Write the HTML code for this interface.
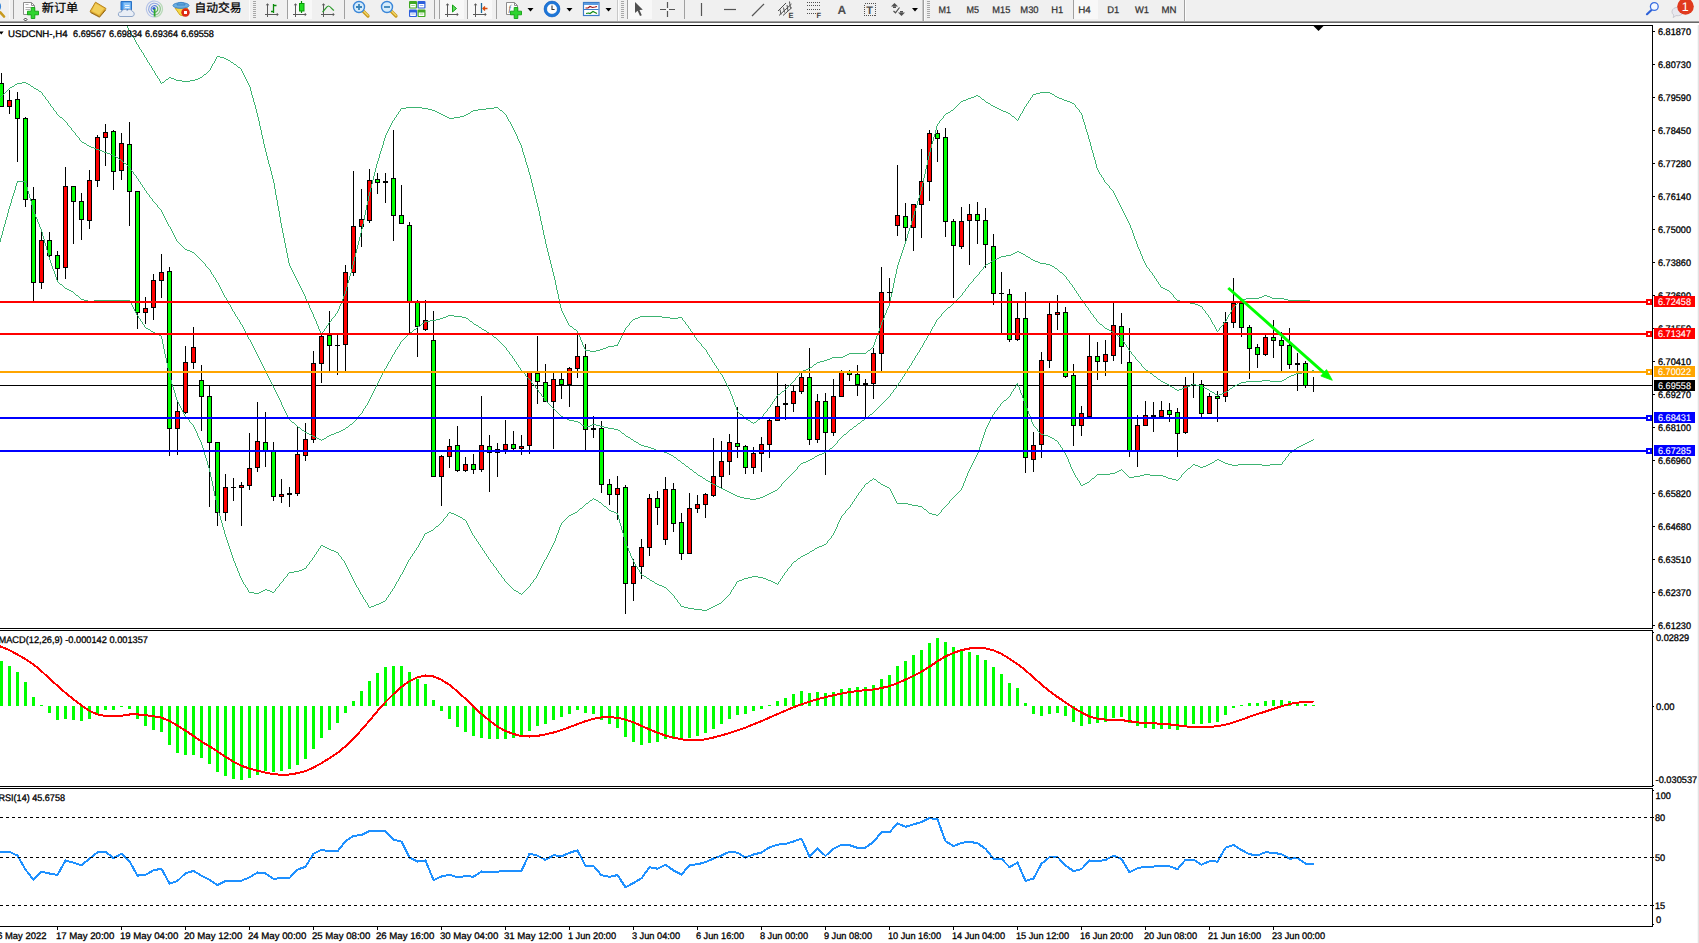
<!DOCTYPE html>
<html><head><meta charset="utf-8"><title>USDCNH-,H4</title>
<style>
html,body{margin:0;padding:0;background:#fff;overflow:hidden}
svg{display:block;font-family:"Liberation Sans","Noto Sans CJK SC",sans-serif;text-rendering:geometricPrecision}
</style></head>
<body>
<svg width="1699" height="943" viewBox="0 0 1699 943">
<rect x="0" y="0" width="1699" height="943" fill="#fff"/>
<g shape-rendering="crispEdges">
<rect x="0" y="25" width="1653" height="1" fill="#000"/>
<rect x="1652" y="25" width="1" height="604" fill="#000"/>
<rect x="0" y="628" width="1653" height="1" fill="#000"/>
<rect x="0" y="630" width="1653" height="1" fill="#000"/>
<rect x="1652" y="630" width="1" height="157" fill="#000"/>
<rect x="0" y="786" width="1653" height="1" fill="#000"/>
<rect x="0" y="788" width="1653" height="1" fill="#000"/>
<rect x="1652" y="788" width="1" height="139" fill="#000"/>
<rect x="0" y="926" width="1653" height="1" fill="#000"/>
<rect x="1653" y="31" width="2" height="1" fill="#000"/>
<rect x="1653" y="64" width="2" height="1" fill="#000"/>
<rect x="1653" y="97" width="2" height="1" fill="#000"/>
<rect x="1653" y="130" width="2" height="1" fill="#000"/>
<rect x="1653" y="163" width="2" height="1" fill="#000"/>
<rect x="1653" y="196" width="2" height="1" fill="#000"/>
<rect x="1653" y="229" width="2" height="1" fill="#000"/>
<rect x="1653" y="262" width="2" height="1" fill="#000"/>
<rect x="1653" y="295" width="2" height="1" fill="#000"/>
<rect x="1653" y="328" width="2" height="1" fill="#000"/>
<rect x="1653" y="361" width="2" height="1" fill="#000"/>
<rect x="1653" y="394" width="2" height="1" fill="#000"/>
<rect x="1653" y="427" width="2" height="1" fill="#000"/>
<rect x="1653" y="460" width="2" height="1" fill="#000"/>
<rect x="1653" y="493" width="2" height="1" fill="#000"/>
<rect x="1653" y="526" width="2" height="1" fill="#000"/>
<rect x="1653" y="559" width="2" height="1" fill="#000"/>
<rect x="1653" y="592" width="2" height="1" fill="#000"/>
<rect x="1653" y="625" width="2" height="1" fill="#000"/>
<rect x="1653" y="632" width="1" height="1" fill="#000"/>
<rect x="1653" y="706" width="1" height="1" fill="#000"/>
<rect x="1653" y="785" width="1" height="1" fill="#000"/>
<rect x="1653" y="790" width="1" height="1" fill="#000"/>
<rect x="1653" y="817" width="1" height="1" fill="#000"/>
<rect x="1653" y="857" width="1" height="1" fill="#000"/>
<rect x="1653" y="905" width="1" height="1" fill="#000"/>
<rect x="1653" y="924" width="1" height="1" fill="#000"/>
<rect x="57" y="927" width="1" height="3" fill="#000"/>
<rect x="121" y="927" width="1" height="3" fill="#000"/>
<rect x="185" y="927" width="1" height="3" fill="#000"/>
<rect x="249" y="927" width="1" height="3" fill="#000"/>
<rect x="313" y="927" width="1" height="3" fill="#000"/>
<rect x="377" y="927" width="1" height="3" fill="#000"/>
<rect x="441" y="927" width="1" height="3" fill="#000"/>
<rect x="505" y="927" width="1" height="3" fill="#000"/>
<rect x="569" y="927" width="1" height="3" fill="#000"/>
<rect x="633" y="927" width="1" height="3" fill="#000"/>
<rect x="697" y="927" width="1" height="3" fill="#000"/>
<rect x="761" y="927" width="1" height="3" fill="#000"/>
<rect x="825" y="927" width="1" height="3" fill="#000"/>
<rect x="889" y="927" width="1" height="3" fill="#000"/>
<rect x="953" y="927" width="1" height="3" fill="#000"/>
<rect x="1017" y="927" width="1" height="3" fill="#000"/>
<rect x="1081" y="927" width="1" height="3" fill="#000"/>
<rect x="1145" y="927" width="1" height="3" fill="#000"/>
<rect x="1209" y="927" width="1" height="3" fill="#000"/>
<rect x="1273" y="927" width="1" height="3" fill="#000"/>
<rect x="0" y="385" width="1652" height="1" fill="#000"/>
<rect x="1" y="73" width="1" height="34" fill="#000"/>
<rect x="-1" y="83" width="5" height="24" fill="#000"/>
<rect x="0" y="84" width="3" height="22" fill="#00ff00"/>
<rect x="9" y="90" width="1" height="24" fill="#000"/>
<rect x="7" y="100" width="5" height="7" fill="#000"/>
<rect x="8" y="101" width="3" height="5" fill="#ff0000"/>
<rect x="17" y="92" width="1" height="70" fill="#000"/>
<rect x="15" y="99" width="5" height="20" fill="#000"/>
<rect x="16" y="100" width="3" height="18" fill="#00ff00"/>
<rect x="25" y="117" width="1" height="90" fill="#000"/>
<rect x="23" y="118" width="5" height="82" fill="#000"/>
<rect x="24" y="119" width="3" height="80" fill="#00ff00"/>
<rect x="33" y="187" width="1" height="114" fill="#000"/>
<rect x="31" y="199" width="5" height="84" fill="#000"/>
<rect x="32" y="200" width="3" height="82" fill="#00ff00"/>
<rect x="41" y="229" width="1" height="60" fill="#000"/>
<rect x="39" y="240" width="5" height="43" fill="#000"/>
<rect x="40" y="241" width="3" height="41" fill="#ff0000"/>
<rect x="49" y="232" width="1" height="28" fill="#000"/>
<rect x="47" y="240" width="5" height="16" fill="#000"/>
<rect x="48" y="241" width="3" height="14" fill="#00ff00"/>
<rect x="57" y="251" width="1" height="29" fill="#000"/>
<rect x="55" y="255" width="5" height="14" fill="#000"/>
<rect x="56" y="256" width="3" height="12" fill="#00ff00"/>
<rect x="65" y="167" width="1" height="112" fill="#000"/>
<rect x="63" y="186" width="5" height="82" fill="#000"/>
<rect x="64" y="187" width="3" height="80" fill="#ff0000"/>
<rect x="73" y="186" width="1" height="58" fill="#000"/>
<rect x="71" y="186" width="5" height="16" fill="#000"/>
<rect x="72" y="187" width="3" height="14" fill="#00ff00"/>
<rect x="81" y="193" width="1" height="47" fill="#000"/>
<rect x="79" y="201" width="5" height="19" fill="#000"/>
<rect x="80" y="202" width="3" height="17" fill="#00ff00"/>
<rect x="89" y="170" width="1" height="59" fill="#000"/>
<rect x="87" y="180" width="5" height="41" fill="#000"/>
<rect x="88" y="181" width="3" height="39" fill="#ff0000"/>
<rect x="97" y="135" width="1" height="52" fill="#000"/>
<rect x="95" y="137" width="5" height="44" fill="#000"/>
<rect x="96" y="138" width="3" height="42" fill="#ff0000"/>
<rect x="105" y="124" width="1" height="42" fill="#000"/>
<rect x="103" y="132" width="5" height="6" fill="#000"/>
<rect x="104" y="133" width="3" height="4" fill="#ff0000"/>
<rect x="113" y="130" width="1" height="60" fill="#000"/>
<rect x="111" y="131" width="5" height="41" fill="#000"/>
<rect x="112" y="132" width="3" height="39" fill="#00ff00"/>
<rect x="121" y="133" width="1" height="47" fill="#000"/>
<rect x="119" y="143" width="5" height="28" fill="#000"/>
<rect x="120" y="144" width="3" height="26" fill="#ff0000"/>
<rect x="129" y="122" width="1" height="104" fill="#000"/>
<rect x="127" y="144" width="5" height="48" fill="#000"/>
<rect x="128" y="145" width="3" height="46" fill="#00ff00"/>
<rect x="137" y="191" width="1" height="138" fill="#000"/>
<rect x="135" y="191" width="5" height="122" fill="#000"/>
<rect x="136" y="192" width="3" height="120" fill="#00ff00"/>
<rect x="145" y="297" width="1" height="27" fill="#000"/>
<rect x="143" y="308" width="5" height="5" fill="#000"/>
<rect x="144" y="309" width="3" height="3" fill="#ff0000"/>
<rect x="153" y="274" width="1" height="46" fill="#000"/>
<rect x="151" y="280" width="5" height="28" fill="#000"/>
<rect x="152" y="281" width="3" height="26" fill="#ff0000"/>
<rect x="161" y="254" width="1" height="44" fill="#000"/>
<rect x="159" y="272" width="5" height="9" fill="#000"/>
<rect x="160" y="273" width="3" height="7" fill="#ff0000"/>
<rect x="169" y="267" width="1" height="189" fill="#000"/>
<rect x="167" y="271" width="5" height="158" fill="#000"/>
<rect x="168" y="272" width="3" height="156" fill="#00ff00"/>
<rect x="177" y="402" width="1" height="53" fill="#000"/>
<rect x="175" y="411" width="5" height="18" fill="#000"/>
<rect x="176" y="412" width="3" height="16" fill="#ff0000"/>
<rect x="185" y="346" width="1" height="68" fill="#000"/>
<rect x="183" y="362" width="5" height="51" fill="#000"/>
<rect x="184" y="363" width="3" height="49" fill="#ff0000"/>
<rect x="193" y="327" width="1" height="42" fill="#000"/>
<rect x="191" y="347" width="5" height="16" fill="#000"/>
<rect x="192" y="348" width="3" height="14" fill="#ff0000"/>
<rect x="201" y="365" width="1" height="66" fill="#000"/>
<rect x="199" y="380" width="5" height="17" fill="#000"/>
<rect x="200" y="381" width="3" height="15" fill="#00ff00"/>
<rect x="209" y="386" width="1" height="121" fill="#000"/>
<rect x="207" y="396" width="5" height="47" fill="#000"/>
<rect x="208" y="397" width="3" height="45" fill="#00ff00"/>
<rect x="217" y="442" width="1" height="84" fill="#000"/>
<rect x="215" y="442" width="5" height="71" fill="#000"/>
<rect x="216" y="443" width="3" height="69" fill="#00ff00"/>
<rect x="225" y="474" width="1" height="47" fill="#000"/>
<rect x="223" y="487" width="5" height="26" fill="#000"/>
<rect x="224" y="488" width="3" height="24" fill="#ff0000"/>
<rect x="233" y="478" width="1" height="23" fill="#000"/>
<rect x="231" y="487" width="5" height="1" fill="#000"/>
<rect x="241" y="482" width="1" height="44" fill="#000"/>
<rect x="239" y="485" width="5" height="3" fill="#000"/>
<rect x="240" y="486" width="3" height="1" fill="#ff0000"/>
<rect x="249" y="433" width="1" height="57" fill="#000"/>
<rect x="247" y="468" width="5" height="18" fill="#000"/>
<rect x="248" y="469" width="3" height="16" fill="#ff0000"/>
<rect x="257" y="402" width="1" height="70" fill="#000"/>
<rect x="255" y="441" width="5" height="27" fill="#000"/>
<rect x="256" y="442" width="3" height="25" fill="#ff0000"/>
<rect x="265" y="412" width="1" height="55" fill="#000"/>
<rect x="263" y="442" width="5" height="9" fill="#000"/>
<rect x="264" y="443" width="3" height="7" fill="#00ff00"/>
<rect x="273" y="442" width="1" height="59" fill="#000"/>
<rect x="271" y="450" width="5" height="47" fill="#000"/>
<rect x="272" y="451" width="3" height="45" fill="#00ff00"/>
<rect x="281" y="479" width="1" height="24" fill="#000"/>
<rect x="279" y="494" width="5" height="3" fill="#000"/>
<rect x="280" y="495" width="3" height="1" fill="#ff0000"/>
<rect x="289" y="487" width="1" height="20" fill="#000"/>
<rect x="287" y="493" width="5" height="2" fill="#000"/>
<rect x="297" y="427" width="1" height="69" fill="#000"/>
<rect x="295" y="454" width="5" height="40" fill="#000"/>
<rect x="296" y="455" width="3" height="38" fill="#ff0000"/>
<rect x="305" y="423" width="1" height="38" fill="#000"/>
<rect x="303" y="439" width="5" height="17" fill="#000"/>
<rect x="304" y="440" width="3" height="15" fill="#ff0000"/>
<rect x="313" y="351" width="1" height="92" fill="#000"/>
<rect x="311" y="363" width="5" height="77" fill="#000"/>
<rect x="312" y="364" width="3" height="75" fill="#ff0000"/>
<rect x="321" y="335" width="1" height="48" fill="#000"/>
<rect x="319" y="336" width="5" height="28" fill="#000"/>
<rect x="320" y="337" width="3" height="26" fill="#ff0000"/>
<rect x="329" y="311" width="1" height="60" fill="#000"/>
<rect x="327" y="335" width="5" height="11" fill="#000"/>
<rect x="328" y="336" width="3" height="9" fill="#00ff00"/>
<rect x="337" y="335" width="1" height="40" fill="#000"/>
<rect x="335" y="345" width="5" height="1" fill="#000"/>
<rect x="345" y="265" width="1" height="107" fill="#000"/>
<rect x="343" y="272" width="5" height="73" fill="#000"/>
<rect x="344" y="273" width="3" height="71" fill="#ff0000"/>
<rect x="353" y="171" width="1" height="105" fill="#000"/>
<rect x="351" y="226" width="5" height="47" fill="#000"/>
<rect x="352" y="227" width="3" height="45" fill="#ff0000"/>
<rect x="361" y="189" width="1" height="58" fill="#000"/>
<rect x="359" y="219" width="5" height="8" fill="#000"/>
<rect x="360" y="220" width="3" height="6" fill="#ff0000"/>
<rect x="369" y="169" width="1" height="54" fill="#000"/>
<rect x="367" y="180" width="5" height="41" fill="#000"/>
<rect x="368" y="181" width="3" height="39" fill="#ff0000"/>
<rect x="377" y="173" width="1" height="21" fill="#000"/>
<rect x="375" y="179" width="5" height="4" fill="#000"/>
<rect x="376" y="180" width="3" height="2" fill="#00ff00"/>
<rect x="385" y="173" width="1" height="30" fill="#000"/>
<rect x="383" y="181" width="5" height="2" fill="#000"/>
<rect x="393" y="130" width="1" height="111" fill="#000"/>
<rect x="391" y="178" width="5" height="38" fill="#000"/>
<rect x="392" y="179" width="3" height="36" fill="#00ff00"/>
<rect x="401" y="185" width="1" height="39" fill="#000"/>
<rect x="399" y="215" width="5" height="9" fill="#000"/>
<rect x="400" y="216" width="3" height="7" fill="#00ff00"/>
<rect x="409" y="222" width="1" height="111" fill="#000"/>
<rect x="407" y="225" width="5" height="77" fill="#000"/>
<rect x="408" y="226" width="3" height="75" fill="#00ff00"/>
<rect x="417" y="300" width="1" height="57" fill="#000"/>
<rect x="415" y="302" width="5" height="25" fill="#000"/>
<rect x="416" y="303" width="3" height="23" fill="#00ff00"/>
<rect x="425" y="300" width="1" height="31" fill="#000"/>
<rect x="423" y="320" width="5" height="10" fill="#000"/>
<rect x="424" y="321" width="3" height="8" fill="#ff0000"/>
<rect x="433" y="311" width="1" height="166" fill="#000"/>
<rect x="431" y="340" width="5" height="137" fill="#000"/>
<rect x="432" y="341" width="3" height="135" fill="#00ff00"/>
<rect x="441" y="455" width="1" height="51" fill="#000"/>
<rect x="439" y="456" width="5" height="21" fill="#000"/>
<rect x="440" y="457" width="3" height="19" fill="#ff0000"/>
<rect x="449" y="439" width="1" height="29" fill="#000"/>
<rect x="447" y="446" width="5" height="11" fill="#000"/>
<rect x="448" y="447" width="3" height="9" fill="#ff0000"/>
<rect x="457" y="426" width="1" height="46" fill="#000"/>
<rect x="455" y="445" width="5" height="26" fill="#000"/>
<rect x="456" y="446" width="3" height="24" fill="#00ff00"/>
<rect x="465" y="457" width="1" height="15" fill="#000"/>
<rect x="463" y="464" width="5" height="7" fill="#000"/>
<rect x="464" y="465" width="3" height="5" fill="#ff0000"/>
<rect x="473" y="454" width="1" height="20" fill="#000"/>
<rect x="471" y="464" width="5" height="6" fill="#000"/>
<rect x="472" y="465" width="3" height="4" fill="#00ff00"/>
<rect x="481" y="396" width="1" height="76" fill="#000"/>
<rect x="479" y="445" width="5" height="25" fill="#000"/>
<rect x="480" y="446" width="3" height="23" fill="#ff0000"/>
<rect x="489" y="435" width="1" height="57" fill="#000"/>
<rect x="487" y="446" width="5" height="7" fill="#000"/>
<rect x="488" y="447" width="3" height="5" fill="#00ff00"/>
<rect x="497" y="443" width="1" height="34" fill="#000"/>
<rect x="495" y="449" width="5" height="4" fill="#000"/>
<rect x="496" y="450" width="3" height="2" fill="#ff0000"/>
<rect x="505" y="420" width="1" height="34" fill="#000"/>
<rect x="503" y="444" width="5" height="6" fill="#000"/>
<rect x="504" y="445" width="3" height="4" fill="#ff0000"/>
<rect x="513" y="431" width="1" height="19" fill="#000"/>
<rect x="511" y="444" width="5" height="5" fill="#000"/>
<rect x="512" y="445" width="3" height="3" fill="#00ff00"/>
<rect x="521" y="435" width="1" height="20" fill="#000"/>
<rect x="519" y="446" width="5" height="3" fill="#000"/>
<rect x="520" y="447" width="3" height="1" fill="#ff0000"/>
<rect x="529" y="372" width="1" height="82" fill="#000"/>
<rect x="527" y="372" width="5" height="74" fill="#000"/>
<rect x="528" y="373" width="3" height="72" fill="#ff0000"/>
<rect x="537" y="336" width="1" height="68" fill="#000"/>
<rect x="535" y="373" width="5" height="9" fill="#000"/>
<rect x="536" y="374" width="3" height="7" fill="#00ff00"/>
<rect x="545" y="364" width="1" height="38" fill="#000"/>
<rect x="543" y="382" width="5" height="20" fill="#000"/>
<rect x="544" y="383" width="3" height="18" fill="#00ff00"/>
<rect x="553" y="373" width="1" height="76" fill="#000"/>
<rect x="551" y="379" width="5" height="23" fill="#000"/>
<rect x="552" y="380" width="3" height="21" fill="#ff0000"/>
<rect x="561" y="373" width="1" height="26" fill="#000"/>
<rect x="559" y="379" width="5" height="6" fill="#000"/>
<rect x="560" y="380" width="3" height="4" fill="#00ff00"/>
<rect x="569" y="367" width="1" height="40" fill="#000"/>
<rect x="567" y="368" width="5" height="17" fill="#000"/>
<rect x="568" y="369" width="3" height="15" fill="#ff0000"/>
<rect x="577" y="332" width="1" height="46" fill="#000"/>
<rect x="575" y="356" width="5" height="13" fill="#000"/>
<rect x="576" y="357" width="3" height="11" fill="#ff0000"/>
<rect x="585" y="344" width="1" height="106" fill="#000"/>
<rect x="583" y="356" width="5" height="74" fill="#000"/>
<rect x="584" y="357" width="3" height="72" fill="#00ff00"/>
<rect x="593" y="416" width="1" height="22" fill="#000"/>
<rect x="591" y="428" width="5" height="2" fill="#000"/>
<rect x="601" y="421" width="1" height="72" fill="#000"/>
<rect x="599" y="428" width="5" height="57" fill="#000"/>
<rect x="600" y="429" width="3" height="55" fill="#00ff00"/>
<rect x="609" y="479" width="1" height="26" fill="#000"/>
<rect x="607" y="484" width="5" height="11" fill="#000"/>
<rect x="608" y="485" width="3" height="9" fill="#00ff00"/>
<rect x="617" y="476" width="1" height="44" fill="#000"/>
<rect x="615" y="488" width="5" height="7" fill="#000"/>
<rect x="616" y="489" width="3" height="5" fill="#ff0000"/>
<rect x="625" y="485" width="1" height="129" fill="#000"/>
<rect x="623" y="487" width="5" height="97" fill="#000"/>
<rect x="624" y="488" width="3" height="95" fill="#00ff00"/>
<rect x="633" y="559" width="1" height="42" fill="#000"/>
<rect x="631" y="566" width="5" height="18" fill="#000"/>
<rect x="632" y="567" width="3" height="16" fill="#ff0000"/>
<rect x="641" y="539" width="1" height="40" fill="#000"/>
<rect x="639" y="547" width="5" height="20" fill="#000"/>
<rect x="640" y="548" width="3" height="18" fill="#ff0000"/>
<rect x="649" y="494" width="1" height="62" fill="#000"/>
<rect x="647" y="498" width="5" height="50" fill="#000"/>
<rect x="648" y="499" width="3" height="48" fill="#ff0000"/>
<rect x="657" y="491" width="1" height="34" fill="#000"/>
<rect x="655" y="498" width="5" height="10" fill="#000"/>
<rect x="656" y="499" width="3" height="8" fill="#00ff00"/>
<rect x="665" y="477" width="1" height="68" fill="#000"/>
<rect x="663" y="489" width="5" height="51" fill="#000"/>
<rect x="664" y="490" width="3" height="49" fill="#ff0000"/>
<rect x="673" y="483" width="1" height="49" fill="#000"/>
<rect x="671" y="489" width="5" height="35" fill="#000"/>
<rect x="672" y="490" width="3" height="33" fill="#00ff00"/>
<rect x="681" y="513" width="1" height="47" fill="#000"/>
<rect x="679" y="522" width="5" height="32" fill="#000"/>
<rect x="680" y="523" width="3" height="30" fill="#00ff00"/>
<rect x="689" y="493" width="1" height="61" fill="#000"/>
<rect x="687" y="508" width="5" height="46" fill="#000"/>
<rect x="688" y="509" width="3" height="44" fill="#ff0000"/>
<rect x="697" y="495" width="1" height="18" fill="#000"/>
<rect x="695" y="504" width="5" height="5" fill="#000"/>
<rect x="696" y="505" width="3" height="3" fill="#ff0000"/>
<rect x="705" y="493" width="1" height="25" fill="#000"/>
<rect x="703" y="494" width="5" height="11" fill="#000"/>
<rect x="704" y="495" width="3" height="9" fill="#ff0000"/>
<rect x="713" y="438" width="1" height="59" fill="#000"/>
<rect x="711" y="476" width="5" height="20" fill="#000"/>
<rect x="712" y="477" width="3" height="18" fill="#ff0000"/>
<rect x="721" y="441" width="1" height="47" fill="#000"/>
<rect x="719" y="461" width="5" height="16" fill="#000"/>
<rect x="720" y="462" width="3" height="14" fill="#ff0000"/>
<rect x="729" y="434" width="1" height="41" fill="#000"/>
<rect x="727" y="442" width="5" height="20" fill="#000"/>
<rect x="728" y="443" width="3" height="18" fill="#ff0000"/>
<rect x="737" y="407" width="1" height="51" fill="#000"/>
<rect x="735" y="443" width="5" height="4" fill="#000"/>
<rect x="736" y="444" width="3" height="2" fill="#00ff00"/>
<rect x="745" y="445" width="1" height="29" fill="#000"/>
<rect x="743" y="446" width="5" height="22" fill="#000"/>
<rect x="744" y="447" width="3" height="20" fill="#00ff00"/>
<rect x="753" y="447" width="1" height="27" fill="#000"/>
<rect x="751" y="453" width="5" height="15" fill="#000"/>
<rect x="752" y="454" width="3" height="13" fill="#ff0000"/>
<rect x="761" y="437" width="1" height="35" fill="#000"/>
<rect x="759" y="444" width="5" height="10" fill="#000"/>
<rect x="760" y="445" width="3" height="8" fill="#ff0000"/>
<rect x="769" y="419" width="1" height="39" fill="#000"/>
<rect x="767" y="420" width="5" height="25" fill="#000"/>
<rect x="768" y="421" width="3" height="23" fill="#ff0000"/>
<rect x="777" y="372" width="1" height="49" fill="#000"/>
<rect x="775" y="406" width="5" height="15" fill="#000"/>
<rect x="776" y="407" width="3" height="13" fill="#ff0000"/>
<rect x="785" y="384" width="1" height="36" fill="#000"/>
<rect x="783" y="403" width="5" height="2" fill="#000"/>
<rect x="793" y="385" width="1" height="27" fill="#000"/>
<rect x="791" y="391" width="5" height="13" fill="#000"/>
<rect x="792" y="392" width="3" height="11" fill="#ff0000"/>
<rect x="801" y="373" width="1" height="21" fill="#000"/>
<rect x="799" y="377" width="5" height="15" fill="#000"/>
<rect x="800" y="378" width="3" height="13" fill="#ff0000"/>
<rect x="809" y="348" width="1" height="97" fill="#000"/>
<rect x="807" y="377" width="5" height="63" fill="#000"/>
<rect x="808" y="378" width="3" height="61" fill="#00ff00"/>
<rect x="817" y="394" width="1" height="49" fill="#000"/>
<rect x="815" y="401" width="5" height="39" fill="#000"/>
<rect x="816" y="402" width="3" height="37" fill="#ff0000"/>
<rect x="825" y="393" width="1" height="82" fill="#000"/>
<rect x="823" y="401" width="5" height="32" fill="#000"/>
<rect x="824" y="402" width="3" height="30" fill="#00ff00"/>
<rect x="833" y="379" width="1" height="57" fill="#000"/>
<rect x="831" y="396" width="5" height="37" fill="#000"/>
<rect x="832" y="397" width="3" height="35" fill="#ff0000"/>
<rect x="841" y="370" width="1" height="27" fill="#000"/>
<rect x="839" y="372" width="5" height="25" fill="#000"/>
<rect x="840" y="373" width="3" height="23" fill="#ff0000"/>
<rect x="849" y="370" width="1" height="11" fill="#000"/>
<rect x="847" y="372" width="5" height="3" fill="#000"/>
<rect x="848" y="373" width="3" height="1" fill="#00ff00"/>
<rect x="857" y="365" width="1" height="31" fill="#000"/>
<rect x="855" y="374" width="5" height="11" fill="#000"/>
<rect x="856" y="375" width="3" height="9" fill="#00ff00"/>
<rect x="865" y="379" width="1" height="38" fill="#000"/>
<rect x="863" y="383" width="5" height="2" fill="#000"/>
<rect x="873" y="348" width="1" height="51" fill="#000"/>
<rect x="871" y="353" width="5" height="31" fill="#000"/>
<rect x="872" y="354" width="3" height="29" fill="#ff0000"/>
<rect x="881" y="267" width="1" height="104" fill="#000"/>
<rect x="879" y="292" width="5" height="62" fill="#000"/>
<rect x="880" y="293" width="3" height="60" fill="#ff0000"/>
<rect x="889" y="278" width="1" height="23" fill="#000"/>
<rect x="887" y="292" width="5" height="1" fill="#000"/>
<rect x="897" y="165" width="1" height="71" fill="#000"/>
<rect x="895" y="215" width="5" height="11" fill="#000"/>
<rect x="896" y="216" width="3" height="9" fill="#ff0000"/>
<rect x="905" y="203" width="1" height="39" fill="#000"/>
<rect x="903" y="216" width="5" height="12" fill="#000"/>
<rect x="904" y="217" width="3" height="10" fill="#00ff00"/>
<rect x="913" y="204" width="1" height="47" fill="#000"/>
<rect x="911" y="204" width="5" height="24" fill="#000"/>
<rect x="912" y="205" width="3" height="22" fill="#ff0000"/>
<rect x="921" y="149" width="1" height="89" fill="#000"/>
<rect x="919" y="181" width="5" height="24" fill="#000"/>
<rect x="920" y="182" width="3" height="22" fill="#ff0000"/>
<rect x="929" y="130" width="1" height="71" fill="#000"/>
<rect x="927" y="133" width="5" height="49" fill="#000"/>
<rect x="928" y="134" width="3" height="47" fill="#ff0000"/>
<rect x="937" y="130" width="1" height="32" fill="#000"/>
<rect x="935" y="133" width="5" height="6" fill="#000"/>
<rect x="936" y="134" width="3" height="4" fill="#00ff00"/>
<rect x="945" y="128" width="1" height="109" fill="#000"/>
<rect x="943" y="137" width="5" height="85" fill="#000"/>
<rect x="944" y="138" width="3" height="83" fill="#00ff00"/>
<rect x="953" y="219" width="1" height="79" fill="#000"/>
<rect x="951" y="221" width="5" height="25" fill="#000"/>
<rect x="952" y="222" width="3" height="23" fill="#00ff00"/>
<rect x="961" y="207" width="1" height="42" fill="#000"/>
<rect x="959" y="221" width="5" height="26" fill="#000"/>
<rect x="960" y="222" width="3" height="24" fill="#ff0000"/>
<rect x="969" y="204" width="1" height="61" fill="#000"/>
<rect x="967" y="214" width="5" height="7" fill="#000"/>
<rect x="968" y="215" width="3" height="5" fill="#ff0000"/>
<rect x="977" y="202" width="1" height="42" fill="#000"/>
<rect x="975" y="214" width="5" height="7" fill="#000"/>
<rect x="976" y="215" width="3" height="5" fill="#00ff00"/>
<rect x="985" y="208" width="1" height="60" fill="#000"/>
<rect x="983" y="220" width="5" height="25" fill="#000"/>
<rect x="984" y="221" width="3" height="23" fill="#00ff00"/>
<rect x="993" y="234" width="1" height="71" fill="#000"/>
<rect x="991" y="246" width="5" height="48" fill="#000"/>
<rect x="992" y="247" width="3" height="46" fill="#00ff00"/>
<rect x="1001" y="272" width="1" height="61" fill="#000"/>
<rect x="999" y="293" width="5" height="1" fill="#000"/>
<rect x="1009" y="289" width="1" height="53" fill="#000"/>
<rect x="1007" y="294" width="5" height="46" fill="#000"/>
<rect x="1008" y="295" width="3" height="44" fill="#00ff00"/>
<rect x="1017" y="303" width="1" height="38" fill="#000"/>
<rect x="1015" y="318" width="5" height="22" fill="#000"/>
<rect x="1016" y="319" width="3" height="20" fill="#ff0000"/>
<rect x="1025" y="292" width="1" height="181" fill="#000"/>
<rect x="1023" y="318" width="5" height="140" fill="#000"/>
<rect x="1024" y="319" width="3" height="138" fill="#00ff00"/>
<rect x="1033" y="432" width="1" height="40" fill="#000"/>
<rect x="1031" y="445" width="5" height="15" fill="#000"/>
<rect x="1032" y="446" width="3" height="13" fill="#ff0000"/>
<rect x="1041" y="352" width="1" height="106" fill="#000"/>
<rect x="1039" y="360" width="5" height="85" fill="#000"/>
<rect x="1040" y="361" width="3" height="83" fill="#ff0000"/>
<rect x="1049" y="303" width="1" height="65" fill="#000"/>
<rect x="1047" y="314" width="5" height="47" fill="#000"/>
<rect x="1048" y="315" width="3" height="45" fill="#ff0000"/>
<rect x="1057" y="295" width="1" height="35" fill="#000"/>
<rect x="1055" y="312" width="5" height="3" fill="#000"/>
<rect x="1056" y="313" width="3" height="1" fill="#ff0000"/>
<rect x="1065" y="307" width="1" height="71" fill="#000"/>
<rect x="1063" y="312" width="5" height="65" fill="#000"/>
<rect x="1064" y="313" width="3" height="63" fill="#00ff00"/>
<rect x="1073" y="364" width="1" height="82" fill="#000"/>
<rect x="1071" y="375" width="5" height="51" fill="#000"/>
<rect x="1072" y="376" width="3" height="49" fill="#00ff00"/>
<rect x="1081" y="406" width="1" height="30" fill="#000"/>
<rect x="1079" y="413" width="5" height="13" fill="#000"/>
<rect x="1080" y="414" width="3" height="11" fill="#ff0000"/>
<rect x="1089" y="335" width="1" height="82" fill="#000"/>
<rect x="1087" y="356" width="5" height="61" fill="#000"/>
<rect x="1088" y="357" width="3" height="59" fill="#ff0000"/>
<rect x="1097" y="342" width="1" height="38" fill="#000"/>
<rect x="1095" y="356" width="5" height="6" fill="#000"/>
<rect x="1096" y="357" width="3" height="4" fill="#00ff00"/>
<rect x="1105" y="340" width="1" height="36" fill="#000"/>
<rect x="1103" y="354" width="5" height="8" fill="#000"/>
<rect x="1104" y="355" width="3" height="6" fill="#ff0000"/>
<rect x="1113" y="303" width="1" height="58" fill="#000"/>
<rect x="1111" y="325" width="5" height="31" fill="#000"/>
<rect x="1112" y="326" width="3" height="29" fill="#ff0000"/>
<rect x="1121" y="313" width="1" height="51" fill="#000"/>
<rect x="1119" y="326" width="5" height="21" fill="#000"/>
<rect x="1120" y="327" width="3" height="19" fill="#00ff00"/>
<rect x="1129" y="328" width="1" height="129" fill="#000"/>
<rect x="1127" y="362" width="5" height="89" fill="#000"/>
<rect x="1128" y="363" width="3" height="87" fill="#00ff00"/>
<rect x="1137" y="415" width="1" height="52" fill="#000"/>
<rect x="1135" y="425" width="5" height="26" fill="#000"/>
<rect x="1136" y="426" width="3" height="24" fill="#ff0000"/>
<rect x="1145" y="401" width="1" height="25" fill="#000"/>
<rect x="1143" y="415" width="5" height="11" fill="#000"/>
<rect x="1144" y="416" width="3" height="9" fill="#ff0000"/>
<rect x="1153" y="402" width="1" height="30" fill="#000"/>
<rect x="1151" y="415" width="5" height="2" fill="#000"/>
<rect x="1161" y="401" width="1" height="16" fill="#000"/>
<rect x="1159" y="410" width="5" height="7" fill="#000"/>
<rect x="1160" y="411" width="3" height="5" fill="#ff0000"/>
<rect x="1169" y="403" width="1" height="19" fill="#000"/>
<rect x="1167" y="410" width="5" height="5" fill="#000"/>
<rect x="1168" y="411" width="3" height="3" fill="#00ff00"/>
<rect x="1177" y="408" width="1" height="49" fill="#000"/>
<rect x="1175" y="412" width="5" height="22" fill="#000"/>
<rect x="1176" y="413" width="3" height="20" fill="#00ff00"/>
<rect x="1185" y="377" width="1" height="57" fill="#000"/>
<rect x="1183" y="385" width="5" height="48" fill="#000"/>
<rect x="1184" y="386" width="3" height="46" fill="#ff0000"/>
<rect x="1193" y="373" width="1" height="25" fill="#000"/>
<rect x="1191" y="384" width="5" height="1" fill="#000"/>
<rect x="1201" y="380" width="1" height="37" fill="#000"/>
<rect x="1199" y="384" width="5" height="30" fill="#000"/>
<rect x="1200" y="385" width="3" height="28" fill="#00ff00"/>
<rect x="1209" y="393" width="1" height="21" fill="#000"/>
<rect x="1207" y="396" width="5" height="18" fill="#000"/>
<rect x="1208" y="397" width="3" height="16" fill="#ff0000"/>
<rect x="1217" y="391" width="1" height="31" fill="#000"/>
<rect x="1215" y="396" width="5" height="3" fill="#000"/>
<rect x="1216" y="397" width="3" height="1" fill="#00ff00"/>
<rect x="1225" y="312" width="1" height="90" fill="#000"/>
<rect x="1223" y="322" width="5" height="75" fill="#000"/>
<rect x="1224" y="323" width="3" height="73" fill="#ff0000"/>
<rect x="1233" y="278" width="1" height="50" fill="#000"/>
<rect x="1231" y="303" width="5" height="20" fill="#000"/>
<rect x="1232" y="304" width="3" height="18" fill="#ff0000"/>
<rect x="1241" y="300" width="1" height="37" fill="#000"/>
<rect x="1239" y="303" width="5" height="25" fill="#000"/>
<rect x="1240" y="304" width="3" height="23" fill="#00ff00"/>
<rect x="1249" y="325" width="1" height="54" fill="#000"/>
<rect x="1247" y="327" width="5" height="22" fill="#000"/>
<rect x="1248" y="328" width="3" height="20" fill="#00ff00"/>
<rect x="1257" y="344" width="1" height="24" fill="#000"/>
<rect x="1255" y="347" width="5" height="8" fill="#000"/>
<rect x="1256" y="348" width="3" height="6" fill="#00ff00"/>
<rect x="1265" y="335" width="1" height="21" fill="#000"/>
<rect x="1263" y="337" width="5" height="18" fill="#000"/>
<rect x="1264" y="338" width="3" height="16" fill="#ff0000"/>
<rect x="1273" y="320" width="1" height="38" fill="#000"/>
<rect x="1271" y="337" width="5" height="4" fill="#000"/>
<rect x="1272" y="338" width="3" height="2" fill="#00ff00"/>
<rect x="1281" y="332" width="1" height="39" fill="#000"/>
<rect x="1279" y="340" width="5" height="6" fill="#000"/>
<rect x="1280" y="341" width="3" height="4" fill="#00ff00"/>
<rect x="1289" y="328" width="1" height="41" fill="#000"/>
<rect x="1287" y="345" width="5" height="20" fill="#000"/>
<rect x="1288" y="346" width="3" height="18" fill="#00ff00"/>
<rect x="1297" y="353" width="1" height="38" fill="#000"/>
<rect x="1295" y="363" width="5" height="2" fill="#000"/>
<rect x="1305" y="361" width="1" height="27" fill="#000"/>
<rect x="1303" y="363" width="5" height="23" fill="#000"/>
<rect x="1304" y="364" width="3" height="21" fill="#00ff00"/>
<rect x="1313" y="377" width="1" height="15" fill="#000"/>
<rect x="1311" y="385" width="5" height="1" fill="#000"/>
</g>
<path d="M127 26h1v1h-1zM127 27h1v1h-1zM128 28h1v1h-1zM128 29h1v1h-1zM129 30h1v1h-1zM130 31h1v1h-1zM130 32h1v1h-1zM131 33h1v1h-1zM131 34h1v1h-1zM132 35h1v1h-1zM132 36h1v1h-1zM133 37h1v1h-1zM134 38h1v1h-1zM134 39h1v1h-1zM135 40h1v1h-1zM135 41h1v1h-1zM136 42h1v1h-1zM136 43h1v1h-1zM137 44h1v1h-1zM138 45h1v1h-1zM138 46h1v1h-1zM139 47h1v1h-1zM139 48h1v1h-1zM140 49h1v1h-1zM141 50h1v1h-1zM141 51h1v1h-1zM142 52h1v1h-1zM143 53h1v1h-1zM143 54h1v1h-1zM144 55h1v1h-1zM144 56h1v1h-1zM217 56h3v1h-3zM145 57h1v1h-1zM216 57h1v1h-1zM220 57h4v1h-4zM146 58h1v1h-1zM216 58h1v1h-1zM224 58h2v1h-2zM146 59h1v1h-1zM215 59h1v1h-1zM226 59h2v1h-2zM147 60h1v1h-1zM215 60h1v1h-1zM228 60h2v1h-2zM147 61h1v1h-1zM214 61h1v1h-1zM230 61h1v1h-1zM148 62h1v1h-1zM214 62h1v1h-1zM231 62h2v1h-2zM149 63h1v1h-1zM213 63h1v1h-1zM233 63h1v1h-1zM149 64h1v1h-1zM212 64h1v1h-1zM234 64h2v1h-2zM150 65h1v1h-1zM212 65h1v1h-1zM236 65h1v1h-1zM151 66h1v1h-1zM211 66h1v1h-1zM237 66h1v1h-1zM151 67h1v1h-1zM211 67h1v1h-1zM238 67h2v1h-2zM152 68h1v1h-1zM210 68h1v1h-1zM240 68h1v1h-1zM152 69h1v1h-1zM210 69h1v1h-1zM241 69h1v1h-1zM153 70h1v1h-1zM209 70h1v1h-1zM241 70h1v1h-1zM154 71h1v1h-1zM208 71h1v1h-1zM242 71h1v1h-1zM154 72h1v1h-1zM207 72h1v1h-1zM242 72h1v1h-1zM155 73h1v1h-1zM206 73h1v1h-1zM243 73h1v1h-1zM155 74h1v1h-1zM204 74h2v1h-2zM243 74h1v1h-1zM156 75h1v1h-1zM203 75h1v1h-1zM244 75h1v1h-1zM157 76h1v1h-1zM202 76h1v1h-1zM244 76h1v1h-1zM157 77h1v1h-1zM169 77h2v1h-2zM200 77h2v1h-2zM245 77h1v1h-1zM158 78h1v1h-1zM168 78h1v1h-1zM171 78h3v1h-3zM198 78h2v1h-2zM245 78h1v1h-1zM159 79h1v1h-1zM166 79h2v1h-2zM174 79h2v1h-2zM195 79h3v1h-3zM246 79h1v1h-1zM159 80h1v1h-1zM165 80h1v1h-1zM176 80h6v1h-6zM190 80h5v1h-5zM246 80h1v1h-1zM160 81h1v1h-1zM164 81h1v1h-1zM182 81h8v1h-8zM247 81h1v1h-1zM160 82h1v1h-1zM162 82h2v1h-2zM247 82h1v1h-1zM161 83h1v1h-1zM248 83h1v1h-1zM248 84h1v1h-1zM249 85h1v1h-1zM249 86h1v1h-1zM250 87h1v1h-1zM250 88h1v1h-1zM250 89h1v1h-1zM250 90h1v1h-1zM251 91h1v1h-1zM251 92h1v1h-1zM1040 92h10v1h-10zM251 93h1v1h-1zM1036 93h4v1h-4zM1050 93h2v1h-2zM251 94h1v1h-1zM1033 94h3v1h-3zM1052 94h2v1h-2zM252 95h1v1h-1zM976 95h2v1h-2zM1032 95h1v1h-1zM1054 95h1v1h-1zM252 96h1v1h-1zM974 96h2v1h-2zM978 96h2v1h-2zM1032 96h1v1h-1zM1055 96h2v1h-2zM252 97h1v1h-1zM971 97h3v1h-3zM980 97h1v1h-1zM1031 97h1v1h-1zM1057 97h2v1h-2zM253 98h1v1h-1zM968 98h3v1h-3zM981 98h1v1h-1zM1030 98h1v1h-1zM1059 98h3v1h-3zM253 99h1v1h-1zM966 99h2v1h-2zM982 99h2v1h-2zM1030 99h1v1h-1zM1062 99h2v1h-2zM253 100h1v1h-1zM963 100h3v1h-3zM984 100h1v1h-1zM1029 100h1v1h-1zM1064 100h3v1h-3zM253 101h1v1h-1zM961 101h2v1h-2zM985 101h1v1h-1zM1028 101h1v1h-1zM1067 101h3v1h-3zM254 102h1v1h-1zM960 102h1v1h-1zM986 102h2v1h-2zM1028 102h1v1h-1zM1070 102h2v1h-2zM254 103h1v1h-1zM959 103h1v1h-1zM988 103h2v1h-2zM1027 103h1v1h-1zM1072 103h2v1h-2zM254 104h1v1h-1zM958 104h1v1h-1zM990 104h1v1h-1zM1026 104h1v1h-1zM1074 104h1v1h-1zM255 105h1v1h-1zM957 105h1v1h-1zM991 105h2v1h-2zM1026 105h1v1h-1zM1075 105h1v1h-1zM255 106h1v1h-1zM956 106h1v1h-1zM993 106h2v1h-2zM1025 106h1v1h-1zM1075 106h1v1h-1zM255 107h1v1h-1zM406 107h16v1h-16zM494 107h4v1h-4zM955 107h1v1h-1zM995 107h2v1h-2zM1024 107h1v1h-1zM1076 107h1v1h-1zM255 108h1v1h-1zM401 108h5v1h-5zM422 108h6v1h-6zM486 108h8v1h-8zM498 108h1v1h-1zM954 108h1v1h-1zM997 108h2v1h-2zM1024 108h1v1h-1zM1077 108h1v1h-1zM256 109h1v1h-1zM400 109h1v1h-1zM428 109h4v1h-4zM478 109h8v1h-8zM499 109h1v1h-1zM953 109h1v1h-1zM999 109h2v1h-2zM1023 109h1v1h-1zM1078 109h1v1h-1zM256 110h1v1h-1zM400 110h1v1h-1zM432 110h3v1h-3zM473 110h5v1h-5zM500 110h2v1h-2zM951 110h2v1h-2zM1001 110h2v1h-2zM1023 110h1v1h-1zM1079 110h1v1h-1zM256 111h1v1h-1zM399 111h1v1h-1zM435 111h2v1h-2zM471 111h2v1h-2zM502 111h1v1h-1zM950 111h1v1h-1zM1003 111h3v1h-3zM1022 111h1v1h-1zM1079 111h1v1h-1zM256 112h1v1h-1zM398 112h1v1h-1zM437 112h2v1h-2zM470 112h1v1h-1zM503 112h1v1h-1zM948 112h2v1h-2zM1006 112h2v1h-2zM1022 112h1v1h-1zM1080 112h1v1h-1zM257 113h1v1h-1zM398 113h1v1h-1zM439 113h2v1h-2zM468 113h2v1h-2zM504 113h1v1h-1zM946 113h2v1h-2zM1008 113h2v1h-2zM1021 113h1v1h-1zM1081 113h1v1h-1zM257 114h1v1h-1zM397 114h1v1h-1zM441 114h2v1h-2zM466 114h2v1h-2zM505 114h1v1h-1zM945 114h1v1h-1zM1010 114h1v1h-1zM1020 114h1v1h-1zM1081 114h1v1h-1zM257 115h1v1h-1zM396 115h1v1h-1zM443 115h2v1h-2zM464 115h2v1h-2zM506 115h1v1h-1zM944 115h1v1h-1zM1011 115h1v1h-1zM1020 115h1v1h-1zM1082 115h1v1h-1zM257 116h1v1h-1zM396 116h1v1h-1zM445 116h2v1h-2zM460 116h4v1h-4zM506 116h1v1h-1zM943 116h1v1h-1zM1012 116h2v1h-2zM1019 116h1v1h-1zM1082 116h1v1h-1zM258 117h1v1h-1zM395 117h1v1h-1zM447 117h2v1h-2zM454 117h6v1h-6zM507 117h1v1h-1zM943 117h1v1h-1zM1014 117h1v1h-1zM1019 117h1v1h-1zM1082 117h1v1h-1zM258 118h1v1h-1zM394 118h1v1h-1zM449 118h5v1h-5zM507 118h1v1h-1zM942 118h1v1h-1zM1015 118h1v1h-1zM1018 118h1v1h-1zM1082 118h1v1h-1zM258 119h1v1h-1zM394 119h1v1h-1zM508 119h1v1h-1zM941 119h1v1h-1zM1016 119h1v1h-1zM1018 119h1v1h-1zM1083 119h1v1h-1zM258 120h1v1h-1zM393 120h1v1h-1zM508 120h1v1h-1zM940 120h1v1h-1zM1017 120h1v1h-1zM1083 120h1v1h-1zM259 121h1v1h-1zM392 121h1v1h-1zM509 121h1v1h-1zM939 121h1v1h-1zM1083 121h1v1h-1zM259 122h1v1h-1zM392 122h1v1h-1zM510 122h1v1h-1zM939 122h1v1h-1zM1084 122h1v1h-1zM259 123h1v1h-1zM391 123h1v1h-1zM510 123h1v1h-1zM938 123h1v1h-1zM1084 123h1v1h-1zM259 124h1v1h-1zM391 124h1v1h-1zM511 124h1v1h-1zM937 124h1v1h-1zM1084 124h1v1h-1zM259 125h1v1h-1zM390 125h1v1h-1zM511 125h1v1h-1zM937 125h1v1h-1zM1085 125h1v1h-1zM260 126h1v1h-1zM390 126h1v1h-1zM512 126h1v1h-1zM936 126h1v1h-1zM1085 126h1v1h-1zM260 127h1v1h-1zM389 127h1v1h-1zM512 127h1v1h-1zM936 127h1v1h-1zM1085 127h1v1h-1zM260 128h1v1h-1zM389 128h1v1h-1zM513 128h1v1h-1zM936 128h1v1h-1zM1085 128h1v1h-1zM260 129h1v1h-1zM388 129h1v1h-1zM513 129h1v1h-1zM936 129h1v1h-1zM1086 129h1v1h-1zM261 130h1v1h-1zM388 130h1v1h-1zM514 130h1v1h-1zM935 130h1v1h-1zM1086 130h1v1h-1zM261 131h1v1h-1zM387 131h1v1h-1zM514 131h1v1h-1zM935 131h1v1h-1zM1086 131h1v1h-1zM261 132h1v1h-1zM387 132h1v1h-1zM515 132h1v1h-1zM935 132h1v1h-1zM1087 132h1v1h-1zM261 133h1v1h-1zM386 133h1v1h-1zM515 133h1v1h-1zM935 133h1v1h-1zM1087 133h1v1h-1zM261 134h1v1h-1zM386 134h1v1h-1zM516 134h1v1h-1zM934 134h1v1h-1zM1087 134h1v1h-1zM262 135h1v1h-1zM385 135h1v1h-1zM516 135h1v1h-1zM934 135h1v1h-1zM1088 135h1v1h-1zM262 136h1v1h-1zM385 136h1v1h-1zM517 136h1v1h-1zM934 136h1v1h-1zM1088 136h1v1h-1zM262 137h1v1h-1zM385 137h1v1h-1zM517 137h1v1h-1zM933 137h1v1h-1zM1088 137h1v1h-1zM262 138h1v1h-1zM384 138h1v1h-1zM517 138h1v1h-1zM933 138h1v1h-1zM1088 138h1v1h-1zM263 139h1v1h-1zM384 139h1v1h-1zM518 139h1v1h-1zM933 139h1v1h-1zM1089 139h1v1h-1zM263 140h1v1h-1zM384 140h1v1h-1zM518 140h1v1h-1zM933 140h1v1h-1zM1089 140h1v1h-1zM263 141h1v1h-1zM383 141h1v1h-1zM519 141h1v1h-1zM932 141h1v1h-1zM1089 141h1v1h-1zM263 142h1v1h-1zM383 142h1v1h-1zM519 142h1v1h-1zM932 142h1v1h-1zM1090 142h1v1h-1zM263 143h1v1h-1zM383 143h1v1h-1zM520 143h1v1h-1zM932 143h1v1h-1zM1090 143h1v1h-1zM264 144h1v1h-1zM383 144h1v1h-1zM520 144h1v1h-1zM931 144h1v1h-1zM1090 144h1v1h-1zM264 145h1v1h-1zM382 145h1v1h-1zM521 145h1v1h-1zM931 145h1v1h-1zM1090 145h1v1h-1zM264 146h1v1h-1zM382 146h1v1h-1zM521 146h1v1h-1zM931 146h1v1h-1zM1091 146h1v1h-1zM264 147h1v1h-1zM382 147h1v1h-1zM521 147h1v1h-1zM931 147h1v1h-1zM1091 147h1v1h-1zM265 148h1v1h-1zM381 148h1v1h-1zM522 148h1v1h-1zM930 148h1v1h-1zM1091 148h1v1h-1zM265 149h1v1h-1zM381 149h1v1h-1zM522 149h1v1h-1zM930 149h1v1h-1zM1091 149h1v1h-1zM265 150h1v1h-1zM381 150h1v1h-1zM522 150h1v1h-1zM930 150h1v1h-1zM1092 150h1v1h-1zM265 151h1v1h-1zM380 151h1v1h-1zM522 151h1v1h-1zM930 151h1v1h-1zM1092 151h1v1h-1zM266 152h1v1h-1zM380 152h1v1h-1zM523 152h1v1h-1zM929 152h1v1h-1zM1092 152h1v1h-1zM266 153h1v1h-1zM380 153h1v1h-1zM523 153h1v1h-1zM929 153h1v1h-1zM1093 153h1v1h-1zM266 154h1v1h-1zM379 154h1v1h-1zM523 154h1v1h-1zM929 154h1v1h-1zM1093 154h1v1h-1zM266 155h1v1h-1zM379 155h1v1h-1zM524 155h1v1h-1zM929 155h1v1h-1zM1093 155h1v1h-1zM267 156h1v1h-1zM379 156h1v1h-1zM524 156h1v1h-1zM928 156h1v1h-1zM1093 156h1v1h-1zM267 157h1v1h-1zM379 157h1v1h-1zM524 157h1v1h-1zM928 157h1v1h-1zM1094 157h1v1h-1zM267 158h1v1h-1zM378 158h1v1h-1zM525 158h1v1h-1zM928 158h1v1h-1zM1094 158h1v1h-1zM267 159h1v1h-1zM378 159h1v1h-1zM525 159h1v1h-1zM928 159h1v1h-1zM1094 159h1v1h-1zM268 160h1v1h-1zM378 160h1v1h-1zM525 160h1v1h-1zM927 160h1v1h-1zM1095 160h1v1h-1zM268 161h1v1h-1zM377 161h1v1h-1zM525 161h1v1h-1zM927 161h1v1h-1zM1095 161h1v1h-1zM268 162h1v1h-1zM377 162h1v1h-1zM526 162h1v1h-1zM927 162h1v1h-1zM1095 162h1v1h-1zM268 163h1v1h-1zM377 163h1v1h-1zM526 163h1v1h-1zM927 163h1v1h-1zM1095 163h1v1h-1zM269 164h1v1h-1zM376 164h1v1h-1zM526 164h1v1h-1zM927 164h1v1h-1zM1096 164h1v1h-1zM269 165h1v1h-1zM376 165h1v1h-1zM527 165h1v1h-1zM926 165h1v1h-1zM1096 165h1v1h-1zM269 166h1v1h-1zM376 166h1v1h-1zM527 166h1v1h-1zM926 166h1v1h-1zM1096 166h1v1h-1zM270 167h1v1h-1zM376 167h1v1h-1zM527 167h1v1h-1zM926 167h1v1h-1zM1096 167h1v1h-1zM270 168h1v1h-1zM375 168h1v1h-1zM528 168h1v1h-1zM926 168h1v1h-1zM1097 168h1v1h-1zM270 169h1v1h-1zM375 169h1v1h-1zM528 169h1v1h-1zM925 169h1v1h-1zM1097 169h1v1h-1zM270 170h1v1h-1zM375 170h1v1h-1zM528 170h1v1h-1zM925 170h1v1h-1zM1098 170h1v1h-1zM271 171h1v1h-1zM375 171h1v1h-1zM528 171h1v1h-1zM925 171h1v1h-1zM1098 171h1v1h-1zM271 172h1v1h-1zM374 172h1v1h-1zM529 172h1v1h-1zM925 172h1v1h-1zM1099 172h1v1h-1zM271 173h1v1h-1zM374 173h1v1h-1zM529 173h1v1h-1zM925 173h1v1h-1zM1099 173h1v1h-1zM271 174h1v1h-1zM374 174h1v1h-1zM529 174h1v1h-1zM924 174h1v1h-1zM1100 174h1v1h-1zM272 175h1v1h-1zM374 175h1v1h-1zM530 175h1v1h-1zM924 175h1v1h-1zM1101 175h1v1h-1zM272 176h1v1h-1zM373 176h1v1h-1zM530 176h1v1h-1zM924 176h1v1h-1zM1101 176h1v1h-1zM272 177h1v1h-1zM373 177h1v1h-1zM530 177h1v1h-1zM924 177h1v1h-1zM1102 177h1v1h-1zM272 178h1v1h-1zM373 178h1v1h-1zM530 178h1v1h-1zM923 178h1v1h-1zM1103 178h1v1h-1zM273 179h1v1h-1zM373 179h1v1h-1zM531 179h1v1h-1zM923 179h1v1h-1zM1103 179h1v1h-1zM273 180h1v1h-1zM372 180h1v1h-1zM531 180h1v1h-1zM923 180h1v1h-1zM1104 180h1v1h-1zM273 181h1v1h-1zM372 181h1v1h-1zM531 181h1v1h-1zM923 181h1v1h-1zM1104 181h1v1h-1zM273 182h1v1h-1zM372 182h1v1h-1zM531 182h1v1h-1zM923 182h1v1h-1zM1105 182h1v1h-1zM274 183h1v1h-1zM372 183h1v1h-1zM532 183h1v1h-1zM922 183h1v1h-1zM1106 183h1v1h-1zM274 184h1v1h-1zM371 184h1v1h-1zM532 184h1v1h-1zM922 184h1v1h-1zM1107 184h1v1h-1zM274 185h1v1h-1zM371 185h1v1h-1zM532 185h1v1h-1zM922 185h1v1h-1zM1108 185h1v1h-1zM274 186h1v1h-1zM371 186h1v1h-1zM532 186h1v1h-1zM922 186h1v1h-1zM1109 186h1v1h-1zM274 187h1v1h-1zM371 187h1v1h-1zM533 187h1v1h-1zM921 187h1v1h-1zM1109 187h1v1h-1zM274 188h1v1h-1zM370 188h1v1h-1zM533 188h1v1h-1zM921 188h1v1h-1zM1110 188h1v1h-1zM275 189h1v1h-1zM370 189h1v1h-1zM533 189h1v1h-1zM921 189h1v1h-1zM1111 189h1v1h-1zM275 190h1v1h-1zM370 190h1v1h-1zM533 190h1v1h-1zM921 190h1v1h-1zM1112 190h1v1h-1zM275 191h1v1h-1zM370 191h1v1h-1zM534 191h1v1h-1zM920 191h1v1h-1zM1113 191h1v1h-1zM275 192h1v1h-1zM369 192h1v1h-1zM534 192h1v1h-1zM920 192h1v1h-1zM1113 192h1v1h-1zM275 193h1v1h-1zM369 193h1v1h-1zM534 193h1v1h-1zM920 193h1v1h-1zM1114 193h1v1h-1zM275 194h1v1h-1zM369 194h1v1h-1zM534 194h1v1h-1zM920 194h1v1h-1zM1114 194h1v1h-1zM276 195h1v1h-1zM369 195h1v1h-1zM535 195h1v1h-1zM919 195h1v1h-1zM1115 195h1v1h-1zM276 196h1v1h-1zM368 196h1v1h-1zM535 196h1v1h-1zM919 196h1v1h-1zM1115 196h1v1h-1zM276 197h1v1h-1zM368 197h1v1h-1zM535 197h1v1h-1zM919 197h1v1h-1zM1116 197h1v1h-1zM276 198h1v1h-1zM368 198h1v1h-1zM535 198h1v1h-1zM918 198h1v1h-1zM1116 198h1v1h-1zM276 199h1v1h-1zM368 199h1v1h-1zM536 199h1v1h-1zM918 199h1v1h-1zM1117 199h1v1h-1zM277 200h1v1h-1zM368 200h1v1h-1zM536 200h1v1h-1zM918 200h1v1h-1zM1117 200h1v1h-1zM277 201h1v1h-1zM367 201h1v1h-1zM536 201h1v1h-1zM917 201h1v1h-1zM1118 201h1v1h-1zM277 202h1v1h-1zM367 202h1v1h-1zM536 202h1v1h-1zM917 202h1v1h-1zM1118 202h1v1h-1zM277 203h1v1h-1zM367 203h1v1h-1zM537 203h1v1h-1zM917 203h1v1h-1zM1119 203h1v1h-1zM277 204h1v1h-1zM367 204h1v1h-1zM537 204h1v1h-1zM917 204h1v1h-1zM1119 204h1v1h-1zM277 205h1v1h-1zM366 205h1v1h-1zM537 205h1v1h-1zM916 205h1v1h-1zM1120 205h1v1h-1zM278 206h1v1h-1zM366 206h1v1h-1zM537 206h1v1h-1zM916 206h1v1h-1zM1120 206h1v1h-1zM278 207h1v1h-1zM366 207h1v1h-1zM538 207h1v1h-1zM916 207h1v1h-1zM1121 207h1v1h-1zM278 208h1v1h-1zM366 208h1v1h-1zM538 208h1v1h-1zM915 208h1v1h-1zM1121 208h1v1h-1zM278 209h1v1h-1zM366 209h1v1h-1zM538 209h1v1h-1zM915 209h1v1h-1zM1122 209h1v1h-1zM278 210h1v1h-1zM365 210h1v1h-1zM538 210h1v1h-1zM915 210h1v1h-1zM1122 210h1v1h-1zM279 211h1v1h-1zM365 211h1v1h-1zM539 211h1v1h-1zM914 211h1v1h-1zM1123 211h1v1h-1zM279 212h1v1h-1zM365 212h1v1h-1zM539 212h1v1h-1zM914 212h1v1h-1zM1123 212h1v1h-1zM279 213h1v1h-1zM365 213h1v1h-1zM539 213h1v1h-1zM914 213h1v1h-1zM1124 213h1v1h-1zM279 214h1v1h-1zM365 214h1v1h-1zM539 214h1v1h-1zM914 214h1v1h-1zM1124 214h1v1h-1zM279 215h1v1h-1zM364 215h1v1h-1zM539 215h1v1h-1zM913 215h1v1h-1zM1125 215h1v1h-1zM279 216h1v1h-1zM364 216h1v1h-1zM540 216h1v1h-1zM913 216h1v1h-1zM1125 216h1v1h-1zM280 217h1v1h-1zM364 217h1v1h-1zM540 217h1v1h-1zM913 217h1v1h-1zM1126 217h1v1h-1zM280 218h1v1h-1zM364 218h1v1h-1zM540 218h1v1h-1zM912 218h1v1h-1zM1126 218h1v1h-1zM280 219h1v1h-1zM364 219h1v1h-1zM540 219h1v1h-1zM912 219h1v1h-1zM1127 219h1v1h-1zM280 220h1v1h-1zM363 220h1v1h-1zM540 220h1v1h-1zM912 220h1v1h-1zM1127 220h1v1h-1zM280 221h1v1h-1zM363 221h1v1h-1zM541 221h1v1h-1zM911 221h1v1h-1zM1128 221h1v1h-1zM280 222h1v1h-1zM363 222h1v1h-1zM541 222h1v1h-1zM911 222h1v1h-1zM1128 222h1v1h-1zM281 223h1v1h-1zM363 223h1v1h-1zM541 223h1v1h-1zM911 223h1v1h-1zM1129 223h1v1h-1zM281 224h1v1h-1zM362 224h1v1h-1zM541 224h1v1h-1zM911 224h1v1h-1zM1129 224h1v1h-1zM281 225h1v1h-1zM362 225h1v1h-1zM542 225h1v1h-1zM910 225h1v1h-1zM1130 225h1v1h-1zM281 226h1v1h-1zM362 226h1v1h-1zM542 226h1v1h-1zM910 226h1v1h-1zM1130 226h1v1h-1zM281 227h1v1h-1zM362 227h1v1h-1zM542 227h1v1h-1zM910 227h1v1h-1zM1130 227h1v1h-1zM282 228h1v1h-1zM362 228h1v1h-1zM542 228h1v1h-1zM909 228h1v1h-1zM1131 228h1v1h-1zM282 229h1v1h-1zM361 229h1v1h-1zM542 229h1v1h-1zM909 229h1v1h-1zM1131 229h1v1h-1zM282 230h1v1h-1zM361 230h1v1h-1zM543 230h1v1h-1zM909 230h1v1h-1zM1132 230h1v1h-1zM282 231h1v1h-1zM361 231h1v1h-1zM543 231h1v1h-1zM908 231h1v1h-1zM1132 231h1v1h-1zM282 232h1v1h-1zM361 232h1v1h-1zM543 232h1v1h-1zM908 232h1v1h-1zM1132 232h1v1h-1zM283 233h1v1h-1zM360 233h1v1h-1zM543 233h1v1h-1zM908 233h1v1h-1zM1133 233h1v1h-1zM283 234h1v1h-1zM360 234h1v1h-1zM543 234h1v1h-1zM907 234h1v1h-1zM1133 234h1v1h-1zM283 235h1v1h-1zM360 235h1v1h-1zM544 235h1v1h-1zM907 235h1v1h-1zM1133 235h1v1h-1zM283 236h1v1h-1zM360 236h1v1h-1zM544 236h1v1h-1zM907 236h1v1h-1zM1134 236h1v1h-1zM283 237h1v1h-1zM359 237h1v1h-1zM544 237h1v1h-1zM907 237h1v1h-1zM1134 237h1v1h-1zM284 238h1v1h-1zM359 238h1v1h-1zM544 238h1v1h-1zM906 238h1v1h-1zM1134 238h1v1h-1zM284 239h1v1h-1zM359 239h1v1h-1zM545 239h1v1h-1zM906 239h1v1h-1zM1135 239h1v1h-1zM284 240h1v1h-1zM359 240h1v1h-1zM545 240h1v1h-1zM906 240h1v1h-1zM1135 240h1v1h-1zM284 241h1v1h-1zM358 241h1v1h-1zM545 241h1v1h-1zM905 241h1v1h-1zM1136 241h1v1h-1zM284 242h1v1h-1zM358 242h1v1h-1zM545 242h1v1h-1zM905 242h1v1h-1zM1136 242h1v1h-1zM285 243h1v1h-1zM358 243h1v1h-1zM545 243h1v1h-1zM905 243h1v1h-1zM1136 243h1v1h-1zM285 244h1v1h-1zM358 244h1v1h-1zM546 244h1v1h-1zM904 244h1v1h-1zM1137 244h1v1h-1zM285 245h1v1h-1zM357 245h1v1h-1zM546 245h1v1h-1zM904 245h1v1h-1zM1137 245h1v1h-1zM285 246h1v1h-1zM357 246h1v1h-1zM546 246h1v1h-1zM904 246h1v1h-1zM1137 246h1v1h-1zM285 247h1v1h-1zM357 247h1v1h-1zM546 247h1v1h-1zM903 247h1v1h-1zM1138 247h1v1h-1zM286 248h1v1h-1zM357 248h1v1h-1zM547 248h1v1h-1zM903 248h1v1h-1zM1138 248h1v1h-1zM286 249h1v1h-1zM356 249h1v1h-1zM547 249h1v1h-1zM903 249h1v1h-1zM1139 249h1v1h-1zM286 250h1v1h-1zM356 250h1v1h-1zM547 250h1v1h-1zM902 250h1v1h-1zM1139 250h1v1h-1zM286 251h1v1h-1zM356 251h1v1h-1zM547 251h1v1h-1zM902 251h1v1h-1zM1140 251h1v1h-1zM286 252h1v1h-1zM356 252h1v1h-1zM548 252h1v1h-1zM902 252h1v1h-1zM1140 252h1v1h-1zM287 253h1v1h-1zM355 253h1v1h-1zM548 253h1v1h-1zM901 253h1v1h-1zM1140 253h1v1h-1zM287 254h1v1h-1zM355 254h1v1h-1zM548 254h1v1h-1zM901 254h1v1h-1zM1141 254h1v1h-1zM287 255h1v1h-1zM355 255h1v1h-1zM548 255h1v1h-1zM901 255h1v1h-1zM1141 255h1v1h-1zM287 256h1v1h-1zM355 256h1v1h-1zM549 256h1v1h-1zM900 256h1v1h-1zM1142 256h1v1h-1zM287 257h1v1h-1zM354 257h1v1h-1zM549 257h1v1h-1zM900 257h1v1h-1zM1142 257h1v1h-1zM288 258h1v1h-1zM354 258h1v1h-1zM549 258h1v1h-1zM900 258h1v1h-1zM1142 258h1v1h-1zM288 259h1v1h-1zM354 259h1v1h-1zM549 259h1v1h-1zM899 259h1v1h-1zM1143 259h1v1h-1zM288 260h1v1h-1zM354 260h1v1h-1zM550 260h1v1h-1zM899 260h1v1h-1zM1143 260h1v1h-1zM288 261h1v1h-1zM353 261h1v1h-1zM550 261h1v1h-1zM899 261h1v1h-1zM1144 261h1v1h-1zM288 262h1v1h-1zM353 262h1v1h-1zM550 262h1v1h-1zM898 262h1v1h-1zM1144 262h1v1h-1zM289 263h1v1h-1zM353 263h1v1h-1zM550 263h1v1h-1zM898 263h1v1h-1zM1145 263h1v1h-1zM289 264h1v1h-1zM353 264h1v1h-1zM551 264h1v1h-1zM898 264h1v1h-1zM1145 264h1v1h-1zM289 265h1v1h-1zM352 265h1v1h-1zM551 265h1v1h-1zM897 265h1v1h-1zM1146 265h1v1h-1zM290 266h1v1h-1zM352 266h1v1h-1zM551 266h1v1h-1zM897 266h1v1h-1zM1146 266h1v1h-1zM290 267h1v1h-1zM352 267h1v1h-1zM551 267h1v1h-1zM897 267h1v1h-1zM1147 267h1v1h-1zM291 268h1v1h-1zM352 268h1v1h-1zM552 268h1v1h-1zM897 268h1v1h-1zM1148 268h1v1h-1zM291 269h1v1h-1zM351 269h1v1h-1zM552 269h1v1h-1zM896 269h1v1h-1zM1149 269h1v1h-1zM292 270h1v1h-1zM351 270h1v1h-1zM552 270h1v1h-1zM896 270h1v1h-1zM1149 270h1v1h-1zM292 271h1v1h-1zM351 271h1v1h-1zM552 271h1v1h-1zM896 271h1v1h-1zM1150 271h1v1h-1zM293 272h1v1h-1zM351 272h1v1h-1zM553 272h1v1h-1zM896 272h1v1h-1zM1151 272h1v1h-1zM293 273h1v1h-1zM350 273h1v1h-1zM553 273h1v1h-1zM896 273h1v1h-1zM1152 273h1v1h-1zM294 274h1v1h-1zM350 274h1v1h-1zM553 274h1v1h-1zM895 274h1v1h-1zM1152 274h1v1h-1zM294 275h1v1h-1zM350 275h1v1h-1zM553 275h1v1h-1zM895 275h1v1h-1zM1153 275h1v1h-1zM295 276h1v1h-1zM349 276h1v1h-1zM554 276h1v1h-1zM895 276h1v1h-1zM1154 276h1v1h-1zM295 277h1v1h-1zM349 277h1v1h-1zM554 277h1v1h-1zM895 277h1v1h-1zM1154 277h1v1h-1zM296 278h1v1h-1zM349 278h1v1h-1zM554 278h1v1h-1zM894 278h1v1h-1zM1155 278h1v1h-1zM296 279h1v1h-1zM349 279h1v1h-1zM554 279h1v1h-1zM894 279h1v1h-1zM1156 279h1v1h-1zM297 280h1v1h-1zM348 280h1v1h-1zM555 280h1v1h-1zM894 280h1v1h-1zM1156 280h1v1h-1zM297 281h1v1h-1zM348 281h1v1h-1zM555 281h1v1h-1zM894 281h1v1h-1zM1157 281h1v1h-1zM298 282h1v1h-1zM348 282h1v1h-1zM555 282h1v1h-1zM894 282h1v1h-1zM1158 282h1v1h-1zM298 283h1v1h-1zM347 283h1v1h-1zM555 283h1v1h-1zM893 283h1v1h-1zM1158 283h1v1h-1zM299 284h1v1h-1zM347 284h1v1h-1zM555 284h1v1h-1zM893 284h1v1h-1zM1159 284h1v1h-1zM299 285h1v1h-1zM347 285h1v1h-1zM556 285h1v1h-1zM893 285h1v1h-1zM1160 285h1v1h-1zM300 286h1v1h-1zM347 286h1v1h-1zM556 286h1v1h-1zM893 286h1v1h-1zM1160 286h1v1h-1zM300 287h1v1h-1zM346 287h1v1h-1zM556 287h1v1h-1zM893 287h1v1h-1zM1161 287h2v1h-2zM301 288h1v1h-1zM346 288h1v1h-1zM556 288h1v1h-1zM892 288h1v1h-1zM1163 288h2v1h-2zM301 289h1v1h-1zM346 289h1v1h-1zM556 289h1v1h-1zM892 289h1v1h-1zM1165 289h2v1h-2zM302 290h1v1h-1zM346 290h1v1h-1zM557 290h1v1h-1zM892 290h1v1h-1zM1167 290h2v1h-2zM302 291h1v1h-1zM345 291h1v1h-1zM557 291h1v1h-1zM892 291h1v1h-1zM1169 291h1v1h-1zM303 292h1v1h-1zM345 292h1v1h-1zM557 292h1v1h-1zM892 292h1v1h-1zM1170 292h1v1h-1zM303 293h1v1h-1zM345 293h1v1h-1zM557 293h1v1h-1zM891 293h1v1h-1zM1171 293h1v1h-1zM304 294h1v1h-1zM344 294h1v1h-1zM558 294h1v1h-1zM891 294h1v1h-1zM1172 294h1v1h-1zM304 295h1v1h-1zM344 295h1v1h-1zM558 295h1v1h-1zM891 295h1v1h-1zM1173 295h1v1h-1zM1264 295h3v1h-3zM305 296h1v1h-1zM343 296h1v1h-1zM558 296h1v1h-1zM891 296h1v1h-1zM1173 296h1v1h-1zM1262 296h2v1h-2zM1267 296h3v1h-3zM305 297h1v1h-1zM343 297h1v1h-1zM558 297h1v1h-1zM890 297h1v1h-1zM1174 297h1v1h-1zM1259 297h3v1h-3zM1270 297h2v1h-2zM305 298h1v1h-1zM343 298h1v1h-1zM558 298h1v1h-1zM890 298h1v1h-1zM1175 298h1v1h-1zM1246 298h13v1h-13zM1272 298h12v1h-12zM306 299h1v1h-1zM342 299h1v1h-1zM559 299h1v1h-1zM890 299h1v1h-1zM1176 299h1v1h-1zM1241 299h5v1h-5zM1284 299h4v1h-4zM306 300h1v1h-1zM342 300h1v1h-1zM559 300h1v1h-1zM890 300h1v1h-1zM1177 300h3v1h-3zM1240 300h1v1h-1zM1288 300h22v1h-22zM307 301h1v1h-1zM341 301h1v1h-1zM559 301h1v1h-1zM890 301h1v1h-1zM1180 301h4v1h-4zM1239 301h1v1h-1zM1310 301h4v1h-4zM307 302h1v1h-1zM341 302h1v1h-1zM559 302h1v1h-1zM889 302h1v1h-1zM1184 302h6v1h-6zM1238 302h1v1h-1zM308 303h1v1h-1zM341 303h1v1h-1zM559 303h1v1h-1zM889 303h1v1h-1zM1190 303h5v1h-5zM1237 303h1v1h-1zM308 304h1v1h-1zM340 304h1v1h-1zM560 304h1v1h-1zM889 304h1v1h-1zM1195 304h3v1h-3zM1236 304h1v1h-1zM309 305h1v1h-1zM340 305h1v1h-1zM560 305h1v1h-1zM889 305h1v1h-1zM1198 305h2v1h-2zM1235 305h1v1h-1zM309 306h1v1h-1zM339 306h1v1h-1zM560 306h1v1h-1zM888 306h1v1h-1zM1200 306h2v1h-2zM1234 306h1v1h-1zM309 307h1v1h-1zM339 307h1v1h-1zM560 307h1v1h-1zM888 307h1v1h-1zM1202 307h1v1h-1zM1233 307h1v1h-1zM310 308h1v1h-1zM339 308h1v1h-1zM561 308h1v1h-1zM887 308h1v1h-1zM1202 308h1v1h-1zM1232 308h1v1h-1zM310 309h1v1h-1zM338 309h1v1h-1zM561 309h1v1h-1zM887 309h1v1h-1zM1203 309h1v1h-1zM1232 309h1v1h-1zM311 310h1v1h-1zM338 310h1v1h-1zM561 310h1v1h-1zM886 310h1v1h-1zM1204 310h1v1h-1zM1231 310h1v1h-1zM311 311h1v1h-1zM337 311h1v1h-1zM562 311h1v1h-1zM886 311h1v1h-1zM1205 311h1v1h-1zM1231 311h1v1h-1zM312 312h1v1h-1zM337 312h1v1h-1zM562 312h1v1h-1zM886 312h1v1h-1zM1205 312h1v1h-1zM1230 312h1v1h-1zM312 313h1v1h-1zM336 313h1v1h-1zM563 313h1v1h-1zM885 313h1v1h-1zM1206 313h1v1h-1zM1230 313h1v1h-1zM313 314h1v1h-1zM335 314h1v1h-1zM563 314h1v1h-1zM885 314h1v1h-1zM1207 314h1v1h-1zM1229 314h1v1h-1zM313 315h1v1h-1zM335 315h1v1h-1zM564 315h1v1h-1zM884 315h1v1h-1zM1208 315h1v1h-1zM1228 315h1v1h-1zM313 316h1v1h-1zM334 316h1v1h-1zM564 316h1v1h-1zM640 316h22v1h-22zM884 316h1v1h-1zM1208 316h1v1h-1zM1228 316h1v1h-1zM314 317h1v1h-1zM333 317h1v1h-1zM565 317h1v1h-1zM638 317h2v1h-2zM662 317h8v1h-8zM678 317h4v1h-4zM884 317h1v1h-1zM1209 317h1v1h-1zM1227 317h1v1h-1zM314 318h1v1h-1zM332 318h1v1h-1zM565 318h1v1h-1zM635 318h3v1h-3zM670 318h8v1h-8zM682 318h1v1h-1zM883 318h1v1h-1zM1210 318h1v1h-1zM1227 318h1v1h-1zM315 319h1v1h-1zM331 319h1v1h-1zM566 319h1v1h-1zM633 319h2v1h-2zM682 319h1v1h-1zM883 319h1v1h-1zM1210 319h1v1h-1zM1226 319h1v1h-1zM315 320h1v1h-1zM331 320h1v1h-1zM566 320h1v1h-1zM632 320h1v1h-1zM683 320h1v1h-1zM882 320h1v1h-1zM1211 320h1v1h-1zM1226 320h1v1h-1zM316 321h1v1h-1zM330 321h1v1h-1zM567 321h1v1h-1zM631 321h1v1h-1zM684 321h1v1h-1zM882 321h1v1h-1zM1211 321h1v1h-1zM1225 321h1v1h-1zM316 322h1v1h-1zM329 322h1v1h-1zM567 322h1v1h-1zM630 322h1v1h-1zM685 322h1v1h-1zM881 322h1v1h-1zM1212 322h1v1h-1zM1224 322h1v1h-1zM316 323h1v1h-1zM328 323h1v1h-1zM568 323h1v1h-1zM629 323h1v1h-1zM685 323h1v1h-1zM881 323h1v1h-1zM1212 323h1v1h-1zM1223 323h1v1h-1zM317 324h1v1h-1zM328 324h1v1h-1zM568 324h1v1h-1zM629 324h1v1h-1zM686 324h1v1h-1zM881 324h1v1h-1zM1213 324h1v1h-1zM1223 324h1v1h-1zM317 325h1v1h-1zM327 325h1v1h-1zM569 325h1v1h-1zM628 325h1v1h-1zM687 325h1v1h-1zM880 325h1v1h-1zM1214 325h1v1h-1zM1222 325h1v1h-1zM318 326h1v1h-1zM326 326h1v1h-1zM570 326h2v1h-2zM627 326h1v1h-1zM688 326h1v1h-1zM880 326h1v1h-1zM1214 326h1v1h-1zM1221 326h1v1h-1zM318 327h1v1h-1zM326 327h1v1h-1zM572 327h1v1h-1zM626 327h1v1h-1zM688 327h1v1h-1zM880 327h1v1h-1zM1215 327h1v1h-1zM1220 327h1v1h-1zM318 328h1v1h-1zM325 328h1v1h-1zM573 328h1v1h-1zM625 328h1v1h-1zM689 328h1v1h-1zM879 328h1v1h-1zM1215 328h1v1h-1zM1219 328h1v1h-1zM319 329h1v1h-1zM324 329h1v1h-1zM574 329h2v1h-2zM625 329h1v1h-1zM690 329h1v1h-1zM879 329h1v1h-1zM1216 329h1v1h-1zM1219 329h1v1h-1zM319 330h1v1h-1zM324 330h1v1h-1zM576 330h1v1h-1zM624 330h1v1h-1zM690 330h1v1h-1zM879 330h1v1h-1zM1216 330h1v1h-1zM1218 330h1v1h-1zM320 331h1v1h-1zM323 331h1v1h-1zM577 331h1v1h-1zM624 331h1v1h-1zM691 331h1v1h-1zM878 331h1v1h-1zM1217 331h1v1h-1zM320 332h1v1h-1zM322 332h1v1h-1zM577 332h1v1h-1zM623 332h1v1h-1zM692 332h1v1h-1zM878 332h1v1h-1zM321 333h2v1h-2zM578 333h1v1h-1zM623 333h1v1h-1zM692 333h1v1h-1zM878 333h1v1h-1zM321 334h1v1h-1zM578 334h1v1h-1zM622 334h1v1h-1zM693 334h1v1h-1zM877 334h1v1h-1zM579 335h1v1h-1zM622 335h1v1h-1zM694 335h1v1h-1zM877 335h1v1h-1zM579 336h1v1h-1zM621 336h1v1h-1zM694 336h1v1h-1zM876 336h1v1h-1zM580 337h1v1h-1zM621 337h1v1h-1zM695 337h1v1h-1zM876 337h1v1h-1zM580 338h1v1h-1zM620 338h1v1h-1zM696 338h1v1h-1zM876 338h1v1h-1zM580 339h1v1h-1zM620 339h1v1h-1zM696 339h1v1h-1zM875 339h1v1h-1zM581 340h1v1h-1zM619 340h1v1h-1zM697 340h1v1h-1zM875 340h1v1h-1zM581 341h1v1h-1zM619 341h1v1h-1zM698 341h1v1h-1zM875 341h1v1h-1zM582 342h1v1h-1zM618 342h1v1h-1zM699 342h1v1h-1zM874 342h1v1h-1zM582 343h1v1h-1zM618 343h1v1h-1zM700 343h1v1h-1zM874 343h1v1h-1zM582 344h1v1h-1zM617 344h1v1h-1zM701 344h1v1h-1zM874 344h1v1h-1zM583 345h1v1h-1zM614 345h4v1h-4zM701 345h1v1h-1zM873 345h1v1h-1zM583 346h1v1h-1zM608 346h6v1h-6zM702 346h1v1h-1zM873 346h1v1h-1zM584 347h1v1h-1zM606 347h2v1h-2zM703 347h1v1h-1zM872 347h1v1h-1zM584 348h1v1h-1zM603 348h3v1h-3zM704 348h1v1h-1zM871 348h1v1h-1zM585 349h1v1h-1zM600 349h3v1h-3zM705 349h1v1h-1zM870 349h1v1h-1zM585 350h5v1h-5zM596 350h4v1h-4zM706 350h1v1h-1zM868 350h2v1h-2zM590 351h6v1h-6zM706 351h1v1h-1zM867 351h1v1h-1zM707 352h1v1h-1zM866 352h1v1h-1zM707 353h1v1h-1zM849 353h17v1h-17zM708 354h1v1h-1zM847 354h2v1h-2zM709 355h1v1h-1zM845 355h2v1h-2zM709 356h1v1h-1zM843 356h2v1h-2zM710 357h1v1h-1zM832 357h11v1h-11zM711 358h1v1h-1zM830 358h2v1h-2zM711 359h1v1h-1zM827 359h3v1h-3zM712 360h1v1h-1zM824 360h3v1h-3zM712 361h1v1h-1zM820 361h4v1h-4zM713 362h1v1h-1zM817 362h3v1h-3zM714 363h1v1h-1zM816 363h1v1h-1zM714 364h1v1h-1zM814 364h2v1h-2zM715 365h1v1h-1zM813 365h1v1h-1zM716 366h1v1h-1zM812 366h1v1h-1zM716 367h1v1h-1zM810 367h2v1h-2zM717 368h1v1h-1zM808 368h2v1h-2zM718 369h1v1h-1zM806 369h2v1h-2zM718 370h1v1h-1zM803 370h3v1h-3zM719 371h1v1h-1zM801 371h2v1h-2zM720 372h1v1h-1zM800 372h1v1h-1zM720 373h1v1h-1zM799 373h1v1h-1zM721 374h1v1h-1zM799 374h1v1h-1zM722 375h1v1h-1zM798 375h1v1h-1zM722 376h1v1h-1zM797 376h1v1h-1zM723 377h1v1h-1zM796 377h1v1h-1zM723 378h1v1h-1zM795 378h1v1h-1zM724 379h1v1h-1zM795 379h1v1h-1zM724 380h1v1h-1zM794 380h1v1h-1zM725 381h1v1h-1zM793 381h1v1h-1zM725 382h1v1h-1zM792 382h1v1h-1zM726 383h1v1h-1zM791 383h1v1h-1zM726 384h1v1h-1zM790 384h1v1h-1zM727 385h1v1h-1zM789 385h1v1h-1zM727 386h1v1h-1zM788 386h1v1h-1zM728 387h1v1h-1zM787 387h1v1h-1zM728 388h1v1h-1zM786 388h1v1h-1zM729 389h1v1h-1zM785 389h1v1h-1zM729 390h1v1h-1zM784 390h1v1h-1zM730 391h1v1h-1zM782 391h2v1h-2zM730 392h1v1h-1zM781 392h1v1h-1zM730 393h1v1h-1zM780 393h1v1h-1zM731 394h1v1h-1zM778 394h2v1h-2zM731 395h1v1h-1zM777 395h1v1h-1zM732 396h1v1h-1zM776 396h1v1h-1zM732 397h1v1h-1zM776 397h1v1h-1zM732 398h1v1h-1zM775 398h1v1h-1zM733 399h1v1h-1zM774 399h1v1h-1zM733 400h1v1h-1zM774 400h1v1h-1zM733 401h1v1h-1zM773 401h1v1h-1zM734 402h1v1h-1zM772 402h1v1h-1zM734 403h1v1h-1zM772 403h1v1h-1zM734 404h1v1h-1zM771 404h1v1h-1zM735 405h1v1h-1zM770 405h1v1h-1zM735 406h1v1h-1zM770 406h1v1h-1zM736 407h1v1h-1zM769 407h1v1h-1zM736 408h1v1h-1zM768 408h1v1h-1zM736 409h1v1h-1zM767 409h1v1h-1zM737 410h1v1h-1zM767 410h1v1h-1zM737 411h1v1h-1zM766 411h1v1h-1zM738 412h1v1h-1zM765 412h1v1h-1zM739 413h1v1h-1zM764 413h1v1h-1zM740 414h2v1h-2zM763 414h1v1h-1zM742 415h1v1h-1zM763 415h1v1h-1zM743 416h1v1h-1zM762 416h1v1h-1zM744 417h1v1h-1zM761 417h1v1h-1zM745 418h1v1h-1zM760 418h1v1h-1zM746 419h2v1h-2zM758 419h2v1h-2zM748 420h2v1h-2zM757 420h1v1h-1zM750 421h1v1h-1zM756 421h1v1h-1zM751 422h2v1h-2zM754 422h2v1h-2zM753 423h1v1h-1z" fill="#3cb371" shape-rendering="crispEdges"/>
<path d="M22 82h4v1h-4zM17 83h5v1h-5zM26 83h2v1h-2zM15 84h2v1h-2zM28 84h2v1h-2zM14 85h1v1h-1zM30 85h1v1h-1zM12 86h2v1h-2zM31 86h2v1h-2zM10 87h2v1h-2zM33 87h1v1h-1zM9 88h1v1h-1zM34 88h2v1h-2zM8 89h1v1h-1zM36 89h2v1h-2zM7 90h1v1h-1zM38 90h1v1h-1zM6 91h1v1h-1zM39 91h2v1h-2zM5 92h1v1h-1zM41 92h1v1h-1zM4 93h1v1h-1zM42 93h1v1h-1zM3 94h1v1h-1zM42 94h1v1h-1zM2 95h1v1h-1zM43 95h1v1h-1zM1 96h1v1h-1zM44 96h1v1h-1zM0 97h1v1h-1zM45 97h1v1h-1zM45 98h1v1h-1zM46 99h1v1h-1zM47 100h1v1h-1zM48 101h1v1h-1zM48 102h1v1h-1zM49 103h1v1h-1zM50 104h1v1h-1zM50 105h1v1h-1zM51 106h1v1h-1zM52 107h1v1h-1zM53 108h1v1h-1zM53 109h1v1h-1zM54 110h1v1h-1zM55 111h1v1h-1zM56 112h1v1h-1zM56 113h1v1h-1zM57 114h1v1h-1zM58 115h1v1h-1zM59 116h1v1h-1zM60 117h2v1h-2zM62 118h1v1h-1zM63 119h1v1h-1zM64 120h1v1h-1zM65 121h1v1h-1zM66 122h1v1h-1zM67 123h1v1h-1zM67 124h1v1h-1zM68 125h1v1h-1zM69 126h1v1h-1zM70 127h1v1h-1zM71 128h1v1h-1zM71 129h1v1h-1zM72 130h1v1h-1zM73 131h1v1h-1zM74 132h1v1h-1zM75 133h1v1h-1zM75 134h1v1h-1zM76 135h1v1h-1zM77 136h1v1h-1zM78 137h1v1h-1zM79 138h1v1h-1zM79 139h1v1h-1zM80 140h1v1h-1zM81 141h1v1h-1zM82 142h2v1h-2zM84 143h2v1h-2zM86 144h1v1h-1zM87 145h2v1h-2zM89 146h2v1h-2zM91 147h3v1h-3zM94 148h2v1h-2zM96 149h3v1h-3zM99 150h3v1h-3zM102 151h2v1h-2zM104 152h3v1h-3zM107 153h3v1h-3zM110 154h2v1h-2zM112 155h2v1h-2zM114 156h2v1h-2zM116 157h2v1h-2zM118 158h1v1h-1zM119 159h2v1h-2zM121 160h1v1h-1zM122 161h1v1h-1zM123 162h1v1h-1zM124 163h2v1h-2zM126 164h1v1h-1zM127 165h1v1h-1zM128 166h1v1h-1zM129 167h1v1h-1zM130 168h1v1h-1zM130 169h1v1h-1zM131 170h1v1h-1zM132 171h1v1h-1zM133 172h1v1h-1zM133 173h1v1h-1zM134 174h1v1h-1zM135 175h1v1h-1zM136 176h1v1h-1zM136 177h1v1h-1zM137 178h1v1h-1zM138 179h1v1h-1zM138 180h1v1h-1zM139 181h1v1h-1zM140 182h1v1h-1zM140 183h1v1h-1zM141 184h1v1h-1zM142 185h1v1h-1zM142 186h1v1h-1zM143 187h1v1h-1zM144 188h1v1h-1zM144 189h1v1h-1zM145 190h1v1h-1zM146 191h1v1h-1zM146 192h1v1h-1zM147 193h1v1h-1zM148 194h1v1h-1zM149 195h1v1h-1zM149 196h1v1h-1zM150 197h1v1h-1zM151 198h1v1h-1zM152 199h1v1h-1zM152 200h1v1h-1zM153 201h1v1h-1zM154 202h1v1h-1zM155 203h1v1h-1zM156 204h1v1h-1zM157 205h1v1h-1zM157 206h1v1h-1zM158 207h1v1h-1zM159 208h1v1h-1zM160 209h1v1h-1zM161 210h1v1h-1zM161 211h1v1h-1zM162 212h1v1h-1zM162 213h1v1h-1zM163 214h1v1h-1zM163 215h1v1h-1zM164 216h1v1h-1zM164 217h1v1h-1zM165 218h1v1h-1zM165 219h1v1h-1zM166 220h1v1h-1zM166 221h1v1h-1zM167 222h1v1h-1zM167 223h1v1h-1zM168 224h1v1h-1zM168 225h1v1h-1zM169 226h1v1h-1zM170 227h1v1h-1zM170 228h1v1h-1zM171 229h1v1h-1zM171 230h1v1h-1zM172 231h1v1h-1zM172 232h1v1h-1zM173 233h1v1h-1zM173 234h1v1h-1zM174 235h1v1h-1zM174 236h1v1h-1zM175 237h1v1h-1zM175 238h1v1h-1zM176 239h1v1h-1zM176 240h1v1h-1zM177 241h1v1h-1zM178 242h1v1h-1zM179 243h1v1h-1zM180 244h1v1h-1zM181 245h1v1h-1zM182 246h1v1h-1zM183 247h1v1h-1zM184 248h1v1h-1zM185 249h2v1h-2zM187 250h3v1h-3zM190 251h2v1h-2zM1017 251h2v1h-2zM192 252h2v1h-2zM1015 252h2v1h-2zM1019 252h2v1h-2zM194 253h1v1h-1zM1013 253h2v1h-2zM1021 253h2v1h-2zM195 254h1v1h-1zM1011 254h2v1h-2zM1023 254h2v1h-2zM196 255h1v1h-1zM1006 255h5v1h-5zM1025 255h1v1h-1zM197 256h1v1h-1zM1001 256h5v1h-5zM1026 256h2v1h-2zM198 257h1v1h-1zM999 257h2v1h-2zM1028 257h2v1h-2zM199 258h1v1h-1zM997 258h2v1h-2zM1030 258h1v1h-1zM200 259h1v1h-1zM995 259h2v1h-2zM1031 259h2v1h-2zM201 260h1v1h-1zM993 260h2v1h-2zM1033 260h2v1h-2zM202 261h1v1h-1zM991 261h2v1h-2zM1035 261h3v1h-3zM203 262h1v1h-1zM990 262h1v1h-1zM1038 262h2v1h-2zM204 263h1v1h-1zM988 263h2v1h-2zM1040 263h6v1h-6zM205 264h1v1h-1zM986 264h2v1h-2zM1046 264h4v1h-4zM205 265h1v1h-1zM985 265h1v1h-1zM1050 265h2v1h-2zM206 266h1v1h-1zM984 266h1v1h-1zM1052 266h2v1h-2zM207 267h1v1h-1zM983 267h1v1h-1zM1054 267h1v1h-1zM208 268h1v1h-1zM983 268h1v1h-1zM1055 268h2v1h-2zM209 269h1v1h-1zM982 269h1v1h-1zM1057 269h1v1h-1zM210 270h1v1h-1zM981 270h1v1h-1zM1058 270h1v1h-1zM210 271h1v1h-1zM980 271h1v1h-1zM1059 271h1v1h-1zM211 272h1v1h-1zM979 272h1v1h-1zM1060 272h2v1h-2zM211 273h1v1h-1zM979 273h1v1h-1zM1062 273h1v1h-1zM212 274h1v1h-1zM978 274h1v1h-1zM1063 274h1v1h-1zM213 275h1v1h-1zM977 275h1v1h-1zM1064 275h1v1h-1zM213 276h1v1h-1zM976 276h1v1h-1zM1065 276h1v1h-1zM214 277h1v1h-1zM975 277h1v1h-1zM1066 277h1v1h-1zM215 278h1v1h-1zM974 278h1v1h-1zM1066 278h1v1h-1zM215 279h1v1h-1zM973 279h1v1h-1zM1067 279h1v1h-1zM216 280h1v1h-1zM973 280h1v1h-1zM1068 280h1v1h-1zM216 281h1v1h-1zM972 281h1v1h-1zM1069 281h1v1h-1zM217 282h1v1h-1zM971 282h1v1h-1zM1069 282h1v1h-1zM218 283h1v1h-1zM970 283h1v1h-1zM1070 283h1v1h-1zM218 284h1v1h-1zM969 284h1v1h-1zM1071 284h1v1h-1zM219 285h1v1h-1zM968 285h1v1h-1zM1072 285h1v1h-1zM219 286h1v1h-1zM968 286h1v1h-1zM1072 286h1v1h-1zM220 287h1v1h-1zM967 287h1v1h-1zM1073 287h1v1h-1zM220 288h1v1h-1zM966 288h1v1h-1zM1074 288h1v1h-1zM221 289h1v1h-1zM965 289h1v1h-1zM1074 289h1v1h-1zM221 290h1v1h-1zM965 290h1v1h-1zM1075 290h1v1h-1zM222 291h1v1h-1zM964 291h1v1h-1zM1076 291h1v1h-1zM222 292h1v1h-1zM963 292h1v1h-1zM1076 292h1v1h-1zM223 293h1v1h-1zM962 293h1v1h-1zM1077 293h1v1h-1zM223 294h1v1h-1zM962 294h1v1h-1zM1078 294h1v1h-1zM224 295h1v1h-1zM961 295h1v1h-1zM1078 295h1v1h-1zM224 296h1v1h-1zM960 296h1v1h-1zM1079 296h1v1h-1zM225 297h1v1h-1zM959 297h1v1h-1zM1080 297h1v1h-1zM226 298h1v1h-1zM958 298h1v1h-1zM1080 298h1v1h-1zM226 299h1v1h-1zM957 299h1v1h-1zM1081 299h1v1h-1zM227 300h1v1h-1zM956 300h1v1h-1zM1082 300h1v1h-1zM227 301h1v1h-1zM955 301h1v1h-1zM1082 301h1v1h-1zM228 302h1v1h-1zM954 302h1v1h-1zM1083 302h1v1h-1zM228 303h1v1h-1zM953 303h1v1h-1zM1084 303h1v1h-1zM229 304h1v1h-1zM952 304h1v1h-1zM1085 304h1v1h-1zM230 305h1v1h-1zM951 305h1v1h-1zM1085 305h1v1h-1zM230 306h1v1h-1zM950 306h1v1h-1zM1086 306h1v1h-1zM231 307h1v1h-1zM948 307h2v1h-2zM1087 307h1v1h-1zM231 308h1v1h-1zM947 308h1v1h-1zM1088 308h1v1h-1zM232 309h1v1h-1zM946 309h1v1h-1zM1088 309h1v1h-1zM232 310h1v1h-1zM945 310h1v1h-1zM1089 310h1v1h-1zM233 311h1v1h-1zM944 311h1v1h-1zM1090 311h1v1h-1zM234 312h1v1h-1zM943 312h1v1h-1zM1090 312h1v1h-1zM234 313h1v1h-1zM942 313h1v1h-1zM1091 313h1v1h-1zM235 314h1v1h-1zM941 314h1v1h-1zM1092 314h1v1h-1zM235 315h1v1h-1zM448 315h6v1h-6zM941 315h1v1h-1zM1093 315h1v1h-1zM236 316h1v1h-1zM446 316h2v1h-2zM454 316h8v1h-8zM940 316h1v1h-1zM1093 316h1v1h-1zM237 317h1v1h-1zM443 317h3v1h-3zM462 317h4v1h-4zM939 317h1v1h-1zM1094 317h1v1h-1zM237 318h1v1h-1zM440 318h3v1h-3zM466 318h2v1h-2zM938 318h1v1h-1zM1095 318h1v1h-1zM238 319h1v1h-1zM436 319h4v1h-4zM468 319h1v1h-1zM937 319h1v1h-1zM1096 319h1v1h-1zM239 320h1v1h-1zM430 320h6v1h-6zM469 320h1v1h-1zM936 320h1v1h-1zM1096 320h1v1h-1zM239 321h1v1h-1zM425 321h5v1h-5zM470 321h2v1h-2zM936 321h1v1h-1zM1097 321h1v1h-1zM240 322h1v1h-1zM424 322h1v1h-1zM472 322h1v1h-1zM935 322h1v1h-1zM1098 322h1v1h-1zM240 323h1v1h-1zM422 323h2v1h-2zM473 323h1v1h-1zM935 323h1v1h-1zM1099 323h1v1h-1zM241 324h1v1h-1zM421 324h1v1h-1zM474 324h2v1h-2zM934 324h1v1h-1zM1100 324h2v1h-2zM242 325h1v1h-1zM420 325h1v1h-1zM476 325h2v1h-2zM934 325h1v1h-1zM1102 325h1v1h-1zM242 326h1v1h-1zM418 326h2v1h-2zM478 326h1v1h-1zM933 326h1v1h-1zM1103 326h1v1h-1zM243 327h1v1h-1zM417 327h1v1h-1zM479 327h2v1h-2zM932 327h1v1h-1zM1104 327h1v1h-1zM243 328h1v1h-1zM416 328h1v1h-1zM481 328h1v1h-1zM932 328h1v1h-1zM1105 328h2v1h-2zM244 329h1v1h-1zM414 329h2v1h-2zM482 329h2v1h-2zM931 329h1v1h-1zM1107 329h2v1h-2zM244 330h1v1h-1zM413 330h1v1h-1zM484 330h2v1h-2zM931 330h1v1h-1zM1109 330h2v1h-2zM245 331h1v1h-1zM412 331h1v1h-1zM486 331h1v1h-1zM930 331h1v1h-1zM1111 331h2v1h-2zM245 332h1v1h-1zM410 332h2v1h-2zM487 332h2v1h-2zM930 332h1v1h-1zM1113 332h1v1h-1zM246 333h1v1h-1zM409 333h1v1h-1zM489 333h1v1h-1zM929 333h1v1h-1zM1114 333h2v1h-2zM246 334h1v1h-1zM408 334h1v1h-1zM490 334h2v1h-2zM928 334h1v1h-1zM1116 334h1v1h-1zM247 335h1v1h-1zM407 335h1v1h-1zM492 335h1v1h-1zM928 335h1v1h-1zM1117 335h1v1h-1zM247 336h1v1h-1zM406 336h1v1h-1zM493 336h1v1h-1zM927 336h1v1h-1zM1118 336h2v1h-2zM248 337h1v1h-1zM405 337h1v1h-1zM494 337h2v1h-2zM927 337h1v1h-1zM1120 337h1v1h-1zM248 338h1v1h-1zM404 338h1v1h-1zM496 338h1v1h-1zM926 338h1v1h-1zM1121 338h1v1h-1zM249 339h1v1h-1zM403 339h1v1h-1zM497 339h1v1h-1zM926 339h1v1h-1zM1122 339h1v1h-1zM250 340h1v1h-1zM402 340h1v1h-1zM498 340h1v1h-1zM925 340h1v1h-1zM1122 340h1v1h-1zM250 341h1v1h-1zM401 341h1v1h-1zM499 341h1v1h-1zM924 341h1v1h-1zM1123 341h1v1h-1zM251 342h1v1h-1zM400 342h1v1h-1zM500 342h1v1h-1zM924 342h1v1h-1zM1124 342h1v1h-1zM251 343h1v1h-1zM400 343h1v1h-1zM501 343h1v1h-1zM923 343h1v1h-1zM1124 343h1v1h-1zM252 344h1v1h-1zM399 344h1v1h-1zM502 344h1v1h-1zM923 344h1v1h-1zM1125 344h1v1h-1zM252 345h1v1h-1zM399 345h1v1h-1zM503 345h1v1h-1zM922 345h1v1h-1zM1126 345h1v1h-1zM253 346h1v1h-1zM398 346h1v1h-1zM504 346h1v1h-1zM922 346h1v1h-1zM1126 346h1v1h-1zM253 347h1v1h-1zM397 347h1v1h-1zM505 347h1v1h-1zM921 347h1v1h-1zM1127 347h1v1h-1zM254 348h1v1h-1zM397 348h1v1h-1zM506 348h1v1h-1zM920 348h1v1h-1zM1128 348h1v1h-1zM254 349h1v1h-1zM396 349h1v1h-1zM506 349h1v1h-1zM920 349h1v1h-1zM1128 349h1v1h-1zM255 350h1v1h-1zM395 350h1v1h-1zM507 350h1v1h-1zM919 350h1v1h-1zM1129 350h1v1h-1zM255 351h1v1h-1zM395 351h1v1h-1zM508 351h1v1h-1zM919 351h1v1h-1zM1130 351h1v1h-1zM256 352h1v1h-1zM394 352h1v1h-1zM509 352h1v1h-1zM918 352h1v1h-1zM1131 352h1v1h-1zM256 353h1v1h-1zM394 353h1v1h-1zM509 353h1v1h-1zM917 353h1v1h-1zM1131 353h1v1h-1zM257 354h1v1h-1zM393 354h1v1h-1zM510 354h1v1h-1zM917 354h1v1h-1zM1132 354h1v1h-1zM257 355h1v1h-1zM392 355h1v1h-1zM511 355h1v1h-1zM916 355h1v1h-1zM1133 355h1v1h-1zM258 356h1v1h-1zM392 356h1v1h-1zM512 356h1v1h-1zM915 356h1v1h-1zM1134 356h1v1h-1zM258 357h1v1h-1zM391 357h1v1h-1zM512 357h1v1h-1zM915 357h1v1h-1zM1135 357h1v1h-1zM259 358h1v1h-1zM391 358h1v1h-1zM513 358h1v1h-1zM914 358h1v1h-1zM1135 358h1v1h-1zM259 359h1v1h-1zM390 359h1v1h-1zM514 359h1v1h-1zM914 359h1v1h-1zM1136 359h1v1h-1zM260 360h1v1h-1zM390 360h1v1h-1zM514 360h1v1h-1zM913 360h1v1h-1zM1137 360h1v1h-1zM260 361h1v1h-1zM389 361h1v1h-1zM515 361h1v1h-1zM912 361h1v1h-1zM1138 361h1v1h-1zM261 362h1v1h-1zM388 362h1v1h-1zM516 362h1v1h-1zM912 362h1v1h-1zM1139 362h1v1h-1zM261 363h1v1h-1zM388 363h1v1h-1zM516 363h1v1h-1zM911 363h1v1h-1zM1140 363h1v1h-1zM262 364h1v1h-1zM387 364h1v1h-1zM517 364h1v1h-1zM911 364h1v1h-1zM1141 364h1v1h-1zM262 365h1v1h-1zM387 365h1v1h-1zM518 365h1v1h-1zM910 365h1v1h-1zM1141 365h1v1h-1zM263 366h1v1h-1zM386 366h1v1h-1zM518 366h1v1h-1zM909 366h1v1h-1zM1142 366h1v1h-1zM263 367h1v1h-1zM386 367h1v1h-1zM519 367h1v1h-1zM909 367h1v1h-1zM1143 367h1v1h-1zM264 368h1v1h-1zM385 368h1v1h-1zM520 368h1v1h-1zM908 368h1v1h-1zM1144 368h1v1h-1zM264 369h1v1h-1zM384 369h1v1h-1zM520 369h1v1h-1zM907 369h1v1h-1zM1145 369h1v1h-1zM265 370h1v1h-1zM384 370h1v1h-1zM521 370h1v1h-1zM907 370h1v1h-1zM1146 370h2v1h-2zM1312 370h2v1h-2zM265 371h1v1h-1zM383 371h1v1h-1zM522 371h1v1h-1zM906 371h1v1h-1zM1148 371h1v1h-1zM1308 371h4v1h-4zM266 372h1v1h-1zM383 372h1v1h-1zM523 372h1v1h-1zM906 372h1v1h-1zM1149 372h1v1h-1zM1302 372h6v1h-6zM266 373h1v1h-1zM382 373h1v1h-1zM524 373h1v1h-1zM905 373h1v1h-1zM1150 373h2v1h-2zM1296 373h6v1h-6zM267 374h1v1h-1zM382 374h1v1h-1zM525 374h1v1h-1zM904 374h1v1h-1zM1152 374h1v1h-1zM1294 374h2v1h-2zM267 375h1v1h-1zM381 375h1v1h-1zM525 375h1v1h-1zM904 375h1v1h-1zM1153 375h1v1h-1zM1291 375h3v1h-3zM268 376h1v1h-1zM381 376h1v1h-1zM526 376h1v1h-1zM903 376h1v1h-1zM1154 376h2v1h-2zM1289 376h2v1h-2zM268 377h1v1h-1zM380 377h1v1h-1zM527 377h1v1h-1zM902 377h1v1h-1zM1156 377h1v1h-1zM1287 377h2v1h-2zM269 378h1v1h-1zM380 378h1v1h-1zM528 378h1v1h-1zM902 378h1v1h-1zM1157 378h1v1h-1zM1286 378h1v1h-1zM269 379h1v1h-1zM379 379h1v1h-1zM529 379h1v1h-1zM901 379h1v1h-1zM1158 379h2v1h-2zM1284 379h2v1h-2zM270 380h1v1h-1zM379 380h1v1h-1zM530 380h1v1h-1zM900 380h1v1h-1zM1160 380h1v1h-1zM1262 380h8v1h-8zM1282 380h2v1h-2zM270 381h1v1h-1zM378 381h1v1h-1zM531 381h1v1h-1zM900 381h1v1h-1zM1161 381h2v1h-2zM1246 381h16v1h-16zM1270 381h12v1h-12zM271 382h1v1h-1zM378 382h1v1h-1zM531 382h1v1h-1zM899 382h1v1h-1zM1163 382h2v1h-2zM1241 382h5v1h-5zM271 383h1v1h-1zM377 383h1v1h-1zM532 383h1v1h-1zM898 383h1v1h-1zM1165 383h2v1h-2zM1239 383h2v1h-2zM272 384h1v1h-1zM377 384h1v1h-1zM533 384h1v1h-1zM898 384h1v1h-1zM1167 384h2v1h-2zM1192 384h4v1h-4zM1237 384h2v1h-2zM272 385h1v1h-1zM376 385h1v1h-1zM534 385h1v1h-1zM897 385h1v1h-1zM1169 385h1v1h-1zM1190 385h2v1h-2zM1196 385h4v1h-4zM1235 385h2v1h-2zM273 386h1v1h-1zM376 386h1v1h-1zM535 386h1v1h-1zM896 386h1v1h-1zM1170 386h2v1h-2zM1187 386h3v1h-3zM1200 386h3v1h-3zM1233 386h2v1h-2zM273 387h1v1h-1zM375 387h1v1h-1zM535 387h1v1h-1zM896 387h1v1h-1zM1172 387h2v1h-2zM1184 387h3v1h-3zM1203 387h2v1h-2zM1232 387h1v1h-1zM274 388h1v1h-1zM375 388h1v1h-1zM536 388h1v1h-1zM895 388h1v1h-1zM1174 388h1v1h-1zM1182 388h2v1h-2zM1205 388h2v1h-2zM1230 388h2v1h-2zM274 389h1v1h-1zM374 389h1v1h-1zM537 389h1v1h-1zM894 389h1v1h-1zM1175 389h2v1h-2zM1179 389h3v1h-3zM1207 389h2v1h-2zM1229 389h1v1h-1zM275 390h1v1h-1zM374 390h1v1h-1zM538 390h1v1h-1zM893 390h1v1h-1zM1177 390h2v1h-2zM1209 390h1v1h-1zM1228 390h1v1h-1zM275 391h1v1h-1zM373 391h1v1h-1zM538 391h1v1h-1zM893 391h1v1h-1zM1210 391h2v1h-2zM1226 391h2v1h-2zM276 392h1v1h-1zM373 392h1v1h-1zM539 392h1v1h-1zM892 392h1v1h-1zM1212 392h2v1h-2zM1224 392h2v1h-2zM276 393h1v1h-1zM372 393h1v1h-1zM540 393h1v1h-1zM891 393h1v1h-1zM1214 393h1v1h-1zM1222 393h2v1h-2zM277 394h1v1h-1zM372 394h1v1h-1zM541 394h1v1h-1zM890 394h1v1h-1zM1215 394h2v1h-2zM1219 394h3v1h-3zM277 395h1v1h-1zM371 395h1v1h-1zM541 395h1v1h-1zM890 395h1v1h-1zM1217 395h2v1h-2zM278 396h1v1h-1zM371 396h1v1h-1zM542 396h1v1h-1zM889 396h1v1h-1zM278 397h1v1h-1zM370 397h1v1h-1zM543 397h1v1h-1zM888 397h1v1h-1zM279 398h1v1h-1zM370 398h1v1h-1zM544 398h1v1h-1zM887 398h1v1h-1zM279 399h1v1h-1zM369 399h1v1h-1zM544 399h1v1h-1zM886 399h1v1h-1zM280 400h1v1h-1zM369 400h1v1h-1zM545 400h1v1h-1zM885 400h1v1h-1zM280 401h1v1h-1zM368 401h1v1h-1zM546 401h1v1h-1zM884 401h1v1h-1zM281 402h1v1h-1zM368 402h1v1h-1zM547 402h1v1h-1zM883 402h1v1h-1zM281 403h1v1h-1zM367 403h1v1h-1zM548 403h1v1h-1zM882 403h1v1h-1zM281 404h1v1h-1zM367 404h1v1h-1zM549 404h1v1h-1zM881 404h1v1h-1zM282 405h1v1h-1zM366 405h1v1h-1zM550 405h1v1h-1zM880 405h1v1h-1zM282 406h1v1h-1zM365 406h1v1h-1zM551 406h1v1h-1zM879 406h1v1h-1zM283 407h1v1h-1zM365 407h1v1h-1zM552 407h1v1h-1zM878 407h1v1h-1zM283 408h1v1h-1zM364 408h1v1h-1zM553 408h1v1h-1zM877 408h1v1h-1zM284 409h1v1h-1zM363 409h1v1h-1zM554 409h1v1h-1zM876 409h1v1h-1zM284 410h1v1h-1zM363 410h1v1h-1zM555 410h1v1h-1zM875 410h1v1h-1zM285 411h1v1h-1zM362 411h1v1h-1zM556 411h1v1h-1zM874 411h1v1h-1zM285 412h1v1h-1zM362 412h1v1h-1zM557 412h1v1h-1zM873 412h1v1h-1zM286 413h1v1h-1zM361 413h1v1h-1zM558 413h1v1h-1zM872 413h1v1h-1zM286 414h1v1h-1zM360 414h1v1h-1zM559 414h1v1h-1zM870 414h2v1h-2zM287 415h1v1h-1zM359 415h1v1h-1zM560 415h1v1h-1zM869 415h1v1h-1zM287 416h1v1h-1zM358 416h1v1h-1zM561 416h2v1h-2zM868 416h1v1h-1zM288 417h1v1h-1zM357 417h1v1h-1zM563 417h2v1h-2zM866 417h2v1h-2zM288 418h1v1h-1zM357 418h1v1h-1zM565 418h2v1h-2zM865 418h1v1h-1zM289 419h1v1h-1zM356 419h1v1h-1zM567 419h2v1h-2zM864 419h1v1h-1zM290 420h1v1h-1zM355 420h1v1h-1zM569 420h5v1h-5zM862 420h2v1h-2zM291 421h1v1h-1zM354 421h1v1h-1zM574 421h4v1h-4zM861 421h1v1h-1zM292 422h2v1h-2zM353 422h1v1h-1zM578 422h2v1h-2zM860 422h1v1h-1zM294 423h1v1h-1zM352 423h1v1h-1zM580 423h1v1h-1zM858 423h2v1h-2zM295 424h1v1h-1zM350 424h2v1h-2zM581 424h1v1h-1zM592 424h4v1h-4zM857 424h1v1h-1zM296 425h1v1h-1zM349 425h1v1h-1zM582 425h2v1h-2zM590 425h2v1h-2zM596 425h4v1h-4zM856 425h1v1h-1zM297 426h1v1h-1zM348 426h1v1h-1zM584 426h1v1h-1zM587 426h3v1h-3zM600 426h4v1h-4zM854 426h2v1h-2zM298 427h2v1h-2zM346 427h2v1h-2zM585 427h2v1h-2zM604 427h4v1h-4zM853 427h1v1h-1zM300 428h1v1h-1zM345 428h1v1h-1zM608 428h6v1h-6zM852 428h1v1h-1zM301 429h1v1h-1zM343 429h2v1h-2zM614 429h4v1h-4zM850 429h2v1h-2zM302 430h2v1h-2zM341 430h2v1h-2zM618 430h2v1h-2zM849 430h1v1h-1zM304 431h1v1h-1zM339 431h2v1h-2zM620 431h1v1h-1zM848 431h1v1h-1zM305 432h2v1h-2zM336 432h3v1h-3zM621 432h1v1h-1zM847 432h1v1h-1zM307 433h2v1h-2zM334 433h2v1h-2zM622 433h2v1h-2zM846 433h1v1h-1zM309 434h2v1h-2zM331 434h3v1h-3zM624 434h1v1h-1zM844 434h2v1h-2zM311 435h2v1h-2zM329 435h2v1h-2zM625 435h1v1h-1zM843 435h1v1h-1zM313 436h2v1h-2zM327 436h2v1h-2zM626 436h2v1h-2zM842 436h1v1h-1zM315 437h2v1h-2zM326 437h1v1h-1zM628 437h2v1h-2zM841 437h1v1h-1zM317 438h2v1h-2zM324 438h2v1h-2zM630 438h1v1h-1zM840 438h1v1h-1zM319 439h2v1h-2zM322 439h2v1h-2zM631 439h2v1h-2zM839 439h1v1h-1zM321 440h1v1h-1zM633 440h1v1h-1zM838 440h1v1h-1zM634 441h2v1h-2zM837 441h1v1h-1zM636 442h2v1h-2zM837 442h1v1h-1zM638 443h1v1h-1zM836 443h1v1h-1zM639 444h2v1h-2zM835 444h1v1h-1zM641 445h3v1h-3zM834 445h1v1h-1zM644 446h4v1h-4zM833 446h1v1h-1zM648 447h3v1h-3zM832 447h1v1h-1zM651 448h3v1h-3zM830 448h2v1h-2zM654 449h2v1h-2zM829 449h1v1h-1zM656 450h4v1h-4zM828 450h1v1h-1zM660 451h4v1h-4zM826 451h2v1h-2zM664 452h3v1h-3zM824 452h2v1h-2zM667 453h2v1h-2zM822 453h2v1h-2zM669 454h2v1h-2zM819 454h3v1h-3zM671 455h2v1h-2zM817 455h2v1h-2zM673 456h1v1h-1zM815 456h2v1h-2zM674 457h2v1h-2zM814 457h1v1h-1zM676 458h1v1h-1zM812 458h2v1h-2zM677 459h1v1h-1zM810 459h2v1h-2zM678 460h2v1h-2zM808 460h2v1h-2zM680 461h1v1h-1zM806 461h2v1h-2zM681 462h1v1h-1zM803 462h3v1h-3zM682 463h2v1h-2zM801 463h2v1h-2zM684 464h1v1h-1zM800 464h1v1h-1zM685 465h1v1h-1zM799 465h1v1h-1zM686 466h2v1h-2zM798 466h1v1h-1zM688 467h1v1h-1zM797 467h1v1h-1zM689 468h1v1h-1zM797 468h1v1h-1zM690 469h2v1h-2zM796 469h1v1h-1zM692 470h1v1h-1zM795 470h1v1h-1zM693 471h1v1h-1zM794 471h1v1h-1zM694 472h2v1h-2zM793 472h1v1h-1zM696 473h1v1h-1zM792 473h1v1h-1zM697 474h1v1h-1zM791 474h1v1h-1zM698 475h2v1h-2zM790 475h1v1h-1zM700 476h2v1h-2zM789 476h1v1h-1zM702 477h1v1h-1zM788 477h1v1h-1zM703 478h2v1h-2zM787 478h1v1h-1zM705 479h1v1h-1zM786 479h1v1h-1zM706 480h2v1h-2zM785 480h1v1h-1zM708 481h2v1h-2zM784 481h1v1h-1zM710 482h1v1h-1zM783 482h1v1h-1zM711 483h2v1h-2zM782 483h1v1h-1zM713 484h2v1h-2zM781 484h1v1h-1zM715 485h2v1h-2zM781 485h1v1h-1zM717 486h2v1h-2zM780 486h1v1h-1zM719 487h2v1h-2zM779 487h1v1h-1zM721 488h2v1h-2zM778 488h1v1h-1zM723 489h2v1h-2zM777 489h1v1h-1zM725 490h2v1h-2zM775 490h2v1h-2zM727 491h2v1h-2zM773 491h2v1h-2zM729 492h2v1h-2zM771 492h2v1h-2zM731 493h2v1h-2zM769 493h2v1h-2zM733 494h2v1h-2zM767 494h2v1h-2zM735 495h2v1h-2zM765 495h2v1h-2zM737 496h3v1h-3zM763 496h2v1h-2zM740 497h4v1h-4zM760 497h3v1h-3zM744 498h6v1h-6zM756 498h4v1h-4zM750 499h6v1h-6z" fill="#3cb371" shape-rendering="crispEdges"/>
<path d="M17 181h9v1h-9zM17 182h1v1h-1zM25 182h1v1h-1zM16 183h1v1h-1zM26 183h1v1h-1zM16 184h1v1h-1zM26 184h1v1h-1zM16 185h1v1h-1zM26 185h1v1h-1zM15 186h1v1h-1zM26 186h1v1h-1zM15 187h1v1h-1zM27 187h1v1h-1zM15 188h1v1h-1zM27 188h1v1h-1zM15 189h1v1h-1zM27 189h1v1h-1zM14 190h1v1h-1zM27 190h1v1h-1zM14 191h1v1h-1zM28 191h1v1h-1zM14 192h1v1h-1zM28 192h1v1h-1zM13 193h1v1h-1zM28 193h1v1h-1zM13 194h1v1h-1zM29 194h1v1h-1zM13 195h1v1h-1zM29 195h1v1h-1zM12 196h1v1h-1zM29 196h1v1h-1zM12 197h1v1h-1zM29 197h1v1h-1zM12 198h1v1h-1zM30 198h1v1h-1zM11 199h1v1h-1zM30 199h1v1h-1zM11 200h1v1h-1zM30 200h1v1h-1zM11 201h1v1h-1zM31 201h1v1h-1zM11 202h1v1h-1zM31 202h1v1h-1zM10 203h1v1h-1zM31 203h1v1h-1zM10 204h1v1h-1zM31 204h1v1h-1zM10 205h1v1h-1zM32 205h1v1h-1zM9 206h1v1h-1zM32 206h1v1h-1zM9 207h1v1h-1zM32 207h1v1h-1zM9 208h1v1h-1zM32 208h1v1h-1zM8 209h1v1h-1zM33 209h1v1h-1zM8 210h1v1h-1zM33 210h1v1h-1zM8 211h1v1h-1zM33 211h1v1h-1zM8 212h1v1h-1zM34 212h1v1h-1zM7 213h1v1h-1zM34 213h1v1h-1zM7 214h1v1h-1zM35 214h1v1h-1zM7 215h1v1h-1zM35 215h1v1h-1zM7 216h1v1h-1zM35 216h1v1h-1zM6 217h1v1h-1zM36 217h1v1h-1zM6 218h1v1h-1zM36 218h1v1h-1zM6 219h1v1h-1zM37 219h1v1h-1zM5 220h1v1h-1zM37 220h1v1h-1zM5 221h1v1h-1zM37 221h1v1h-1zM5 222h1v1h-1zM38 222h1v1h-1zM5 223h1v1h-1zM38 223h1v1h-1zM4 224h1v1h-1zM39 224h1v1h-1zM4 225h1v1h-1zM39 225h1v1h-1zM4 226h1v1h-1zM39 226h1v1h-1zM3 227h1v1h-1zM40 227h1v1h-1zM3 228h1v1h-1zM40 228h1v1h-1zM3 229h1v1h-1zM41 229h1v1h-1zM3 230h1v1h-1zM41 230h1v1h-1zM2 231h1v1h-1zM41 231h1v1h-1zM2 232h1v1h-1zM42 232h1v1h-1zM2 233h1v1h-1zM42 233h1v1h-1zM2 234h1v1h-1zM42 234h1v1h-1zM1 235h1v1h-1zM42 235h1v1h-1zM1 236h1v1h-1zM43 236h1v1h-1zM1 237h1v1h-1zM43 237h1v1h-1zM0 238h1v1h-1zM43 238h1v1h-1zM0 239h1v1h-1zM44 239h1v1h-1zM0 240h1v1h-1zM44 240h1v1h-1zM0 241h1v1h-1zM44 241h1v1h-1zM44 242h1v1h-1zM45 243h1v1h-1zM45 244h1v1h-1zM45 245h1v1h-1zM46 246h1v1h-1zM46 247h1v1h-1zM46 248h1v1h-1zM46 249h1v1h-1zM47 250h1v1h-1zM47 251h1v1h-1zM47 252h1v1h-1zM48 253h1v1h-1zM48 254h1v1h-1zM48 255h1v1h-1zM48 256h1v1h-1zM49 257h1v1h-1zM49 258h1v1h-1zM49 259h1v1h-1zM50 260h1v1h-1zM50 261h1v1h-1zM50 262h1v1h-1zM51 263h1v1h-1zM51 264h1v1h-1zM51 265h1v1h-1zM52 266h1v1h-1zM52 267h1v1h-1zM52 268h1v1h-1zM53 269h1v1h-1zM53 270h1v1h-1zM54 271h1v1h-1zM54 272h1v1h-1zM54 273h1v1h-1zM55 274h1v1h-1zM55 275h1v1h-1zM55 276h1v1h-1zM56 277h1v1h-1zM56 278h1v1h-1zM56 279h1v1h-1zM57 280h1v1h-1zM57 281h1v1h-1zM58 282h1v1h-1zM59 283h1v1h-1zM60 284h2v1h-2zM62 285h1v1h-1zM63 286h1v1h-1zM64 287h1v1h-1zM65 288h2v1h-2zM67 289h2v1h-2zM69 290h2v1h-2zM71 291h2v1h-2zM73 292h1v1h-1zM74 293h1v1h-1zM75 294h1v1h-1zM76 295h2v1h-2zM78 296h1v1h-1zM79 297h1v1h-1zM80 298h1v1h-1zM81 299h3v1h-3zM84 300h4v1h-4zM94 300h36v1h-36zM88 301h6v1h-6zM130 301h1v1h-1zM130 302h1v1h-1zM131 303h1v1h-1zM131 304h1v1h-1zM132 305h1v1h-1zM132 306h1v1h-1zM133 307h1v1h-1zM133 308h1v1h-1zM134 309h1v1h-1zM134 310h1v1h-1zM135 311h1v1h-1zM135 312h1v1h-1zM136 313h1v1h-1zM136 314h1v1h-1zM137 315h1v1h-1zM138 316h1v1h-1zM138 317h1v1h-1zM139 318h1v1h-1zM140 319h1v1h-1zM140 320h1v1h-1zM141 321h1v1h-1zM142 322h1v1h-1zM142 323h1v1h-1zM143 324h1v1h-1zM144 325h1v1h-1zM144 326h1v1h-1zM145 327h1v1h-1zM146 328h2v1h-2zM148 329h2v1h-2zM150 330h1v1h-1zM151 331h2v1h-2zM153 332h2v1h-2zM155 333h2v1h-2zM157 334h2v1h-2zM159 335h2v1h-2zM161 336h1v1h-1zM161 337h1v1h-1zM161 338h1v1h-1zM162 339h1v1h-1zM162 340h1v1h-1zM162 341h1v1h-1zM162 342h1v1h-1zM162 343h1v1h-1zM163 344h1v1h-1zM163 345h1v1h-1zM163 346h1v1h-1zM163 347h1v1h-1zM163 348h1v1h-1zM164 349h1v1h-1zM164 350h1v1h-1zM164 351h1v1h-1zM164 352h1v1h-1zM164 353h1v1h-1zM165 354h1v1h-1zM165 355h1v1h-1zM165 356h1v1h-1zM165 357h1v1h-1zM166 358h1v1h-1zM166 359h1v1h-1zM166 360h1v1h-1zM166 361h1v1h-1zM166 362h1v1h-1zM167 363h1v1h-1zM167 364h1v1h-1zM167 365h1v1h-1zM167 366h1v1h-1zM167 367h1v1h-1zM168 368h1v1h-1zM168 369h1v1h-1zM168 370h1v1h-1zM168 371h1v1h-1zM168 372h1v1h-1zM169 373h1v1h-1zM169 374h1v1h-1zM169 375h1v1h-1zM169 376h1v1h-1zM170 377h1v1h-1zM170 378h1v1h-1zM170 379h1v1h-1zM171 380h1v1h-1zM171 381h1v1h-1zM171 382h1v1h-1zM171 383h1v1h-1zM1017 383h1v1h-1zM172 384h1v1h-1zM1016 384h2v1h-2zM172 385h1v1h-1zM1016 385h1v1h-1zM1018 385h1v1h-1zM172 386h1v1h-1zM1015 386h1v1h-1zM1018 386h1v1h-1zM173 387h1v1h-1zM1015 387h1v1h-1zM1019 387h1v1h-1zM173 388h1v1h-1zM1014 388h1v1h-1zM1019 388h1v1h-1zM173 389h1v1h-1zM1013 389h1v1h-1zM1019 389h1v1h-1zM174 390h1v1h-1zM1013 390h1v1h-1zM1020 390h1v1h-1zM174 391h1v1h-1zM1012 391h1v1h-1zM1020 391h1v1h-1zM174 392h1v1h-1zM1011 392h1v1h-1zM1020 392h1v1h-1zM175 393h1v1h-1zM1011 393h1v1h-1zM1021 393h1v1h-1zM175 394h1v1h-1zM1010 394h1v1h-1zM1021 394h1v1h-1zM175 395h1v1h-1zM1010 395h1v1h-1zM1022 395h1v1h-1zM175 396h1v1h-1zM1009 396h1v1h-1zM1022 396h1v1h-1zM176 397h1v1h-1zM1008 397h1v1h-1zM1022 397h1v1h-1zM176 398h1v1h-1zM1007 398h1v1h-1zM1023 398h1v1h-1zM176 399h1v1h-1zM1006 399h1v1h-1zM1023 399h1v1h-1zM177 400h1v1h-1zM1004 400h2v1h-2zM1023 400h1v1h-1zM177 401h1v1h-1zM1003 401h1v1h-1zM1024 401h1v1h-1zM178 402h1v1h-1zM1002 402h1v1h-1zM1024 402h1v1h-1zM178 403h1v1h-1zM1001 403h1v1h-1zM1025 403h1v1h-1zM179 404h1v1h-1zM1000 404h1v1h-1zM1025 404h1v1h-1zM179 405h1v1h-1zM1000 405h1v1h-1zM1025 405h1v1h-1zM180 406h1v1h-1zM999 406h1v1h-1zM1026 406h1v1h-1zM180 407h1v1h-1zM998 407h1v1h-1zM1026 407h1v1h-1zM181 408h1v1h-1zM997 408h1v1h-1zM1027 408h1v1h-1zM181 409h1v1h-1zM997 409h1v1h-1zM1027 409h1v1h-1zM182 410h1v1h-1zM996 410h1v1h-1zM1027 410h1v1h-1zM182 411h1v1h-1zM995 411h1v1h-1zM1028 411h1v1h-1zM183 412h1v1h-1zM994 412h1v1h-1zM1028 412h1v1h-1zM183 413h1v1h-1zM994 413h1v1h-1zM1028 413h1v1h-1zM184 414h1v1h-1zM993 414h1v1h-1zM1029 414h1v1h-1zM184 415h1v1h-1zM992 415h1v1h-1zM1029 415h1v1h-1zM185 416h1v1h-1zM992 416h1v1h-1zM1030 416h1v1h-1zM186 417h1v1h-1zM991 417h1v1h-1zM1030 417h1v1h-1zM187 418h1v1h-1zM991 418h1v1h-1zM1030 418h1v1h-1zM188 419h1v1h-1zM990 419h1v1h-1zM1031 419h1v1h-1zM189 420h1v1h-1zM990 420h1v1h-1zM1031 420h1v1h-1zM189 421h1v1h-1zM989 421h1v1h-1zM1031 421h1v1h-1zM190 422h1v1h-1zM989 422h1v1h-1zM1032 422h1v1h-1zM191 423h1v1h-1zM988 423h1v1h-1zM1032 423h1v1h-1zM192 424h1v1h-1zM988 424h1v1h-1zM1033 424h1v1h-1zM193 425h1v1h-1zM987 425h1v1h-1zM1033 425h1v1h-1zM193 426h1v1h-1zM987 426h1v1h-1zM1034 426h1v1h-1zM194 427h1v1h-1zM986 427h1v1h-1zM1035 427h1v1h-1zM194 428h1v1h-1zM986 428h1v1h-1zM1036 428h1v1h-1zM195 429h1v1h-1zM985 429h1v1h-1zM1037 429h1v1h-1zM195 430h1v1h-1zM985 430h1v1h-1zM1037 430h1v1h-1zM196 431h1v1h-1zM985 431h1v1h-1zM1038 431h1v1h-1zM196 432h1v1h-1zM984 432h1v1h-1zM1039 432h1v1h-1zM197 433h1v1h-1zM984 433h1v1h-1zM1040 433h1v1h-1zM197 434h1v1h-1zM984 434h1v1h-1zM1041 434h3v1h-3zM197 435h1v1h-1zM983 435h1v1h-1zM1044 435h4v1h-4zM198 436h1v1h-1zM983 436h1v1h-1zM1048 436h2v1h-2zM198 437h1v1h-1zM983 437h1v1h-1zM1050 437h2v1h-2zM199 438h1v1h-1zM982 438h1v1h-1zM1052 438h2v1h-2zM199 439h1v1h-1zM982 439h1v1h-1zM1054 439h1v1h-1zM1313 439h1v1h-1zM200 440h1v1h-1zM982 440h1v1h-1zM1055 440h2v1h-2zM1311 440h2v1h-2zM200 441h1v1h-1zM981 441h1v1h-1zM1057 441h1v1h-1zM1309 441h2v1h-2zM201 442h1v1h-1zM981 442h1v1h-1zM1058 442h1v1h-1zM1307 442h2v1h-2zM201 443h1v1h-1zM981 443h1v1h-1zM1058 443h1v1h-1zM1305 443h2v1h-2zM201 444h1v1h-1zM980 444h1v1h-1zM1059 444h1v1h-1zM1303 444h2v1h-2zM202 445h1v1h-1zM980 445h1v1h-1zM1060 445h1v1h-1zM1301 445h2v1h-2zM202 446h1v1h-1zM980 446h1v1h-1zM1060 446h1v1h-1zM1299 446h2v1h-2zM202 447h1v1h-1zM979 447h1v1h-1zM1061 447h1v1h-1zM1297 447h2v1h-2zM203 448h1v1h-1zM979 448h1v1h-1zM1062 448h1v1h-1zM1296 448h1v1h-1zM203 449h1v1h-1zM979 449h1v1h-1zM1062 449h1v1h-1zM1294 449h2v1h-2zM203 450h1v1h-1zM978 450h1v1h-1zM1063 450h1v1h-1zM1293 450h1v1h-1zM203 451h1v1h-1zM978 451h1v1h-1zM1064 451h1v1h-1zM1292 451h1v1h-1zM204 452h1v1h-1zM978 452h1v1h-1zM1064 452h1v1h-1zM1290 452h2v1h-2zM204 453h1v1h-1zM977 453h1v1h-1zM1065 453h1v1h-1zM1289 453h1v1h-1zM204 454h1v1h-1zM977 454h1v1h-1zM1065 454h1v1h-1zM1288 454h1v1h-1zM205 455h1v1h-1zM976 455h1v1h-1zM1066 455h1v1h-1zM1288 455h1v1h-1zM205 456h1v1h-1zM976 456h1v1h-1zM1066 456h1v1h-1zM1287 456h1v1h-1zM205 457h1v1h-1zM975 457h1v1h-1zM1067 457h1v1h-1zM1286 457h1v1h-1zM206 458h1v1h-1zM975 458h1v1h-1zM1067 458h1v1h-1zM1285 458h1v1h-1zM206 459h1v1h-1zM974 459h1v1h-1zM1068 459h1v1h-1zM1217 459h2v1h-2zM1285 459h1v1h-1zM206 460h1v1h-1zM974 460h1v1h-1zM1068 460h1v1h-1zM1215 460h2v1h-2zM1219 460h2v1h-2zM1284 460h1v1h-1zM207 461h1v1h-1zM973 461h1v1h-1zM1068 461h1v1h-1zM1214 461h1v1h-1zM1221 461h2v1h-2zM1283 461h1v1h-1zM207 462h1v1h-1zM973 462h1v1h-1zM1069 462h1v1h-1zM1212 462h2v1h-2zM1223 462h2v1h-2zM1282 462h1v1h-1zM207 463h1v1h-1zM972 463h1v1h-1zM1069 463h1v1h-1zM1210 463h2v1h-2zM1225 463h3v1h-3zM1282 463h1v1h-1zM207 464h1v1h-1zM972 464h1v1h-1zM1070 464h1v1h-1zM1193 464h2v1h-2zM1208 464h2v1h-2zM1228 464h4v1h-4zM1238 464h24v1h-24zM1270 464h12v1h-12zM208 465h1v1h-1zM971 465h1v1h-1zM1070 465h1v1h-1zM1192 465h1v1h-1zM1195 465h3v1h-3zM1206 465h2v1h-2zM1232 465h6v1h-6zM1262 465h8v1h-8zM208 466h1v1h-1zM971 466h1v1h-1zM1070 466h1v1h-1zM1191 466h1v1h-1zM1198 466h2v1h-2zM1203 466h3v1h-3zM208 467h1v1h-1zM970 467h1v1h-1zM1071 467h1v1h-1zM1190 467h1v1h-1zM1200 467h3v1h-3zM209 468h1v1h-1zM970 468h1v1h-1zM1071 468h1v1h-1zM1188 468h2v1h-2zM209 469h1v1h-1zM969 469h1v1h-1zM1072 469h1v1h-1zM1121 469h1v1h-1zM1187 469h1v1h-1zM209 470h1v1h-1zM969 470h1v1h-1zM1072 470h1v1h-1zM1119 470h2v1h-2zM1122 470h1v1h-1zM1186 470h1v1h-1zM209 471h1v1h-1zM968 471h1v1h-1zM1073 471h1v1h-1zM1117 471h2v1h-2zM1123 471h1v1h-1zM1185 471h1v1h-1zM210 472h1v1h-1zM968 472h1v1h-1zM1073 472h1v1h-1zM1115 472h2v1h-2zM1124 472h1v1h-1zM1184 472h1v1h-1zM210 473h1v1h-1zM967 473h1v1h-1zM1074 473h1v1h-1zM1110 473h5v1h-5zM1125 473h1v1h-1zM1183 473h1v1h-1zM210 474h1v1h-1zM967 474h1v1h-1zM1074 474h1v1h-1zM1097 474h13v1h-13zM1126 474h1v1h-1zM1144 474h6v1h-6zM1182 474h1v1h-1zM210 475h1v1h-1zM967 475h1v1h-1zM1075 475h1v1h-1zM1096 475h1v1h-1zM1127 475h1v1h-1zM1140 475h4v1h-4zM1150 475h13v1h-13zM1181 475h1v1h-1zM210 476h1v1h-1zM966 476h1v1h-1zM1075 476h1v1h-1zM1095 476h1v1h-1zM1128 476h1v1h-1zM1134 476h6v1h-6zM1163 476h3v1h-3zM1181 476h1v1h-1zM211 477h1v1h-1zM966 477h1v1h-1zM1076 477h1v1h-1zM1094 477h1v1h-1zM1129 477h5v1h-5zM1166 477h2v1h-2zM1180 477h1v1h-1zM211 478h1v1h-1zM873 478h1v1h-1zM965 478h1v1h-1zM1077 478h1v1h-1zM1092 478h2v1h-2zM1168 478h4v1h-4zM1179 478h1v1h-1zM211 479h1v1h-1zM872 479h1v1h-1zM874 479h2v1h-2zM965 479h1v1h-1zM1077 479h1v1h-1zM1091 479h1v1h-1zM1172 479h4v1h-4zM1178 479h1v1h-1zM211 480h1v1h-1zM870 480h2v1h-2zM876 480h1v1h-1zM965 480h1v1h-1zM1078 480h1v1h-1zM1090 480h1v1h-1zM1176 480h2v1h-2zM212 481h1v1h-1zM869 481h1v1h-1zM877 481h1v1h-1zM964 481h1v1h-1zM1079 481h1v1h-1zM1089 481h1v1h-1zM212 482h1v1h-1zM868 482h1v1h-1zM878 482h2v1h-2zM964 482h1v1h-1zM1079 482h1v1h-1zM1087 482h2v1h-2zM212 483h1v1h-1zM866 483h2v1h-2zM880 483h1v1h-1zM963 483h1v1h-1zM1080 483h1v1h-1zM1085 483h2v1h-2zM212 484h1v1h-1zM865 484h1v1h-1zM881 484h2v1h-2zM963 484h1v1h-1zM1080 484h1v1h-1zM1083 484h2v1h-2zM212 485h1v1h-1zM864 485h1v1h-1zM883 485h2v1h-2zM963 485h1v1h-1zM1081 485h2v1h-2zM213 486h1v1h-1zM864 486h1v1h-1zM885 486h2v1h-2zM962 486h1v1h-1zM213 487h1v1h-1zM863 487h1v1h-1zM887 487h2v1h-2zM962 487h1v1h-1zM213 488h1v1h-1zM862 488h1v1h-1zM889 488h1v1h-1zM961 488h1v1h-1zM213 489h1v1h-1zM861 489h1v1h-1zM890 489h1v1h-1zM961 489h1v1h-1zM213 490h1v1h-1zM861 490h1v1h-1zM890 490h1v1h-1zM960 490h1v1h-1zM214 491h1v1h-1zM860 491h1v1h-1zM891 491h1v1h-1zM959 491h1v1h-1zM214 492h1v1h-1zM859 492h1v1h-1zM891 492h1v1h-1zM958 492h1v1h-1zM214 493h1v1h-1zM858 493h1v1h-1zM892 493h1v1h-1zM957 493h1v1h-1zM214 494h1v1h-1zM858 494h1v1h-1zM892 494h1v1h-1zM956 494h1v1h-1zM214 495h1v1h-1zM857 495h1v1h-1zM893 495h1v1h-1zM955 495h1v1h-1zM215 496h1v1h-1zM856 496h1v1h-1zM893 496h1v1h-1zM954 496h1v1h-1zM215 497h1v1h-1zM856 497h1v1h-1zM894 497h1v1h-1zM953 497h1v1h-1zM215 498h1v1h-1zM593 498h1v1h-1zM855 498h1v1h-1zM894 498h1v1h-1zM952 498h1v1h-1zM215 499h1v1h-1zM592 499h1v1h-1zM594 499h2v1h-2zM854 499h1v1h-1zM895 499h1v1h-1zM951 499h1v1h-1zM216 500h1v1h-1zM590 500h2v1h-2zM596 500h2v1h-2zM854 500h1v1h-1zM895 500h1v1h-1zM950 500h1v1h-1zM216 501h1v1h-1zM589 501h1v1h-1zM598 501h1v1h-1zM853 501h1v1h-1zM896 501h1v1h-1zM949 501h1v1h-1zM216 502h1v1h-1zM588 502h1v1h-1zM599 502h2v1h-2zM852 502h1v1h-1zM896 502h1v1h-1zM949 502h1v1h-1zM216 503h1v1h-1zM586 503h2v1h-2zM601 503h1v1h-1zM852 503h1v1h-1zM897 503h11v1h-11zM948 503h1v1h-1zM216 504h1v1h-1zM585 504h1v1h-1zM602 504h1v1h-1zM851 504h1v1h-1zM908 504h4v1h-4zM947 504h1v1h-1zM217 505h1v1h-1zM584 505h1v1h-1zM603 505h1v1h-1zM850 505h1v1h-1zM912 505h6v1h-6zM946 505h1v1h-1zM217 506h1v1h-1zM583 506h1v1h-1zM604 506h2v1h-2zM850 506h1v1h-1zM918 506h4v1h-4zM945 506h1v1h-1zM217 507h1v1h-1zM582 507h1v1h-1zM606 507h1v1h-1zM849 507h1v1h-1zM922 507h1v1h-1zM944 507h1v1h-1zM217 508h1v1h-1zM580 508h2v1h-2zM607 508h1v1h-1zM848 508h1v1h-1zM923 508h1v1h-1zM943 508h1v1h-1zM218 509h1v1h-1zM579 509h1v1h-1zM608 509h1v1h-1zM847 509h1v1h-1zM924 509h2v1h-2zM942 509h1v1h-1zM218 510h1v1h-1zM578 510h1v1h-1zM609 510h2v1h-2zM846 510h1v1h-1zM926 510h1v1h-1zM941 510h1v1h-1zM218 511h1v1h-1zM577 511h1v1h-1zM611 511h3v1h-3zM845 511h1v1h-1zM927 511h1v1h-1zM941 511h1v1h-1zM218 512h1v1h-1zM449 512h2v1h-2zM575 512h2v1h-2zM614 512h2v1h-2zM845 512h1v1h-1zM928 512h1v1h-1zM940 512h1v1h-1zM219 513h1v1h-1zM448 513h1v1h-1zM451 513h3v1h-3zM573 513h2v1h-2zM616 513h2v1h-2zM844 513h1v1h-1zM929 513h3v1h-3zM939 513h1v1h-1zM219 514h1v1h-1zM447 514h1v1h-1zM454 514h2v1h-2zM571 514h2v1h-2zM617 514h1v1h-1zM843 514h1v1h-1zM932 514h4v1h-4zM938 514h1v1h-1zM219 515h1v1h-1zM447 515h1v1h-1zM456 515h2v1h-2zM569 515h2v1h-2zM618 515h1v1h-1zM842 515h1v1h-1zM936 515h2v1h-2zM220 516h1v1h-1zM446 516h1v1h-1zM458 516h2v1h-2zM568 516h1v1h-1zM618 516h1v1h-1zM841 516h1v1h-1zM220 517h1v1h-1zM445 517h1v1h-1zM460 517h2v1h-2zM567 517h1v1h-1zM618 517h1v1h-1zM841 517h1v1h-1zM220 518h1v1h-1zM444 518h1v1h-1zM462 518h1v1h-1zM566 518h1v1h-1zM618 518h1v1h-1zM840 518h1v1h-1zM220 519h1v1h-1zM443 519h1v1h-1zM463 519h2v1h-2zM565 519h1v1h-1zM619 519h1v1h-1zM840 519h1v1h-1zM221 520h1v1h-1zM443 520h1v1h-1zM465 520h1v1h-1zM564 520h1v1h-1zM619 520h1v1h-1zM839 520h1v1h-1zM221 521h1v1h-1zM442 521h1v1h-1zM466 521h1v1h-1zM563 521h1v1h-1zM619 521h1v1h-1zM839 521h1v1h-1zM221 522h1v1h-1zM441 522h1v1h-1zM466 522h1v1h-1zM562 522h1v1h-1zM619 522h1v1h-1zM838 522h1v1h-1zM222 523h1v1h-1zM440 523h1v1h-1zM467 523h1v1h-1zM561 523h1v1h-1zM620 523h1v1h-1zM838 523h1v1h-1zM222 524h1v1h-1zM439 524h1v1h-1zM467 524h1v1h-1zM561 524h1v1h-1zM620 524h1v1h-1zM837 524h1v1h-1zM222 525h1v1h-1zM438 525h1v1h-1zM468 525h1v1h-1zM560 525h1v1h-1zM620 525h1v1h-1zM837 525h1v1h-1zM222 526h1v1h-1zM436 526h2v1h-2zM468 526h1v1h-1zM560 526h1v1h-1zM621 526h1v1h-1zM837 526h1v1h-1zM223 527h1v1h-1zM435 527h1v1h-1zM469 527h1v1h-1zM559 527h1v1h-1zM621 527h1v1h-1zM836 527h1v1h-1zM223 528h1v1h-1zM434 528h1v1h-1zM469 528h1v1h-1zM559 528h1v1h-1zM621 528h1v1h-1zM836 528h1v1h-1zM223 529h1v1h-1zM433 529h1v1h-1zM470 529h1v1h-1zM559 529h1v1h-1zM621 529h1v1h-1zM835 529h1v1h-1zM224 530h1v1h-1zM431 530h2v1h-2zM470 530h1v1h-1zM558 530h1v1h-1zM622 530h1v1h-1zM835 530h1v1h-1zM224 531h1v1h-1zM429 531h2v1h-2zM471 531h1v1h-1zM558 531h1v1h-1zM622 531h1v1h-1zM834 531h1v1h-1zM224 532h1v1h-1zM427 532h2v1h-2zM471 532h1v1h-1zM558 532h1v1h-1zM622 532h1v1h-1zM834 532h1v1h-1zM224 533h1v1h-1zM425 533h2v1h-2zM472 533h1v1h-1zM557 533h1v1h-1zM623 533h1v1h-1zM833 533h1v1h-1zM225 534h1v1h-1zM424 534h1v1h-1zM472 534h1v1h-1zM557 534h1v1h-1zM623 534h1v1h-1zM833 534h1v1h-1zM225 535h1v1h-1zM424 535h1v1h-1zM473 535h1v1h-1zM556 535h1v1h-1zM623 535h1v1h-1zM832 535h1v1h-1zM225 536h1v1h-1zM423 536h1v1h-1zM474 536h1v1h-1zM556 536h1v1h-1zM623 536h1v1h-1zM831 536h1v1h-1zM226 537h1v1h-1zM423 537h1v1h-1zM474 537h1v1h-1zM556 537h1v1h-1zM624 537h1v1h-1zM831 537h1v1h-1zM226 538h1v1h-1zM422 538h1v1h-1zM475 538h1v1h-1zM555 538h1v1h-1zM624 538h1v1h-1zM830 538h1v1h-1zM226 539h1v1h-1zM422 539h1v1h-1zM476 539h1v1h-1zM555 539h1v1h-1zM624 539h1v1h-1zM829 539h1v1h-1zM227 540h1v1h-1zM421 540h1v1h-1zM476 540h1v1h-1zM555 540h1v1h-1zM624 540h1v1h-1zM828 540h1v1h-1zM227 541h1v1h-1zM420 541h1v1h-1zM477 541h1v1h-1zM554 541h1v1h-1zM625 541h1v1h-1zM827 541h1v1h-1zM227 542h1v1h-1zM420 542h1v1h-1zM478 542h1v1h-1zM554 542h1v1h-1zM625 542h1v1h-1zM827 542h1v1h-1zM228 543h1v1h-1zM419 543h1v1h-1zM478 543h1v1h-1zM553 543h1v1h-1zM625 543h1v1h-1zM826 543h1v1h-1zM228 544h1v1h-1zM419 544h1v1h-1zM479 544h1v1h-1zM553 544h1v1h-1zM626 544h1v1h-1zM824 544h2v1h-2zM228 545h1v1h-1zM321 545h2v1h-2zM418 545h1v1h-1zM480 545h1v1h-1zM552 545h1v1h-1zM626 545h1v1h-1zM822 545h2v1h-2zM229 546h1v1h-1zM320 546h1v1h-1zM323 546h2v1h-2zM418 546h1v1h-1zM480 546h1v1h-1zM552 546h1v1h-1zM627 546h1v1h-1zM819 546h3v1h-3zM229 547h1v1h-1zM320 547h1v1h-1zM325 547h2v1h-2zM417 547h1v1h-1zM481 547h1v1h-1zM551 547h1v1h-1zM627 547h1v1h-1zM817 547h2v1h-2zM229 548h1v1h-1zM319 548h1v1h-1zM327 548h2v1h-2zM416 548h1v1h-1zM482 548h1v1h-1zM551 548h1v1h-1zM628 548h1v1h-1zM815 548h2v1h-2zM230 549h1v1h-1zM318 549h1v1h-1zM329 549h2v1h-2zM416 549h1v1h-1zM482 549h1v1h-1zM550 549h1v1h-1zM628 549h1v1h-1zM814 549h1v1h-1zM230 550h1v1h-1zM318 550h1v1h-1zM331 550h3v1h-3zM415 550h1v1h-1zM483 550h1v1h-1zM550 550h1v1h-1zM628 550h1v1h-1zM812 550h2v1h-2zM230 551h1v1h-1zM317 551h1v1h-1zM334 551h2v1h-2zM414 551h1v1h-1zM484 551h1v1h-1zM549 551h1v1h-1zM629 551h1v1h-1zM810 551h2v1h-2zM231 552h1v1h-1zM316 552h1v1h-1zM336 552h2v1h-2zM414 552h1v1h-1zM484 552h1v1h-1zM549 552h1v1h-1zM629 552h1v1h-1zM809 552h1v1h-1zM231 553h1v1h-1zM316 553h1v1h-1zM338 553h1v1h-1zM413 553h1v1h-1zM485 553h1v1h-1zM548 553h1v1h-1zM630 553h1v1h-1zM807 553h2v1h-2zM231 554h1v1h-1zM315 554h1v1h-1zM338 554h1v1h-1zM412 554h1v1h-1zM486 554h1v1h-1zM548 554h1v1h-1zM630 554h1v1h-1zM805 554h2v1h-2zM232 555h1v1h-1zM314 555h1v1h-1zM339 555h1v1h-1zM412 555h1v1h-1zM486 555h1v1h-1zM547 555h1v1h-1zM630 555h1v1h-1zM803 555h2v1h-2zM232 556h1v1h-1zM314 556h1v1h-1zM340 556h1v1h-1zM411 556h1v1h-1zM487 556h1v1h-1zM547 556h1v1h-1zM631 556h1v1h-1zM801 556h2v1h-2zM232 557h1v1h-1zM313 557h1v1h-1zM341 557h1v1h-1zM410 557h1v1h-1zM488 557h1v1h-1zM546 557h1v1h-1zM631 557h1v1h-1zM800 557h1v1h-1zM233 558h1v1h-1zM312 558h1v1h-1zM341 558h1v1h-1zM410 558h1v1h-1zM488 558h1v1h-1zM546 558h1v1h-1zM632 558h1v1h-1zM798 558h2v1h-2zM233 559h1v1h-1zM312 559h1v1h-1zM342 559h1v1h-1zM409 559h1v1h-1zM489 559h1v1h-1zM545 559h1v1h-1zM632 559h1v1h-1zM797 559h1v1h-1zM233 560h1v1h-1zM311 560h1v1h-1zM343 560h1v1h-1zM408 560h1v1h-1zM490 560h1v1h-1zM544 560h1v1h-1zM633 560h1v1h-1zM796 560h1v1h-1zM234 561h1v1h-1zM310 561h1v1h-1zM344 561h1v1h-1zM408 561h1v1h-1zM490 561h1v1h-1zM544 561h1v1h-1zM633 561h1v1h-1zM794 561h2v1h-2zM234 562h1v1h-1zM309 562h1v1h-1zM344 562h1v1h-1zM407 562h1v1h-1zM491 562h1v1h-1zM543 562h1v1h-1zM634 562h1v1h-1zM793 562h1v1h-1zM235 563h1v1h-1zM309 563h1v1h-1zM345 563h1v1h-1zM407 563h1v1h-1zM492 563h1v1h-1zM543 563h1v1h-1zM634 563h1v1h-1zM792 563h1v1h-1zM235 564h1v1h-1zM308 564h1v1h-1zM345 564h1v1h-1zM406 564h1v1h-1zM493 564h1v1h-1zM542 564h1v1h-1zM635 564h1v1h-1zM791 564h1v1h-1zM235 565h1v1h-1zM307 565h1v1h-1zM346 565h1v1h-1zM406 565h1v1h-1zM493 565h1v1h-1zM542 565h1v1h-1zM635 565h1v1h-1zM791 565h1v1h-1zM236 566h1v1h-1zM306 566h1v1h-1zM346 566h1v1h-1zM405 566h1v1h-1zM494 566h1v1h-1zM541 566h1v1h-1zM636 566h1v1h-1zM790 566h1v1h-1zM236 567h1v1h-1zM306 567h1v1h-1zM347 567h1v1h-1zM405 567h1v1h-1zM495 567h1v1h-1zM541 567h1v1h-1zM637 567h1v1h-1zM789 567h1v1h-1zM237 568h1v1h-1zM304 568h2v1h-2zM347 568h1v1h-1zM404 568h1v1h-1zM496 568h1v1h-1zM540 568h1v1h-1zM637 568h1v1h-1zM788 568h1v1h-1zM237 569h1v1h-1zM302 569h2v1h-2zM348 569h1v1h-1zM404 569h1v1h-1zM496 569h1v1h-1zM540 569h1v1h-1zM638 569h1v1h-1zM787 569h1v1h-1zM237 570h1v1h-1zM299 570h3v1h-3zM348 570h1v1h-1zM403 570h1v1h-1zM497 570h1v1h-1zM539 570h1v1h-1zM639 570h1v1h-1zM787 570h1v1h-1zM238 571h1v1h-1zM294 571h5v1h-5zM349 571h1v1h-1zM403 571h1v1h-1zM498 571h1v1h-1zM539 571h1v1h-1zM639 571h1v1h-1zM786 571h1v1h-1zM238 572h1v1h-1zM289 572h5v1h-5zM349 572h1v1h-1zM402 572h1v1h-1zM498 572h1v1h-1zM538 572h1v1h-1zM640 572h1v1h-1zM785 572h1v1h-1zM239 573h1v1h-1zM288 573h1v1h-1zM350 573h1v1h-1zM402 573h1v1h-1zM499 573h1v1h-1zM538 573h1v1h-1zM640 573h1v1h-1zM784 573h1v1h-1zM239 574h1v1h-1zM287 574h1v1h-1zM350 574h1v1h-1zM401 574h1v1h-1zM500 574h1v1h-1zM537 574h1v1h-1zM641 574h1v1h-1zM784 574h1v1h-1zM239 575h1v1h-1zM287 575h1v1h-1zM351 575h1v1h-1zM400 575h1v1h-1zM501 575h1v1h-1zM537 575h1v1h-1zM642 575h2v1h-2zM783 575h1v1h-1zM240 576h1v1h-1zM286 576h1v1h-1zM351 576h1v1h-1zM400 576h1v1h-1zM501 576h1v1h-1zM536 576h1v1h-1zM644 576h2v1h-2zM752 576h6v1h-6zM782 576h1v1h-1zM240 577h1v1h-1zM285 577h1v1h-1zM352 577h1v1h-1zM399 577h1v1h-1zM502 577h1v1h-1zM536 577h1v1h-1zM646 577h1v1h-1zM748 577h4v1h-4zM758 577h5v1h-5zM782 577h1v1h-1zM241 578h1v1h-1zM284 578h1v1h-1zM352 578h1v1h-1zM399 578h1v1h-1zM503 578h1v1h-1zM535 578h1v1h-1zM647 578h2v1h-2zM744 578h4v1h-4zM763 578h3v1h-3zM781 578h1v1h-1zM241 579h1v1h-1zM283 579h1v1h-1zM353 579h1v1h-1zM398 579h1v1h-1zM504 579h1v1h-1zM534 579h1v1h-1zM649 579h1v1h-1zM742 579h2v1h-2zM766 579h2v1h-2zM780 579h1v1h-1zM242 580h1v1h-1zM283 580h1v1h-1zM353 580h1v1h-1zM398 580h1v1h-1zM504 580h1v1h-1zM533 580h1v1h-1zM650 580h2v1h-2zM739 580h3v1h-3zM768 580h3v1h-3zM780 580h1v1h-1zM242 581h1v1h-1zM282 581h1v1h-1zM354 581h1v1h-1zM397 581h1v1h-1zM505 581h1v1h-1zM533 581h1v1h-1zM652 581h2v1h-2zM737 581h2v1h-2zM771 581h2v1h-2zM779 581h1v1h-1zM243 582h1v1h-1zM281 582h1v1h-1zM354 582h1v1h-1zM396 582h1v1h-1zM506 582h1v1h-1zM532 582h1v1h-1zM654 582h1v1h-1zM736 582h1v1h-1zM773 582h2v1h-2zM778 582h1v1h-1zM243 583h1v1h-1zM280 583h1v1h-1zM355 583h1v1h-1zM396 583h1v1h-1zM507 583h1v1h-1zM531 583h1v1h-1zM655 583h2v1h-2zM736 583h1v1h-1zM775 583h2v1h-2zM778 583h1v1h-1zM244 584h1v1h-1zM279 584h1v1h-1zM355 584h1v1h-1zM395 584h1v1h-1zM508 584h1v1h-1zM530 584h1v1h-1zM657 584h2v1h-2zM735 584h1v1h-1zM777 584h1v1h-1zM245 585h1v1h-1zM279 585h1v1h-1zM356 585h1v1h-1zM395 585h1v1h-1zM509 585h1v1h-1zM530 585h1v1h-1zM659 585h3v1h-3zM735 585h1v1h-1zM245 586h1v1h-1zM278 586h1v1h-1zM356 586h1v1h-1zM394 586h1v1h-1zM510 586h1v1h-1zM529 586h1v1h-1zM662 586h2v1h-2zM734 586h1v1h-1zM246 587h1v1h-1zM277 587h1v1h-1zM357 587h1v1h-1zM394 587h1v1h-1zM511 587h1v1h-1zM528 587h1v1h-1zM664 587h2v1h-2zM733 587h1v1h-1zM247 588h1v1h-1zM276 588h1v1h-1zM358 588h1v1h-1zM393 588h1v1h-1zM512 588h1v1h-1zM527 588h1v1h-1zM666 588h1v1h-1zM733 588h1v1h-1zM247 589h1v1h-1zM265 589h2v1h-2zM275 589h1v1h-1zM358 589h1v1h-1zM392 589h1v1h-1zM513 589h1v1h-1zM526 589h1v1h-1zM667 589h1v1h-1zM732 589h1v1h-1zM248 590h1v1h-1zM263 590h2v1h-2zM267 590h3v1h-3zM275 590h1v1h-1zM359 590h1v1h-1zM392 590h1v1h-1zM514 590h2v1h-2zM525 590h1v1h-1zM668 590h1v1h-1zM731 590h1v1h-1zM248 591h1v1h-1zM261 591h2v1h-2zM270 591h2v1h-2zM274 591h1v1h-1zM359 591h1v1h-1zM391 591h1v1h-1zM516 591h2v1h-2zM524 591h1v1h-1zM669 591h1v1h-1zM731 591h1v1h-1zM249 592h5v1h-5zM259 592h2v1h-2zM272 592h2v1h-2zM360 592h1v1h-1zM390 592h1v1h-1zM518 592h1v1h-1zM523 592h1v1h-1zM670 592h1v1h-1zM730 592h1v1h-1zM254 593h5v1h-5zM360 593h1v1h-1zM390 593h1v1h-1zM519 593h2v1h-2zM522 593h1v1h-1zM671 593h1v1h-1zM730 593h1v1h-1zM361 594h1v1h-1zM389 594h1v1h-1zM521 594h1v1h-1zM672 594h1v1h-1zM729 594h1v1h-1zM362 595h1v1h-1zM388 595h1v1h-1zM673 595h1v1h-1zM728 595h1v1h-1zM362 596h1v1h-1zM388 596h1v1h-1zM674 596h1v1h-1zM727 596h1v1h-1zM363 597h1v1h-1zM387 597h1v1h-1zM674 597h1v1h-1zM726 597h1v1h-1zM363 598h1v1h-1zM386 598h1v1h-1zM675 598h1v1h-1zM725 598h1v1h-1zM364 599h1v1h-1zM386 599h1v1h-1zM676 599h1v1h-1zM724 599h1v1h-1zM365 600h1v1h-1zM385 600h1v1h-1zM677 600h1v1h-1zM723 600h1v1h-1zM365 601h1v1h-1zM383 601h2v1h-2zM677 601h1v1h-1zM722 601h1v1h-1zM366 602h1v1h-1zM381 602h2v1h-2zM678 602h1v1h-1zM721 602h1v1h-1zM367 603h1v1h-1zM379 603h2v1h-2zM679 603h1v1h-1zM719 603h2v1h-2zM367 604h1v1h-1zM376 604h3v1h-3zM680 604h1v1h-1zM717 604h2v1h-2zM368 605h1v1h-1zM374 605h2v1h-2zM680 605h1v1h-1zM715 605h2v1h-2zM368 606h1v1h-1zM371 606h3v1h-3zM681 606h3v1h-3zM713 606h2v1h-2zM369 607h2v1h-2zM684 607h4v1h-4zM711 607h2v1h-2zM688 608h6v1h-6zM709 608h2v1h-2zM694 609h8v1h-8zM707 609h2v1h-2zM702 610h5v1h-5z" fill="#3cb371" shape-rendering="crispEdges"/>
<g shape-rendering="crispEdges">
<rect x="0" y="301" width="1652" height="2" fill="#ff0000"/>
<rect x="1646" y="299" width="6" height="6" fill="#ff0000"/>
<rect x="1648" y="301" width="2" height="2" fill="#fff"/>
<rect x="1654" y="296" width="41" height="11" fill="#ff0000"/>
<rect x="0" y="333" width="1652" height="2" fill="#ff0000"/>
<rect x="1646" y="331" width="6" height="6" fill="#ff0000"/>
<rect x="1648" y="333" width="2" height="2" fill="#fff"/>
<rect x="1654" y="328" width="41" height="11" fill="#ff0000"/>
<rect x="0" y="371" width="1652" height="2" fill="#ffa500"/>
<rect x="1646" y="369" width="6" height="6" fill="#ffa500"/>
<rect x="1648" y="371" width="2" height="2" fill="#fff"/>
<rect x="1654" y="366" width="41" height="11" fill="#ffa500"/>
<rect x="0" y="417" width="1652" height="2" fill="#0000ff"/>
<rect x="1646" y="415" width="6" height="6" fill="#0000ff"/>
<rect x="1648" y="417" width="2" height="2" fill="#fff"/>
<rect x="1654" y="412" width="41" height="11" fill="#0000ff"/>
<rect x="0" y="450" width="1652" height="2" fill="#0000ff"/>
<rect x="1646" y="448" width="6" height="6" fill="#0000ff"/>
<rect x="1648" y="450" width="2" height="2" fill="#fff"/>
<rect x="1654" y="445" width="41" height="11" fill="#0000ff"/>
<rect x="1654" y="380" width="41" height="11" fill="#000"/>
</g>
<line x1="1228.3" y1="288" x2="1326" y2="374.7" stroke="#00ff00" stroke-width="2.9"/>
<polygon points="1332.3,380.3 1320.8,376 1326.5,369.6" fill="#00ff00" stroke="#00ff00" stroke-width="0.8" stroke-linejoin="round"/>
<polygon points="1313.5,26 1323.5,26 1318.5,31" fill="#000"/>
<g shape-rendering="crispEdges">
<rect x="0" y="661" width="3" height="45" fill="#00ff00"/>
<rect x="8" y="666" width="3" height="40" fill="#00ff00"/>
<rect x="16" y="672" width="3" height="34" fill="#00ff00"/>
<rect x="24" y="682" width="3" height="24" fill="#00ff00"/>
<rect x="32" y="697" width="3" height="9" fill="#00ff00"/>
<rect x="40" y="705" width="3" height="1" fill="#00ff00"/>
<rect x="48" y="706" width="3" height="7" fill="#00ff00"/>
<rect x="56" y="706" width="3" height="14" fill="#00ff00"/>
<rect x="64" y="706" width="3" height="13" fill="#00ff00"/>
<rect x="72" y="706" width="3" height="14" fill="#00ff00"/>
<rect x="80" y="706" width="3" height="15" fill="#00ff00"/>
<rect x="88" y="706" width="3" height="13" fill="#00ff00"/>
<rect x="96" y="706" width="3" height="9" fill="#00ff00"/>
<rect x="104" y="706" width="3" height="4" fill="#00ff00"/>
<rect x="112" y="706" width="3" height="4" fill="#00ff00"/>
<rect x="120" y="706" width="3" height="1" fill="#00ff00"/>
<rect x="128" y="706" width="3" height="3" fill="#00ff00"/>
<rect x="136" y="706" width="3" height="13" fill="#00ff00"/>
<rect x="144" y="706" width="3" height="20" fill="#00ff00"/>
<rect x="152" y="706" width="3" height="24" fill="#00ff00"/>
<rect x="160" y="706" width="3" height="26" fill="#00ff00"/>
<rect x="168" y="706" width="3" height="39" fill="#00ff00"/>
<rect x="176" y="706" width="3" height="47" fill="#00ff00"/>
<rect x="184" y="706" width="3" height="49" fill="#00ff00"/>
<rect x="192" y="706" width="3" height="49" fill="#00ff00"/>
<rect x="200" y="706" width="3" height="52" fill="#00ff00"/>
<rect x="208" y="706" width="3" height="58" fill="#00ff00"/>
<rect x="216" y="706" width="3" height="66" fill="#00ff00"/>
<rect x="224" y="706" width="3" height="70" fill="#00ff00"/>
<rect x="232" y="706" width="3" height="73" fill="#00ff00"/>
<rect x="240" y="706" width="3" height="74" fill="#00ff00"/>
<rect x="248" y="706" width="3" height="72" fill="#00ff00"/>
<rect x="256" y="706" width="3" height="69" fill="#00ff00"/>
<rect x="264" y="706" width="3" height="65" fill="#00ff00"/>
<rect x="272" y="706" width="3" height="66" fill="#00ff00"/>
<rect x="280" y="706" width="3" height="65" fill="#00ff00"/>
<rect x="288" y="706" width="3" height="63" fill="#00ff00"/>
<rect x="296" y="706" width="3" height="59" fill="#00ff00"/>
<rect x="304" y="706" width="3" height="53" fill="#00ff00"/>
<rect x="312" y="706" width="3" height="43" fill="#00ff00"/>
<rect x="320" y="706" width="3" height="32" fill="#00ff00"/>
<rect x="328" y="706" width="3" height="24" fill="#00ff00"/>
<rect x="336" y="706" width="3" height="17" fill="#00ff00"/>
<rect x="344" y="706" width="3" height="7" fill="#00ff00"/>
<rect x="352" y="701" width="3" height="5" fill="#00ff00"/>
<rect x="360" y="691" width="3" height="15" fill="#00ff00"/>
<rect x="368" y="681" width="3" height="25" fill="#00ff00"/>
<rect x="376" y="673" width="3" height="33" fill="#00ff00"/>
<rect x="384" y="667" width="3" height="39" fill="#00ff00"/>
<rect x="392" y="666" width="3" height="40" fill="#00ff00"/>
<rect x="400" y="666" width="3" height="40" fill="#00ff00"/>
<rect x="408" y="672" width="3" height="34" fill="#00ff00"/>
<rect x="416" y="679" width="3" height="27" fill="#00ff00"/>
<rect x="424" y="684" width="3" height="22" fill="#00ff00"/>
<rect x="432" y="700" width="3" height="6" fill="#00ff00"/>
<rect x="440" y="706" width="3" height="5" fill="#00ff00"/>
<rect x="448" y="706" width="3" height="13" fill="#00ff00"/>
<rect x="456" y="706" width="3" height="21" fill="#00ff00"/>
<rect x="464" y="706" width="3" height="26" fill="#00ff00"/>
<rect x="472" y="706" width="3" height="30" fill="#00ff00"/>
<rect x="480" y="706" width="3" height="32" fill="#00ff00"/>
<rect x="488" y="706" width="3" height="33" fill="#00ff00"/>
<rect x="496" y="706" width="3" height="33" fill="#00ff00"/>
<rect x="504" y="706" width="3" height="33" fill="#00ff00"/>
<rect x="512" y="706" width="3" height="32" fill="#00ff00"/>
<rect x="520" y="706" width="3" height="31" fill="#00ff00"/>
<rect x="528" y="706" width="3" height="25" fill="#00ff00"/>
<rect x="536" y="706" width="3" height="20" fill="#00ff00"/>
<rect x="544" y="706" width="3" height="18" fill="#00ff00"/>
<rect x="552" y="706" width="3" height="14" fill="#00ff00"/>
<rect x="560" y="706" width="3" height="11" fill="#00ff00"/>
<rect x="568" y="706" width="3" height="8" fill="#00ff00"/>
<rect x="576" y="706" width="3" height="4" fill="#00ff00"/>
<rect x="584" y="706" width="3" height="7" fill="#00ff00"/>
<rect x="592" y="706" width="3" height="8" fill="#00ff00"/>
<rect x="600" y="706" width="3" height="14" fill="#00ff00"/>
<rect x="608" y="706" width="3" height="18" fill="#00ff00"/>
<rect x="616" y="706" width="3" height="22" fill="#00ff00"/>
<rect x="624" y="706" width="3" height="31" fill="#00ff00"/>
<rect x="632" y="706" width="3" height="36" fill="#00ff00"/>
<rect x="640" y="706" width="3" height="39" fill="#00ff00"/>
<rect x="648" y="706" width="3" height="37" fill="#00ff00"/>
<rect x="656" y="706" width="3" height="36" fill="#00ff00"/>
<rect x="664" y="706" width="3" height="33" fill="#00ff00"/>
<rect x="672" y="706" width="3" height="33" fill="#00ff00"/>
<rect x="680" y="706" width="3" height="34" fill="#00ff00"/>
<rect x="688" y="706" width="3" height="32" fill="#00ff00"/>
<rect x="696" y="706" width="3" height="30" fill="#00ff00"/>
<rect x="704" y="706" width="3" height="27" fill="#00ff00"/>
<rect x="712" y="706" width="3" height="23" fill="#00ff00"/>
<rect x="720" y="706" width="3" height="18" fill="#00ff00"/>
<rect x="728" y="706" width="3" height="13" fill="#00ff00"/>
<rect x="736" y="706" width="3" height="9" fill="#00ff00"/>
<rect x="744" y="706" width="3" height="8" fill="#00ff00"/>
<rect x="752" y="706" width="3" height="5" fill="#00ff00"/>
<rect x="760" y="706" width="3" height="3" fill="#00ff00"/>
<rect x="768" y="705" width="3" height="1" fill="#00ff00"/>
<rect x="776" y="701" width="3" height="5" fill="#00ff00"/>
<rect x="784" y="698" width="3" height="8" fill="#00ff00"/>
<rect x="792" y="694" width="3" height="12" fill="#00ff00"/>
<rect x="800" y="691" width="3" height="15" fill="#00ff00"/>
<rect x="808" y="693" width="3" height="13" fill="#00ff00"/>
<rect x="816" y="692" width="3" height="14" fill="#00ff00"/>
<rect x="824" y="693" width="3" height="13" fill="#00ff00"/>
<rect x="832" y="692" width="3" height="14" fill="#00ff00"/>
<rect x="840" y="689" width="3" height="17" fill="#00ff00"/>
<rect x="848" y="688" width="3" height="18" fill="#00ff00"/>
<rect x="856" y="687" width="3" height="19" fill="#00ff00"/>
<rect x="864" y="687" width="3" height="19" fill="#00ff00"/>
<rect x="872" y="685" width="3" height="21" fill="#00ff00"/>
<rect x="880" y="679" width="3" height="27" fill="#00ff00"/>
<rect x="888" y="675" width="3" height="31" fill="#00ff00"/>
<rect x="896" y="666" width="3" height="40" fill="#00ff00"/>
<rect x="904" y="661" width="3" height="45" fill="#00ff00"/>
<rect x="912" y="655" width="3" height="51" fill="#00ff00"/>
<rect x="920" y="650" width="3" height="56" fill="#00ff00"/>
<rect x="928" y="643" width="3" height="63" fill="#00ff00"/>
<rect x="936" y="638" width="3" height="68" fill="#00ff00"/>
<rect x="944" y="642" width="3" height="64" fill="#00ff00"/>
<rect x="952" y="647" width="3" height="59" fill="#00ff00"/>
<rect x="960" y="650" width="3" height="56" fill="#00ff00"/>
<rect x="968" y="652" width="3" height="54" fill="#00ff00"/>
<rect x="976" y="655" width="3" height="51" fill="#00ff00"/>
<rect x="984" y="660" width="3" height="46" fill="#00ff00"/>
<rect x="992" y="667" width="3" height="39" fill="#00ff00"/>
<rect x="1000" y="674" width="3" height="32" fill="#00ff00"/>
<rect x="1008" y="683" width="3" height="23" fill="#00ff00"/>
<rect x="1016" y="688" width="3" height="18" fill="#00ff00"/>
<rect x="1024" y="703" width="3" height="3" fill="#00ff00"/>
<rect x="1032" y="706" width="3" height="8" fill="#00ff00"/>
<rect x="1040" y="706" width="3" height="10" fill="#00ff00"/>
<rect x="1048" y="706" width="3" height="8" fill="#00ff00"/>
<rect x="1056" y="706" width="3" height="7" fill="#00ff00"/>
<rect x="1064" y="706" width="3" height="10" fill="#00ff00"/>
<rect x="1072" y="706" width="3" height="16" fill="#00ff00"/>
<rect x="1080" y="706" width="3" height="20" fill="#00ff00"/>
<rect x="1088" y="706" width="3" height="18" fill="#00ff00"/>
<rect x="1096" y="706" width="3" height="17" fill="#00ff00"/>
<rect x="1104" y="706" width="3" height="16" fill="#00ff00"/>
<rect x="1112" y="706" width="3" height="12" fill="#00ff00"/>
<rect x="1120" y="706" width="3" height="11" fill="#00ff00"/>
<rect x="1128" y="706" width="3" height="17" fill="#00ff00"/>
<rect x="1136" y="706" width="3" height="20" fill="#00ff00"/>
<rect x="1144" y="706" width="3" height="22" fill="#00ff00"/>
<rect x="1152" y="706" width="3" height="23" fill="#00ff00"/>
<rect x="1160" y="706" width="3" height="23" fill="#00ff00"/>
<rect x="1168" y="706" width="3" height="23" fill="#00ff00"/>
<rect x="1176" y="706" width="3" height="24" fill="#00ff00"/>
<rect x="1184" y="706" width="3" height="21" fill="#00ff00"/>
<rect x="1192" y="706" width="3" height="18" fill="#00ff00"/>
<rect x="1200" y="706" width="3" height="18" fill="#00ff00"/>
<rect x="1208" y="706" width="3" height="17" fill="#00ff00"/>
<rect x="1216" y="706" width="3" height="16" fill="#00ff00"/>
<rect x="1224" y="706" width="3" height="9" fill="#00ff00"/>
<rect x="1232" y="706" width="3" height="2" fill="#00ff00"/>
<rect x="1240" y="705" width="3" height="1" fill="#00ff00"/>
<rect x="1248" y="703" width="3" height="3" fill="#00ff00"/>
<rect x="1256" y="703" width="3" height="3" fill="#00ff00"/>
<rect x="1264" y="701" width="3" height="5" fill="#00ff00"/>
<rect x="1272" y="700" width="3" height="6" fill="#00ff00"/>
<rect x="1280" y="700" width="3" height="6" fill="#00ff00"/>
<rect x="1288" y="701" width="3" height="5" fill="#00ff00"/>
<rect x="1296" y="702" width="3" height="4" fill="#00ff00"/>
<rect x="1304" y="704" width="3" height="2" fill="#00ff00"/>
<rect x="1312" y="705" width="3" height="1" fill="#00ff00"/>
</g>
<polyline points="-6.5,643.6 1.5,646.9 9.5,650.2 17.5,654.6 25.5,659.1 33.5,664.4 41.5,671.2 49.5,678.6 57.5,685.8 65.5,692.9 73.5,699.4 81.5,705.5 89.5,710.8 97.5,714.4 105.5,715.9 113.5,716.4 121.5,715.7 129.5,714.5 137.5,714.4 145.5,715.2 153.5,716.2 161.5,717.6 169.5,720.9 177.5,725.6 185.5,730.6 193.5,736.0 201.5,741.5 209.5,746.4 217.5,751.5 225.5,756.7 233.5,761.9 241.5,765.8 249.5,768.6 257.5,770.8 265.5,772.6 273.5,774.1 281.5,774.9 289.5,774.5 297.5,773.2 305.5,771.1 313.5,767.6 321.5,763.1 329.5,758.2 337.5,752.9 345.5,746.3 353.5,738.6 361.5,729.9 369.5,720.6 377.5,711.0 385.5,702.0 393.5,694.0 401.5,686.8 409.5,681.1 417.5,677.3 425.5,675.5 433.5,676.5 441.5,679.8 449.5,684.9 457.5,691.5 465.5,698.8 473.5,706.7 481.5,714.0 489.5,720.6 497.5,726.7 505.5,731.0 513.5,734.0 521.5,736.1 529.5,736.5 537.5,735.9 545.5,734.4 553.5,732.5 561.5,730.1 569.5,727.2 577.5,724.1 585.5,721.2 593.5,718.7 601.5,717.4 609.5,717.3 617.5,717.7 625.5,719.6 633.5,722.4 641.5,725.9 649.5,729.5 657.5,732.7 665.5,735.5 673.5,737.6 681.5,739.3 689.5,740.5 697.5,740.4 705.5,739.3 713.5,737.5 721.5,735.4 729.5,733.0 737.5,730.4 745.5,727.6 753.5,724.3 761.5,721.1 769.5,717.6 777.5,714.1 785.5,710.7 793.5,707.3 801.5,704.2 809.5,701.7 817.5,699.2 825.5,697.2 833.5,695.3 841.5,693.6 849.5,692.1 857.5,691.0 865.5,690.1 873.5,689.5 881.5,688.0 889.5,686.1 897.5,683.1 905.5,679.6 913.5,675.8 921.5,671.6 929.5,666.7 937.5,661.3 945.5,656.4 953.5,652.9 961.5,650.1 969.5,648.5 977.5,647.9 985.5,648.4 993.5,650.3 1001.5,653.8 1009.5,658.8 1017.5,664.0 1025.5,670.3 1033.5,677.4 1041.5,684.6 1049.5,691.2 1057.5,697.0 1065.5,702.4 1073.5,707.8 1081.5,712.5 1089.5,716.5 1097.5,718.7 1105.5,719.6 1113.5,719.8 1121.5,720.1 1129.5,721.2 1137.5,722.4 1145.5,723.0 1153.5,723.3 1161.5,723.8 1169.5,724.4 1177.5,725.3 1185.5,726.3 1193.5,727.2 1201.5,727.3 1209.5,726.9 1217.5,726.2 1225.5,724.7 1233.5,722.4 1241.5,719.8 1249.5,716.8 1257.5,714.1 1265.5,711.5 1273.5,708.8 1281.5,706.3 1289.5,704.0 1297.5,702.6 1305.5,702.2 1313.5,702.4" fill="none" stroke="#ff0000" stroke-width="2" shape-rendering="crispEdges"/>
<polyline points="-6.5,851.9 1.5,851.9 9.5,851.8 17.5,855.6 25.5,869.6 33.5,879.7 41.5,871.7 49.5,873.5 57.5,875.0 65.5,860.5 73.5,862.7 81.5,865.2 89.5,858.7 97.5,852.4 105.5,851.7 113.5,858.1 121.5,853.8 129.5,861.3 137.5,875.6 145.5,874.9 153.5,870.2 161.5,868.8 169.5,883.6 177.5,880.9 185.5,873.2 193.5,870.9 201.5,875.7 209.5,879.7 217.5,885.1 225.5,881.0 233.5,881.0 241.5,880.6 249.5,877.4 257.5,872.5 265.5,873.5 273.5,878.7 281.5,878.3 289.5,878.0 297.5,869.7 305.5,866.7 313.5,853.7 321.5,849.8 329.5,851.4 337.5,851.4 345.5,841.1 353.5,835.8 361.5,835.1 369.5,831.0 377.5,831.5 385.5,831.4 393.5,839.7 401.5,841.6 409.5,857.4 417.5,861.5 425.5,860.4 433.5,880.1 441.5,876.5 449.5,874.6 457.5,877.3 465.5,876.1 473.5,876.7 481.5,871.5 489.5,872.5 497.5,871.8 505.5,870.6 513.5,871.3 521.5,870.8 529.5,853.7 537.5,855.6 545.5,859.9 553.5,855.2 561.5,856.3 569.5,852.8 577.5,850.3 585.5,866.1 593.5,865.9 601.5,875.3 609.5,876.8 617.5,875.1 625.5,887.3 633.5,883.0 641.5,878.3 649.5,867.3 657.5,868.7 665.5,864.9 673.5,870.4 681.5,874.7 689.5,865.1 697.5,864.3 705.5,862.2 713.5,858.5 721.5,855.5 729.5,851.7 737.5,852.7 745.5,857.6 753.5,854.5 761.5,852.5 769.5,847.4 777.5,844.6 785.5,844.0 793.5,841.5 801.5,838.7 809.5,856.6 817.5,848.6 825.5,855.9 833.5,848.9 841.5,844.7 849.5,845.2 857.5,847.9 865.5,847.7 873.5,841.8 881.5,832.3 889.5,832.3 897.5,823.3 905.5,826.8 913.5,824.4 921.5,822.1 929.5,817.9 937.5,819.5 945.5,841.1 953.5,846.2 961.5,842.8 969.5,841.8 977.5,843.2 985.5,848.8 993.5,858.8 1001.5,858.8 1009.5,867.1 1017.5,862.6 1025.5,880.9 1033.5,878.5 1041.5,863.7 1049.5,857.2 1057.5,856.9 1065.5,865.5 1073.5,871.1 1081.5,869.1 1089.5,860.5 1097.5,861.1 1105.5,860.0 1113.5,855.6 1121.5,858.9 1129.5,872.3 1137.5,868.2 1145.5,866.6 1153.5,866.6 1161.5,865.7 1169.5,866.3 1177.5,869.2 1185.5,859.8 1193.5,859.6 1201.5,864.7 1209.5,861.2 1217.5,861.6 1225.5,847.8 1233.5,845.0 1241.5,850.0 1249.5,854.2 1257.5,855.4 1265.5,852.2 1273.5,852.9 1281.5,854.1 1289.5,858.6 1297.5,858.3 1305.5,863.5 1313.5,863.5" fill="none" stroke="#1e90ff" stroke-width="2" shape-rendering="crispEdges"/>
<line x1="0" y1="817.5" x2="1652" y2="817.5" stroke="#000" stroke-width="1" stroke-dasharray="3,3" shape-rendering="crispEdges"/>
<line x1="0" y1="857.5" x2="1652" y2="857.5" stroke="#000" stroke-width="1" stroke-dasharray="3,3" shape-rendering="crispEdges"/>
<line x1="0" y1="905.5" x2="1652" y2="905.5" stroke="#000" stroke-width="1" stroke-dasharray="3,3" shape-rendering="crispEdges"/>
<text x="1658" y="34.8" font-size="9.6" fill="#000" text-anchor="start" textLength="33" lengthAdjust="spacingAndGlyphs" stroke="#000" stroke-width="0.3">6.81870</text>
<text x="1658" y="67.8" font-size="9.6" fill="#000" text-anchor="start" textLength="33" lengthAdjust="spacingAndGlyphs" stroke="#000" stroke-width="0.3">6.80730</text>
<text x="1658" y="100.8" font-size="9.6" fill="#000" text-anchor="start" textLength="33" lengthAdjust="spacingAndGlyphs" stroke="#000" stroke-width="0.3">6.79590</text>
<text x="1658" y="133.8" font-size="9.6" fill="#000" text-anchor="start" textLength="33" lengthAdjust="spacingAndGlyphs" stroke="#000" stroke-width="0.3">6.78450</text>
<text x="1658" y="166.8" font-size="9.6" fill="#000" text-anchor="start" textLength="33" lengthAdjust="spacingAndGlyphs" stroke="#000" stroke-width="0.3">6.77280</text>
<text x="1658" y="199.8" font-size="9.6" fill="#000" text-anchor="start" textLength="33" lengthAdjust="spacingAndGlyphs" stroke="#000" stroke-width="0.3">6.76140</text>
<text x="1658" y="232.8" font-size="9.6" fill="#000" text-anchor="start" textLength="33" lengthAdjust="spacingAndGlyphs" stroke="#000" stroke-width="0.3">6.75000</text>
<text x="1658" y="265.8" font-size="9.6" fill="#000" text-anchor="start" textLength="33" lengthAdjust="spacingAndGlyphs" stroke="#000" stroke-width="0.3">6.73860</text>
<text x="1658" y="298.8" font-size="9.6" fill="#000" text-anchor="start" textLength="33" lengthAdjust="spacingAndGlyphs" stroke="#000" stroke-width="0.3">6.72690</text>
<text x="1658" y="331.8" font-size="9.6" fill="#000" text-anchor="start" textLength="33" lengthAdjust="spacingAndGlyphs" stroke="#000" stroke-width="0.3">6.71550</text>
<text x="1658" y="364.8" font-size="9.6" fill="#000" text-anchor="start" textLength="33" lengthAdjust="spacingAndGlyphs" stroke="#000" stroke-width="0.3">6.70410</text>
<text x="1658" y="397.8" font-size="9.6" fill="#000" text-anchor="start" textLength="33" lengthAdjust="spacingAndGlyphs" stroke="#000" stroke-width="0.3">6.69270</text>
<text x="1658" y="430.8" font-size="9.6" fill="#000" text-anchor="start" textLength="33" lengthAdjust="spacingAndGlyphs" stroke="#000" stroke-width="0.3">6.68100</text>
<text x="1658" y="463.8" font-size="9.6" fill="#000" text-anchor="start" textLength="33" lengthAdjust="spacingAndGlyphs" stroke="#000" stroke-width="0.3">6.66960</text>
<text x="1658" y="496.8" font-size="9.6" fill="#000" text-anchor="start" textLength="33" lengthAdjust="spacingAndGlyphs" stroke="#000" stroke-width="0.3">6.65820</text>
<text x="1658" y="529.8" font-size="9.6" fill="#000" text-anchor="start" textLength="33" lengthAdjust="spacingAndGlyphs" stroke="#000" stroke-width="0.3">6.64680</text>
<text x="1658" y="562.8" font-size="9.6" fill="#000" text-anchor="start" textLength="33" lengthAdjust="spacingAndGlyphs" stroke="#000" stroke-width="0.3">6.63510</text>
<text x="1658" y="595.8" font-size="9.6" fill="#000" text-anchor="start" textLength="33" lengthAdjust="spacingAndGlyphs" stroke="#000" stroke-width="0.3">6.62370</text>
<text x="1658" y="628.8" font-size="9.6" fill="#000" text-anchor="start" textLength="33" lengthAdjust="spacingAndGlyphs" stroke="#000" stroke-width="0.3">6.61230</text>
<g shape-rendering="crispEdges">
<rect x="1654" y="296" width="41" height="11" fill="#ff0000"/>
<rect x="1654" y="328" width="41" height="11" fill="#ff0000"/>
<rect x="1654" y="366" width="41" height="11" fill="#ffa500"/>
<rect x="1654" y="412" width="41" height="11" fill="#0000ff"/>
<rect x="1654" y="445" width="41" height="11" fill="#0000ff"/>
<rect x="1654" y="380" width="41" height="11" fill="#000"/>
</g>
<text x="1658" y="304.8" font-size="9.6" fill="#fff" text-anchor="start" textLength="33" lengthAdjust="spacingAndGlyphs" stroke="#fff" stroke-width="0.12">6.72458</text>
<text x="1658" y="336.8" font-size="9.6" fill="#fff" text-anchor="start" textLength="33" lengthAdjust="spacingAndGlyphs" stroke="#fff" stroke-width="0.12">6.71347</text>
<text x="1658" y="374.8" font-size="9.6" fill="#fff" text-anchor="start" textLength="33" lengthAdjust="spacingAndGlyphs" stroke="#fff" stroke-width="0.12">6.70022</text>
<text x="1658" y="420.8" font-size="9.6" fill="#fff" text-anchor="start" textLength="33" lengthAdjust="spacingAndGlyphs" stroke="#fff" stroke-width="0.12">6.68431</text>
<text x="1658" y="453.8" font-size="9.6" fill="#fff" text-anchor="start" textLength="33" lengthAdjust="spacingAndGlyphs" stroke="#fff" stroke-width="0.12">6.67285</text>
<text x="1658" y="388.8" font-size="9.6" fill="#fff" text-anchor="start" textLength="33" lengthAdjust="spacingAndGlyphs" stroke="#fff" stroke-width="0.12">6.69558</text>
<text x="1656" y="640.8" font-size="9.6" fill="#000" text-anchor="start" textLength="33.2" lengthAdjust="spacingAndGlyphs" stroke="#000" stroke-width="0.3">0.02829</text>
<text x="1656" y="709.8" font-size="9.6" fill="#000" text-anchor="start" textLength="18.4" lengthAdjust="spacingAndGlyphs" stroke="#000" stroke-width="0.3">0.00</text>
<text x="1655.6" y="782.8" font-size="9.6" fill="#000" text-anchor="start" textLength="41.6" lengthAdjust="spacingAndGlyphs" stroke="#000" stroke-width="0.3">-0.030537</text>
<text x="1655.6" y="798.8" font-size="9.6" fill="#000" text-anchor="start" textLength="15.2" lengthAdjust="spacingAndGlyphs" stroke="#000" stroke-width="0.3">100</text>
<text x="1655" y="820.8" font-size="9.6" fill="#000" text-anchor="start" textLength="10.2" lengthAdjust="spacingAndGlyphs" stroke="#000" stroke-width="0.3">80</text>
<text x="1655" y="860.8" font-size="9.6" fill="#000" text-anchor="start" textLength="10.2" lengthAdjust="spacingAndGlyphs" stroke="#000" stroke-width="0.3">50</text>
<text x="1655" y="908.8" font-size="9.6" fill="#000" text-anchor="start" textLength="10.2" lengthAdjust="spacingAndGlyphs" stroke="#000" stroke-width="0.3">15</text>
<text x="1656" y="922.8" font-size="9.6" fill="#000" text-anchor="start" textLength="5.2" lengthAdjust="spacingAndGlyphs" stroke="#000" stroke-width="0.3">0</text>
<text x="-8.1" y="939" font-size="9.6" fill="#000" text-anchor="start" textLength="54.5" lengthAdjust="spacingAndGlyphs" stroke="#000" stroke-width="0.3">16 May 2022</text>
<text x="55.9" y="939" font-size="9.6" fill="#000" text-anchor="start" textLength="58.4" lengthAdjust="spacingAndGlyphs" stroke="#000" stroke-width="0.3">17 May 20:00</text>
<text x="119.9" y="939" font-size="9.6" fill="#000" text-anchor="start" textLength="58.4" lengthAdjust="spacingAndGlyphs" stroke="#000" stroke-width="0.3">19 May 04:00</text>
<text x="183.9" y="939" font-size="9.6" fill="#000" text-anchor="start" textLength="58.4" lengthAdjust="spacingAndGlyphs" stroke="#000" stroke-width="0.3">20 May 12:00</text>
<text x="247.9" y="939" font-size="9.6" fill="#000" text-anchor="start" textLength="58.4" lengthAdjust="spacingAndGlyphs" stroke="#000" stroke-width="0.3">24 May 00:00</text>
<text x="311.9" y="939" font-size="9.6" fill="#000" text-anchor="start" textLength="58.4" lengthAdjust="spacingAndGlyphs" stroke="#000" stroke-width="0.3">25 May 08:00</text>
<text x="375.9" y="939" font-size="9.6" fill="#000" text-anchor="start" textLength="58.4" lengthAdjust="spacingAndGlyphs" stroke="#000" stroke-width="0.3">26 May 16:00</text>
<text x="439.9" y="939" font-size="9.6" fill="#000" text-anchor="start" textLength="58.4" lengthAdjust="spacingAndGlyphs" stroke="#000" stroke-width="0.3">30 May 04:00</text>
<text x="503.9" y="939" font-size="9.6" fill="#000" text-anchor="start" textLength="58.4" lengthAdjust="spacingAndGlyphs" stroke="#000" stroke-width="0.3">31 May 12:00</text>
<text x="567.9" y="939" font-size="9.6" fill="#000" text-anchor="start" textLength="48.2" lengthAdjust="spacingAndGlyphs" stroke="#000" stroke-width="0.3">1 Jun 20:00</text>
<text x="631.9" y="939" font-size="9.6" fill="#000" text-anchor="start" textLength="48.2" lengthAdjust="spacingAndGlyphs" stroke="#000" stroke-width="0.3">3 Jun 04:00</text>
<text x="695.9" y="939" font-size="9.6" fill="#000" text-anchor="start" textLength="48.2" lengthAdjust="spacingAndGlyphs" stroke="#000" stroke-width="0.3">6 Jun 16:00</text>
<text x="759.9" y="939" font-size="9.6" fill="#000" text-anchor="start" textLength="48.2" lengthAdjust="spacingAndGlyphs" stroke="#000" stroke-width="0.3">8 Jun 00:00</text>
<text x="823.9" y="939" font-size="9.6" fill="#000" text-anchor="start" textLength="48.2" lengthAdjust="spacingAndGlyphs" stroke="#000" stroke-width="0.3">9 Jun 08:00</text>
<text x="887.9" y="939" font-size="9.6" fill="#000" text-anchor="start" textLength="53.2" lengthAdjust="spacingAndGlyphs" stroke="#000" stroke-width="0.3">10 Jun 16:00</text>
<text x="951.9" y="939" font-size="9.6" fill="#000" text-anchor="start" textLength="53.2" lengthAdjust="spacingAndGlyphs" stroke="#000" stroke-width="0.3">14 Jun 04:00</text>
<text x="1015.9" y="939" font-size="9.6" fill="#000" text-anchor="start" textLength="53.2" lengthAdjust="spacingAndGlyphs" stroke="#000" stroke-width="0.3">15 Jun 12:00</text>
<text x="1079.9" y="939" font-size="9.6" fill="#000" text-anchor="start" textLength="53.2" lengthAdjust="spacingAndGlyphs" stroke="#000" stroke-width="0.3">16 Jun 20:00</text>
<text x="1143.9" y="939" font-size="9.6" fill="#000" text-anchor="start" textLength="53.2" lengthAdjust="spacingAndGlyphs" stroke="#000" stroke-width="0.3">20 Jun 08:00</text>
<text x="1207.9" y="939" font-size="9.6" fill="#000" text-anchor="start" textLength="53.2" lengthAdjust="spacingAndGlyphs" stroke="#000" stroke-width="0.3">21 Jun 16:00</text>
<text x="1271.9" y="939" font-size="9.6" fill="#000" text-anchor="start" textLength="53.2" lengthAdjust="spacingAndGlyphs" stroke="#000" stroke-width="0.3">23 Jun 00:00</text>
<text x="8" y="36.6" font-size="9.6" fill="#000" text-anchor="start" textLength="59.6" lengthAdjust="spacingAndGlyphs" stroke="#000" stroke-width="0.3">USDCNH-,H4</text>
<text x="73.1" y="36.6" font-size="9.6" fill="#000" text-anchor="start" textLength="33" lengthAdjust="spacingAndGlyphs" stroke="#000" stroke-width="0.3">6.69567</text>
<text x="109.05" y="36.6" font-size="9.6" fill="#000" text-anchor="start" textLength="33" lengthAdjust="spacingAndGlyphs" stroke="#000" stroke-width="0.3">6.69834</text>
<text x="145.0" y="36.6" font-size="9.6" fill="#000" text-anchor="start" textLength="33" lengthAdjust="spacingAndGlyphs" stroke="#000" stroke-width="0.3">6.69364</text>
<text x="180.95" y="36.6" font-size="9.6" fill="#000" text-anchor="start" textLength="33" lengthAdjust="spacingAndGlyphs" stroke="#000" stroke-width="0.3">6.69558</text>
<polygon points="-1,31.6 3.6,31.6 1.3,34.6" fill="#000"/>
<text x="-1.5" y="642.6" font-size="9.6" fill="#000" text-anchor="start" textLength="149.5" lengthAdjust="spacingAndGlyphs" stroke="#000" stroke-width="0.3">MACD(12,26,9) -0.000142 0.001357</text>
<text x="-1.5" y="800.6" font-size="9.6" fill="#000" text-anchor="start" textLength="66.5" lengthAdjust="spacingAndGlyphs" stroke="#000" stroke-width="0.3">RSI(14) 45.6758</text>
<g shape-rendering="crispEdges">
<rect x="1697" y="23" width="1" height="920" fill="#f7f7f7"/>
<rect x="1698" y="23" width="1" height="920" fill="#e2e2e2"/>
</g>
<g id="toolbar">
<g shape-rendering="crispEdges">
<rect x="0" y="0" width="1699" height="21" fill="#f0f0f0"/>
<rect x="0" y="21" width="1699" height="1" fill="#a0a0a0"/>
<rect x="0" y="22" width="1699" height="1" fill="#696969"/>
<rect x="0" y="23" width="1699" height="2" fill="#ffffff"/>
</g>
<circle cx="-4.6" cy="6.5" r="5" fill="#cfe6fa" stroke="#3a86d8" stroke-width="1.4"/>
<line x1="0.5" y1="12.5" x2="4" y2="16.5" stroke="#c89a1e" stroke-width="2.6" stroke-linecap="round"/>
<rect x="9" y="0" width="1" height="19" fill="#fafafa" shape-rendering="crispEdges"/>
<rect x="13" y="0" width="1" height="19" fill="#a0a0a0" shape-rendering="crispEdges"/>
<path d="M23.5 2.5H31.5L34.5 5.5V14.5H23.5Z" fill="#fdfdfd" stroke="#8c8c8c" stroke-width="1"/>
<path d="M31.5 2.5V5.5H34.5" fill="none" stroke="#8c8c8c" stroke-width="1"/>
<path d="M25.5 4.5H28.5M25.5 7.5H31M25.5 9.5H30" stroke="#b0b0b0" stroke-width="1"/>
<path d="M31.2 7.5H34.8V11.2H38.5V14.8H34.8V18.5H31.2V14.8H27.5V11.2H31.2Z" fill="#2fd52f" stroke="#12a012" stroke-width="0.9"/>
<polygon points="25.5,18 27,19.5 25.5,21 24,19.5" fill="#fff" stroke="#000" stroke-width="0.8"/>
<text x="41.8" y="11.8" font-size="12" fill="#000" stroke="#000" stroke-width="0.25" textLength="36.4" lengthAdjust="spacingAndGlyphs">新订单</text>
<path d="M95.5 2.2L106 8.5L99.5 16.5L90 11.5Z" fill="#e8b83a" stroke="#b8841a" stroke-width="1" stroke-linejoin="round"/>
<path d="M95.5 3.5L104 8.5L99 14.5L92 11Z" fill="#f6d766" opacity="0.7"/>
<path d="M90.5 12.5L99.5 17.2L105.8 9.8" fill="none" stroke="#9a6a10" stroke-width="1"/>
<path d="M121 1.5H131.5V10H121Z" fill="#3f93ea" stroke="#2a72c4" stroke-width="1"/>
<path d="M123.5 2.5H130.5V9H123.5Z" fill="#8cc4f6"/>
<path d="M125 5.5H129.5M125 7.5H129.5" stroke="#e8f4ff" stroke-width="1"/>
<path d="M120 16.5H132a2.6 2.6 0 0 0 0.3-5.1a3 3 0 0 0-5-1a3.6 3.6 0 0 0-6 1.6a2.3 2.3 0 0 0-1.3 4.5Z" fill="#e9eef6" stroke="#8fa6c8" stroke-width="1"/>
<path d="M154.5 17A8 8 0 1 1 160.1 3.4" fill="none" stroke="#4a74d8" stroke-width="1.1" opacity="0.35"/>
<path d="M160.1 3.4A8 8 0 0 1 154.5 17" fill="none" stroke="#4cae4c" stroke-width="1.3" opacity="0.35"/>
<path d="M154.5 14.8A5.8 5.8 0 1 1 158.6 4.9" fill="none" stroke="#4a74d8" stroke-width="1.1" opacity="0.6"/>
<path d="M158.6 4.9A5.8 5.8 0 0 1 154.5 14.8" fill="none" stroke="#4cae4c" stroke-width="1.3" opacity="0.6"/>
<path d="M154.5 12.4A3.4 3.4 0 1 1 156.9 6.6" fill="none" stroke="#4a74d8" stroke-width="1.1" opacity="0.9"/>
<path d="M156.9 6.6A3.4 3.4 0 0 1 154.5 12.4" fill="none" stroke="#4cae4c" stroke-width="1.3" opacity="0.9"/>
<circle cx="154" cy="8.5" r="1.6" fill="#2d5fd0"/>
<path d="M154.6 9V16.6" stroke="#2fa82f" stroke-width="1.8" fill="none"/>
<path d="M175 8L187.5 8L184 16L180 15Z" fill="#f5d848" stroke="#d0a820" stroke-width="1" stroke-linejoin="round"/>
<ellipse cx="181" cy="5.5" rx="8" ry="2.8" fill="#6aaee0" stroke="#3f86c8" stroke-width="1"/>
<path d="M177 5C177 1.5 185 1.5 185 5Z" fill="#5aa4dc" stroke="#3f86c8" stroke-width="1"/>
<circle cx="185.5" cy="12.5" r="4.2" fill="#dc2a14"/>
<rect x="184" y="11" width="3" height="3" fill="#fff"/>
<text x="194.4" y="11.8" font-size="12" fill="#000" stroke="#000" stroke-width="0.25" textLength="47" lengthAdjust="spacingAndGlyphs">自动交易</text>
<rect x="249" y="0" width="1" height="21" fill="#fbfbfb" shape-rendering="crispEdges"/>
<rect x="253" y="1" width="3" height="1" fill="#a8a8a8" shape-rendering="crispEdges"/>
<rect x="253" y="3" width="3" height="1" fill="#a8a8a8" shape-rendering="crispEdges"/>
<rect x="253" y="5" width="3" height="1" fill="#a8a8a8" shape-rendering="crispEdges"/>
<rect x="253" y="7" width="3" height="1" fill="#a8a8a8" shape-rendering="crispEdges"/>
<rect x="253" y="9" width="3" height="1" fill="#a8a8a8" shape-rendering="crispEdges"/>
<rect x="253" y="11" width="3" height="1" fill="#a8a8a8" shape-rendering="crispEdges"/>
<rect x="253" y="13" width="3" height="1" fill="#a8a8a8" shape-rendering="crispEdges"/>
<rect x="253" y="15" width="3" height="1" fill="#a8a8a8" shape-rendering="crispEdges"/>
<rect x="253" y="17" width="3" height="1" fill="#a8a8a8" shape-rendering="crispEdges"/>
<path d="M267.5 4V17 M265.0 14.5H277.5" stroke="#5a5a5a" stroke-width="1" fill="none" shape-rendering="crispEdges"/>
<path d="M265.7 5.2L267.5 3.2L269.3 5.2Z M276.8 12.8L278.7 14.5L276.8 16.2Z" fill="#5a5a5a"/>
<path d="M273.5 4V13M273.5 5.5H276.5M271 11.5H273.5" stroke="#0a8a0a" stroke-width="1.3" fill="none"/>
<rect x="287" y="0" width="1" height="19" fill="#a0a0a0" shape-rendering="crispEdges"/>
<rect x="288" y="0" width="24" height="19" fill="#f8f8f8" shape-rendering="crispEdges"/>
<path d="M295.5 4V17 M293.0 14.5H305.5" stroke="#5a5a5a" stroke-width="1" fill="none" shape-rendering="crispEdges"/>
<path d="M293.7 5.2L295.5 3.2L297.3 5.2Z M304.8 12.8L306.7 14.5L304.8 16.2Z" fill="#5a5a5a"/>
<path d="M301.5 1V13" stroke="#0a8a0a" stroke-width="1.2"/>
<rect x="299.5" y="3.5" width="4.5" height="7.5" fill="#22dd22" stroke="#0a9a0a" stroke-width="1"/>
<path d="M323.5 4V17 M321.0 14.5H333.5" stroke="#5a5a5a" stroke-width="1" fill="none" shape-rendering="crispEdges"/>
<path d="M321.7 5.2L323.5 3.2L325.3 5.2Z M332.8 12.8L334.7 14.5L332.8 16.2Z" fill="#5a5a5a"/>
<path d="M322.5 12C325 10 326.5 6 328.5 6C330.5 6 332 9.5 334 10.5" stroke="#2a9a2a" stroke-width="1.2" fill="none"/>
<rect x="344" y="0" width="1" height="19" fill="#a0a0a0" shape-rendering="crispEdges"/>
<line x1="363" y1="11" x2="368" y2="16" stroke="#c89a1e" stroke-width="3.2" stroke-linecap="round"/>
<line x1="363.5" y1="11" x2="368" y2="15.5" stroke="#f3d76a" stroke-width="1.2" stroke-linecap="round"/>
<circle cx="359" cy="7" r="5.5" fill="#d6ecfb" stroke="#3a86d8" stroke-width="1.4"/>
<path d="M356 7H362M359 4V10" stroke="#3b84b8" stroke-width="1.8"/>
<line x1="391" y1="11" x2="396" y2="16" stroke="#c89a1e" stroke-width="3.2" stroke-linecap="round"/>
<line x1="391.5" y1="11" x2="396" y2="15.5" stroke="#f3d76a" stroke-width="1.2" stroke-linecap="round"/>
<circle cx="387" cy="7" r="5.5" fill="#d6ecfb" stroke="#3a86d8" stroke-width="1.4"/>
<path d="M384 7H390" stroke="#3b84b8" stroke-width="1.8"/>
<rect x="409" y="1" width="8" height="7.5" rx="1" fill="#3fa822"/>
<rect x="410.2" y="4" width="5.6" height="3.5" fill="#fff"/>
<rect x="411.2" y="5" width="3.6" height="1" fill="#3fa822" opacity="0.5"/>
<rect x="417.5" y="1" width="8" height="7.5" rx="1" fill="#2c5fdc"/>
<rect x="418.7" y="4" width="5.6" height="3.5" fill="#fff"/>
<rect x="419.7" y="5" width="3.6" height="1" fill="#2c5fdc" opacity="0.5"/>
<rect x="409" y="9.5" width="8" height="7.5" rx="1" fill="#2c5fdc"/>
<rect x="410.2" y="12.5" width="5.6" height="3.5" fill="#fff"/>
<rect x="411.2" y="13.5" width="3.6" height="1" fill="#2c5fdc" opacity="0.5"/>
<rect x="417.5" y="9.5" width="8" height="7.5" rx="1" fill="#3fa822"/>
<rect x="418.7" y="12.5" width="5.6" height="3.5" fill="#fff"/>
<rect x="419.7" y="13.5" width="3.6" height="1" fill="#3fa822" opacity="0.5"/>
<rect x="434" y="0" width="1" height="19" fill="#a0a0a0" shape-rendering="crispEdges"/>
<rect x="439" y="0" width="1" height="19" fill="#a0a0a0" shape-rendering="crispEdges"/>
<rect x="440" y="0" width="24" height="19" fill="#f8f8f8" shape-rendering="crispEdges"/>
<path d="M447.5 4V17 M445.0 14.5H457.5" stroke="#5a5a5a" stroke-width="1" fill="none" shape-rendering="crispEdges"/>
<path d="M445.7 5.2L447.5 3.2L449.3 5.2Z M456.8 12.8L458.7 14.5L456.8 16.2Z" fill="#5a5a5a"/>
<polygon points="452.5,5 452.5,12 456.5,8.5" fill="#5fdc5f" stroke="#14a014" stroke-width="1"/>
<rect x="467" y="0" width="1" height="19" fill="#a0a0a0" shape-rendering="crispEdges"/>
<rect x="468" y="0" width="24" height="19" fill="#f8f8f8" shape-rendering="crispEdges"/>
<path d="M475.5 4V17 M473.0 14.5H485.5" stroke="#5a5a5a" stroke-width="1" fill="none" shape-rendering="crispEdges"/>
<path d="M473.7 5.2L475.5 3.2L477.3 5.2Z M484.8 12.8L486.7 14.5L484.8 16.2Z" fill="#5a5a5a"/>
<path d="M481.5 3V13" stroke="#1a6a9a" stroke-width="1.3"/>
<path d="M487.5 8.5H483M485 6.5L483 8.5L485 10.5" stroke="#d84a0a" stroke-width="1.3" fill="none"/>
<rect x="496" y="0" width="1" height="19" fill="#a0a0a0" shape-rendering="crispEdges"/>
<path d="M506.5 2.5H514.5L517.5 5.5V14.5H506.5Z" fill="#fdfdfd" stroke="#8c8c8c" stroke-width="1"/>
<path d="M514.5 2.5V5.5H517.5" fill="none" stroke="#8c8c8c" stroke-width="1"/>
<text x="508.5" y="11" font-size="9" font-style="italic" fill="#555" font-family="Liberation Serif, serif">f</text>
<path d="M514.2 7.5H517.8V11.2H521.5V14.8H517.8V18.5H514.2V14.8H510.5V11.2H514.2Z" fill="#2fd52f" stroke="#12a012" stroke-width="0.9"/>
<polygon points="527.5,8 533.5,8 530.5,11.5" fill="#000"/>
<circle cx="552" cy="9" r="6.6" fill="#fdfdfd" stroke="#1f77d8" stroke-width="3"/>
<circle cx="552" cy="9" r="7.9" fill="none" stroke="#1560c0" stroke-width="0.6"/>
<path d="M552 5.5V9.5H554.6" stroke="#333" stroke-width="1.1" fill="none"/>
<path d="M552 3.6V4.4M552 13.6V14.4M546.6 9H547.4M556.6 9H557.4" stroke="#888" stroke-width="0.8"/>
<polygon points="566.5,8 572.5,8 569.5,11.5" fill="#000"/>
<rect x="583.5" y="2.5" width="15.5" height="13" fill="#fff" stroke="#3c7cc8" stroke-width="1.2"/>
<rect x="584" y="3" width="14.5" height="2" fill="#5c9ce0"/>
<path d="M584 9.5H598.5" stroke="#3c7cc8" stroke-width="1"/>
<path d="M585.5 8L588 8L590 6.5L592.5 7.5L595 7L597 6.5" stroke="#a01010" stroke-width="1.2" fill="none"/>
<path d="M586 13.5L588.5 13L590 13.5L593 11.5L595 12.5L597 13.5" stroke="#108a10" stroke-width="1.2" fill="none"/>
<polygon points="605.5,8 611.5,8 608.5,11.5" fill="#000"/>
<rect x="617" y="0" width="1" height="21" fill="#c8c8c8" shape-rendering="crispEdges"/>
<rect x="618" y="0" width="1" height="21" fill="#fbfbfb" shape-rendering="crispEdges"/>
<rect x="621" y="1" width="3" height="1" fill="#a8a8a8" shape-rendering="crispEdges"/>
<rect x="621" y="3" width="3" height="1" fill="#a8a8a8" shape-rendering="crispEdges"/>
<rect x="621" y="5" width="3" height="1" fill="#a8a8a8" shape-rendering="crispEdges"/>
<rect x="621" y="7" width="3" height="1" fill="#a8a8a8" shape-rendering="crispEdges"/>
<rect x="621" y="9" width="3" height="1" fill="#a8a8a8" shape-rendering="crispEdges"/>
<rect x="621" y="11" width="3" height="1" fill="#a8a8a8" shape-rendering="crispEdges"/>
<rect x="621" y="13" width="3" height="1" fill="#a8a8a8" shape-rendering="crispEdges"/>
<rect x="621" y="15" width="3" height="1" fill="#a8a8a8" shape-rendering="crispEdges"/>
<rect x="621" y="17" width="3" height="1" fill="#a8a8a8" shape-rendering="crispEdges"/>
<rect x="627" y="0" width="1" height="19" fill="#a0a0a0" shape-rendering="crispEdges"/>
<rect x="628" y="0" width="24" height="19" fill="#f8f8f8" shape-rendering="crispEdges"/>
<path d="M635 2L635 13L637.6 10.8L640 16L641.8 15.2L639.5 10L642.8 9.7Z" fill="#505050"/>
<path d="M667.5 2V8M667.5 11V17M660 9.5H666M669 9.5H675" stroke="#555" stroke-width="1.2"/>
<rect x="684" y="0" width="1" height="19" fill="#a0a0a0" shape-rendering="crispEdges"/>
<path d="M701.5 3V16" stroke="#555" stroke-width="1.2"/>
<path d="M724 9.5H736" stroke="#555" stroke-width="1.2"/>
<path d="M752 16L764 4" stroke="#555" stroke-width="1.2"/>
<path d="M778 11L786 3M779 15.5L791.5 4M783 15.5L792 7.5" stroke="#505050" stroke-width="1"/>
<path d="M780 9.5L781 14.5M783.5 7.5L784.5 12.5M787 5L788 11M789.5 1.5L790.5 8.5" stroke="#505050" stroke-width="1"/>
<text x="788.5" y="18" font-size="7.5" font-weight="bold" fill="#404040">E</text>
<path d="M807 2.5H820" stroke="#505050" stroke-width="1" stroke-dasharray="1,1" shape-rendering="crispEdges"/>
<path d="M807 5.5H820" stroke="#505050" stroke-width="1" stroke-dasharray="1,1" shape-rendering="crispEdges"/>
<path d="M807 9.5H820" stroke="#505050" stroke-width="1" stroke-dasharray="1,1" shape-rendering="crispEdges"/>
<path d="M807 13.5H816" stroke="#505050" stroke-width="1" stroke-dasharray="1,1" shape-rendering="crispEdges"/>
<text x="816.5" y="18" font-size="7.5" font-weight="bold" fill="#404040">F</text>
<text x="837.5" y="14" font-size="12" font-weight="bold" fill="#505050">A</text>
<rect x="864.5" y="3.5" width="11" height="12" fill="none" stroke="#505050" stroke-width="1" stroke-dasharray="1,1" shape-rendering="crispEdges"/>
<text x="866.2" y="13.8" font-size="11" font-weight="bold" fill="#505050">T</text>
<polygon points="894.5,3 898,6.5 891,6.5" fill="#505050"/><rect x="893" y="6.5" width="3" height="1.5" fill="#505050"/>
<polygon points="901.5,16 905,12.5 898,12.5" fill="#505050"/><rect x="900" y="11" width="3" height="1.5" fill="#505050"/>
<path d="M893.5 11L895.5 12.8L899.5 7.5" stroke="#505050" stroke-width="1.2" fill="none"/>
<polygon points="912,8 918,8 915,11.5" fill="#000"/>
<rect x="922" y="0" width="1" height="21" fill="#c8c8c8" shape-rendering="crispEdges"/>
<rect x="923" y="0" width="1" height="21" fill="#a0a0a0" shape-rendering="crispEdges"/>
<rect x="924" y="0" width="1" height="21" fill="#fbfbfb" shape-rendering="crispEdges"/>
<rect x="927" y="1" width="3" height="1" fill="#a8a8a8" shape-rendering="crispEdges"/>
<rect x="927" y="3" width="3" height="1" fill="#a8a8a8" shape-rendering="crispEdges"/>
<rect x="927" y="5" width="3" height="1" fill="#a8a8a8" shape-rendering="crispEdges"/>
<rect x="927" y="7" width="3" height="1" fill="#a8a8a8" shape-rendering="crispEdges"/>
<rect x="927" y="9" width="3" height="1" fill="#a8a8a8" shape-rendering="crispEdges"/>
<rect x="927" y="11" width="3" height="1" fill="#a8a8a8" shape-rendering="crispEdges"/>
<rect x="927" y="13" width="3" height="1" fill="#a8a8a8" shape-rendering="crispEdges"/>
<rect x="927" y="15" width="3" height="1" fill="#a8a8a8" shape-rendering="crispEdges"/>
<rect x="927" y="17" width="3" height="1" fill="#a8a8a8" shape-rendering="crispEdges"/>
<text x="938.5" y="12.9" font-size="9.6" fill="#333" stroke="#333" stroke-width="0.25" textLength="12.5" lengthAdjust="spacingAndGlyphs">M1</text>
<text x="966.5" y="12.9" font-size="9.6" fill="#333" stroke="#333" stroke-width="0.25" textLength="12.5" lengthAdjust="spacingAndGlyphs">M5</text>
<text x="992.3" y="12.9" font-size="9.6" fill="#333" stroke="#333" stroke-width="0.25" textLength="18" lengthAdjust="spacingAndGlyphs">M15</text>
<text x="1020.3" y="12.9" font-size="9.6" fill="#333" stroke="#333" stroke-width="0.25" textLength="18.3" lengthAdjust="spacingAndGlyphs">M30</text>
<text x="1051.3" y="12.9" font-size="9.6" fill="#333" stroke="#333" stroke-width="0.25" textLength="12" lengthAdjust="spacingAndGlyphs">H1</text>
<rect x="1073" y="0" width="1" height="19" fill="#a0a0a0" shape-rendering="crispEdges"/>
<rect x="1074" y="0" width="24" height="19" fill="#f8f8f8" shape-rendering="crispEdges"/>
<text x="1078.3" y="12.9" font-size="9.6" fill="#333" stroke="#333" stroke-width="0.25" textLength="12.5" lengthAdjust="spacingAndGlyphs">H4</text>
<text x="1107.3" y="12.9" font-size="9.6" fill="#333" stroke="#333" stroke-width="0.25" textLength="12" lengthAdjust="spacingAndGlyphs">D1</text>
<text x="1135" y="12.9" font-size="9.6" fill="#333" stroke="#333" stroke-width="0.25" textLength="14" lengthAdjust="spacingAndGlyphs">W1</text>
<text x="1161.5" y="12.9" font-size="9.6" fill="#333" stroke="#333" stroke-width="0.25" textLength="15" lengthAdjust="spacingAndGlyphs">MN</text>
<rect x="1184" y="0" width="1" height="21" fill="#a0a0a0" shape-rendering="crispEdges"/>
<rect x="1185" y="0" width="1" height="21" fill="#fbfbfb" shape-rendering="crispEdges"/>
<line x1="1651.5" y1="10" x2="1647" y2="14.2" stroke="#2f62d8" stroke-width="2.2" stroke-linecap="round"/>
<circle cx="1654.3" cy="6.5" r="3.9" fill="#f4f8ff" stroke="#3a6ee0" stroke-width="1.3"/>
<path d="M1672 11.5a5.5 4.2 0 1 1 4 4.1l-2.8 2l0.6-2.6a5 4 0 0 1-1.8-3.5Z" fill="#e8e8ee" stroke="#c0c0c8" stroke-width="0.8"/>
<circle cx="1685.5" cy="6.5" r="8.3" fill="#e03a1e"/>
<text x="1685.3" y="11" font-size="12.5" fill="#fff" text-anchor="middle">1</text>
</g>
</svg>
</body></html>
